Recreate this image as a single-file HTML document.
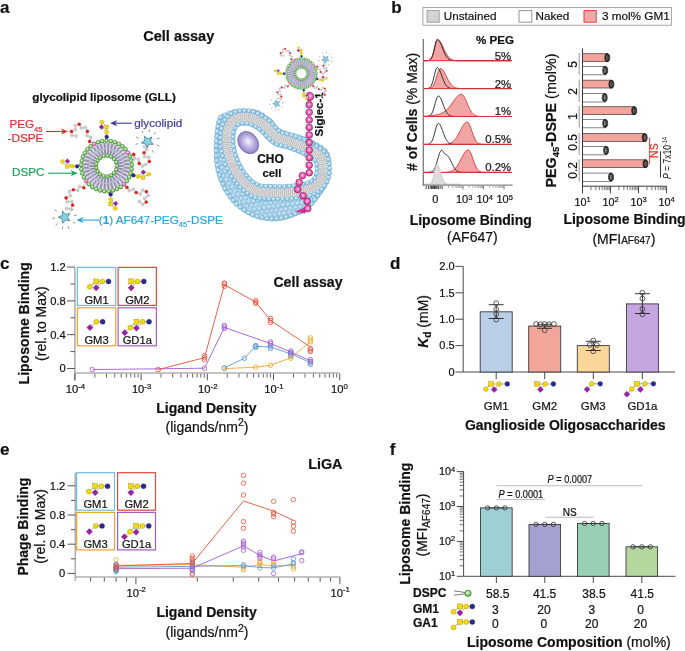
<!DOCTYPE html>
<html><head><meta charset="utf-8"><style>
html,body{margin:0;padding:0;background:#fff;}
svg{display:block;will-change:transform;}
text{font-family:"Liberation Sans", sans-serif;}
</style></head><body>
<svg width="685" height="651" viewBox="0 0 685 651">
<rect width="685" height="651" fill="#fff"/>
<defs>
<radialGradient id="gbead" cx="0.45" cy="0.4" r="0.6"><stop offset="0" stop-color="#e4f8d8"/><stop offset="0.45" stop-color="#a6dc8c"/><stop offset="1" stop-color="#4aa83a"/></radialGradient>
<radialGradient id="pbead" cx="0.45" cy="0.4" r="0.6"><stop offset="0" stop-color="#fbe0f0"/><stop offset="1" stop-color="#d84aa0"/></radialGradient>
<radialGradient id="bbead" cx="0.4" cy="0.35" r="0.65"><stop offset="0" stop-color="#e8f6fd"/><stop offset="0.45" stop-color="#b2daf0"/><stop offset="1" stop-color="#84bce0"/></radialGradient>
<radialGradient id="mbead" cx="0.5" cy="0.45" r="0.6"><stop offset="0" stop-color="#fde4f2"/><stop offset="0.35" stop-color="#ef7cc0"/><stop offset="1" stop-color="#c81e84"/></radialGradient>
<radialGradient id="nuc" cx="0.5" cy="0.5" r="0.55" fx="0.55" fy="0.45"><stop offset="0" stop-color="#f6f4ff"/><stop offset="0.55" stop-color="#b8acdf"/><stop offset="1" stop-color="#8474c4"/></radialGradient>
<pattern id="beadpat" width="4.8" height="8.3" patternUnits="userSpaceOnUse" patternTransform="rotate(-8)">
<rect width="4.8" height="8.3" fill="#f6fafd"/>
<circle cx="2.4" cy="2.07" r="2.2" fill="url(#bbead)" stroke="#6aa4c8" stroke-width="0.45"/>
<circle cx="0" cy="6.22" r="2.2" fill="url(#bbead)" stroke="#6aa4c8" stroke-width="0.45"/>
<circle cx="4.8" cy="6.22" r="2.2" fill="url(#bbead)" stroke="#6aa4c8" stroke-width="0.45"/>
</pattern>
</defs>
<text x="0.00" y="12.50" font-size="17.00" font-weight="bold" fill="#111" stroke="#111" stroke-width="0.20">a</text>
<text x="143.30" y="40.90" font-size="14.50" font-weight="bold" fill="#111" stroke="#111" stroke-width="0.20">Cell assay</text>
<text x="32.30" y="101.00" font-size="11.70" font-weight="bold" fill="#111" stroke="#111" stroke-width="0.20">glycolipid liposome (GLL)</text>
<g transform="translate(106.5,166)">
<path d="M-12.50,-22.00 L-16.90,-24.50 L-15.80,-28.70 L-19.60,-30.70 L-19.10,-34.60 L-21.20,-38.50 L-25.00,-38.00 L-27.30,-41.80 L-31.10,-40.60 L-31.10,-36.40 L-35.00,-34.60 L-34.60,-30.70 L-30.40,-29.90" fill="none" stroke="#8a8a8a" stroke-width="0.5"/>
<circle cx="-16.90" cy="-24.50" r="1.55" fill="#e8201c" stroke="#b01010" stroke-width="0.3"/>
<circle cx="-15.80" cy="-28.70" r="1.5" fill="#d2d2d2" stroke="#9a9a9a" stroke-width="0.35"/>
<circle cx="-19.60" cy="-30.70" r="1.5" fill="#d2d2d2" stroke="#9a9a9a" stroke-width="0.35"/>
<circle cx="-19.10" cy="-34.60" r="1.55" fill="#e8201c" stroke="#b01010" stroke-width="0.3"/>
<circle cx="-21.20" cy="-38.50" r="1.5" fill="#d2d2d2" stroke="#9a9a9a" stroke-width="0.35"/>
<circle cx="-25.00" cy="-38.00" r="1.5" fill="#d2d2d2" stroke="#9a9a9a" stroke-width="0.35"/>
<circle cx="-27.30" cy="-41.80" r="1.55" fill="#e8201c" stroke="#b01010" stroke-width="0.3"/>
<circle cx="-31.10" cy="-40.60" r="1.5" fill="#d2d2d2" stroke="#9a9a9a" stroke-width="0.35"/>
<circle cx="-31.10" cy="-36.40" r="1.5" fill="#d2d2d2" stroke="#9a9a9a" stroke-width="0.35"/>
<circle cx="-35.00" cy="-34.60" r="1.55" fill="#e8201c" stroke="#b01010" stroke-width="0.3"/>
<circle cx="-34.60" cy="-30.70" r="1.5" fill="#d2d2d2" stroke="#9a9a9a" stroke-width="0.35"/>
<circle cx="-30.40" cy="-29.90" r="1.5" fill="#d2d2d2" stroke="#9a9a9a" stroke-width="0.35"/>
<path d="M21.50,-12.60 L27.20,-11.60 L27.70,-7.60 L31.90,-6.80 L32.70,-2.60 L35.80,0.10 L39.20,-1.40 L42.80,-4.50 L42.30,-8.70 L38.10,-9.30 L37.50,-13.30 L40.20,-16.20 L37.70,-19.50" fill="none" stroke="#8a8a8a" stroke-width="0.5"/>
<circle cx="27.20" cy="-11.60" r="1.55" fill="#e8201c" stroke="#b01010" stroke-width="0.3"/>
<circle cx="27.70" cy="-7.60" r="1.5" fill="#d2d2d2" stroke="#9a9a9a" stroke-width="0.35"/>
<circle cx="31.90" cy="-6.80" r="1.5" fill="#d2d2d2" stroke="#9a9a9a" stroke-width="0.35"/>
<circle cx="32.70" cy="-2.60" r="1.55" fill="#e8201c" stroke="#b01010" stroke-width="0.3"/>
<circle cx="35.80" cy="0.10" r="1.5" fill="#d2d2d2" stroke="#9a9a9a" stroke-width="0.35"/>
<circle cx="39.20" cy="-1.40" r="1.5" fill="#d2d2d2" stroke="#9a9a9a" stroke-width="0.35"/>
<circle cx="42.80" cy="-4.50" r="1.55" fill="#e8201c" stroke="#b01010" stroke-width="0.3"/>
<circle cx="42.30" cy="-8.70" r="1.5" fill="#d2d2d2" stroke="#9a9a9a" stroke-width="0.35"/>
<circle cx="38.10" cy="-9.30" r="1.5" fill="#d2d2d2" stroke="#9a9a9a" stroke-width="0.35"/>
<circle cx="37.50" cy="-13.30" r="1.55" fill="#e8201c" stroke="#b01010" stroke-width="0.3"/>
<circle cx="40.20" cy="-16.20" r="1.5" fill="#d2d2d2" stroke="#9a9a9a" stroke-width="0.35"/>
<circle cx="37.70" cy="-19.50" r="1.5" fill="#d2d2d2" stroke="#9a9a9a" stroke-width="0.35"/>
<path d="M-19.40,15.70 L-22.70,21.70 L-26.80,20.40 L-28.80,24.30 L-33.10,23.70 L-37.10,25.50 L-36.10,29.70 L-40.40,31.90 L-39.00,35.70 L-34.80,35.50 L-33.80,39.10 L-35.80,43.20 L-40.00,42.40" fill="none" stroke="#8a8a8a" stroke-width="0.5"/>
<circle cx="-22.70" cy="21.70" r="1.55" fill="#e8201c" stroke="#b01010" stroke-width="0.3"/>
<circle cx="-26.80" cy="20.40" r="1.5" fill="#d2d2d2" stroke="#9a9a9a" stroke-width="0.35"/>
<circle cx="-28.80" cy="24.30" r="1.5" fill="#d2d2d2" stroke="#9a9a9a" stroke-width="0.35"/>
<circle cx="-33.10" cy="23.70" r="1.55" fill="#e8201c" stroke="#b01010" stroke-width="0.3"/>
<circle cx="-37.10" cy="25.50" r="1.5" fill="#d2d2d2" stroke="#9a9a9a" stroke-width="0.35"/>
<circle cx="-36.10" cy="29.70" r="1.5" fill="#d2d2d2" stroke="#9a9a9a" stroke-width="0.35"/>
<circle cx="-40.40" cy="31.90" r="1.55" fill="#e8201c" stroke="#b01010" stroke-width="0.3"/>
<circle cx="-39.00" cy="35.70" r="1.5" fill="#d2d2d2" stroke="#9a9a9a" stroke-width="0.35"/>
<circle cx="-34.80" cy="35.50" r="1.5" fill="#d2d2d2" stroke="#9a9a9a" stroke-width="0.35"/>
<circle cx="-33.80" cy="39.10" r="1.55" fill="#e8201c" stroke="#b01010" stroke-width="0.3"/>
<circle cx="-35.80" cy="43.20" r="1.5" fill="#d2d2d2" stroke="#9a9a9a" stroke-width="0.35"/>
<circle cx="-40.00" cy="42.40" r="1.5" fill="#d2d2d2" stroke="#9a9a9a" stroke-width="0.35"/>
<path d="M15.80,19.20 L20.50,21.40 L22.70,24.70 L26.90,23.20 L29.70,26.50 L33.70,28.00 L36.10,24.00 L39.90,25.60 L41.70,29.40 L38.10,32.20 L39.70,36.00 L36.20,38.30 L32.80,35.60" fill="none" stroke="#8a8a8a" stroke-width="0.5"/>
<circle cx="20.50" cy="21.40" r="1.55" fill="#e8201c" stroke="#b01010" stroke-width="0.3"/>
<circle cx="22.70" cy="24.70" r="1.5" fill="#d2d2d2" stroke="#9a9a9a" stroke-width="0.35"/>
<circle cx="26.90" cy="23.20" r="1.5" fill="#d2d2d2" stroke="#9a9a9a" stroke-width="0.35"/>
<circle cx="29.70" cy="26.50" r="1.55" fill="#e8201c" stroke="#b01010" stroke-width="0.3"/>
<circle cx="33.70" cy="28.00" r="1.5" fill="#d2d2d2" stroke="#9a9a9a" stroke-width="0.35"/>
<circle cx="36.10" cy="24.00" r="1.5" fill="#d2d2d2" stroke="#9a9a9a" stroke-width="0.35"/>
<circle cx="39.90" cy="25.60" r="1.55" fill="#e8201c" stroke="#b01010" stroke-width="0.3"/>
<circle cx="41.70" cy="29.40" r="1.5" fill="#d2d2d2" stroke="#9a9a9a" stroke-width="0.35"/>
<circle cx="38.10" cy="32.20" r="1.5" fill="#d2d2d2" stroke="#9a9a9a" stroke-width="0.35"/>
<circle cx="39.70" cy="36.00" r="1.55" fill="#e8201c" stroke="#b01010" stroke-width="0.3"/>
<circle cx="36.20" cy="38.30" r="1.5" fill="#d2d2d2" stroke="#9a9a9a" stroke-width="0.35"/>
<circle cx="32.80" cy="35.60" r="1.5" fill="#d2d2d2" stroke="#9a9a9a" stroke-width="0.35"/>
<circle cx="41.10" cy="-24.30" r="7.0" fill="#d8f3fa" opacity="0.35"/>
<path d="M37.90,-29.84 L41.40,-27.18 L45.38,-29.06 L43.94,-24.90 L46.95,-21.70 L42.55,-21.79 L40.43,-17.94 L39.16,-22.14 L34.84,-22.97 L38.45,-25.48 Z" fill="#86d4ea" stroke="#2a4a58" stroke-width="0.55" stroke-linejoin="round"/>
<line x1="32.20" y1="-27.90" x2="29.60" y2="-28.95" stroke="#5a5a5a" stroke-width="0.65"/>
<line x1="36.74" y1="-32.85" x2="35.47" y2="-35.35" stroke="#5a5a5a" stroke-width="0.65"/>
<line x1="42.60" y1="-33.78" x2="43.04" y2="-36.55" stroke="#5a5a5a" stroke-width="0.65"/>
<line x1="47.27" y1="-31.65" x2="49.07" y2="-33.80" stroke="#5a5a5a" stroke-width="0.65"/>
<line x1="50.28" y1="-27.11" x2="52.96" y2="-27.93" stroke="#5a5a5a" stroke-width="0.65"/>
<line x1="50.12" y1="-21.02" x2="52.75" y2="-20.06" stroke="#5a5a5a" stroke-width="0.65"/>
<line x1="45.75" y1="-15.90" x2="47.11" y2="-13.45" stroke="#5a5a5a" stroke-width="0.65"/>
<line x1="31.71" y1="-22.30" x2="28.97" y2="-21.72" stroke="#5a5a5a" stroke-width="0.65"/>
<circle cx="-41.90" cy="51.20" r="7.0" fill="#d8f3fa" opacity="0.35"/>
<path d="M-43.88,45.11 L-41.00,48.44 L-36.72,47.44 L-39.00,51.20 L-36.72,54.96 L-41.00,53.96 L-43.88,57.29 L-44.25,52.90 L-48.30,51.20 L-44.25,49.50 Z" fill="#86d4ea" stroke="#2a4a58" stroke-width="0.55" stroke-linejoin="round"/>
<line x1="-49.57" y1="45.42" x2="-51.80" y2="43.74" stroke="#5a5a5a" stroke-width="0.65"/>
<line x1="-51.46" y1="52.04" x2="-54.25" y2="52.28" stroke="#5a5a5a" stroke-width="0.65"/>
<line x1="-48.92" y1="57.75" x2="-50.97" y2="59.66" stroke="#5a5a5a" stroke-width="0.65"/>
<line x1="-43.73" y1="60.62" x2="-44.27" y2="63.37" stroke="#5a5a5a" stroke-width="0.65"/>
<line x1="-38.46" y1="60.16" x2="-37.46" y2="62.78" stroke="#5a5a5a" stroke-width="0.65"/>
<line x1="-33.67" y1="56.14" x2="-31.27" y2="57.59" stroke="#5a5a5a" stroke-width="0.65"/>
<line x1="-32.45" y1="49.53" x2="-29.69" y2="49.05" stroke="#5a5a5a" stroke-width="0.65"/>
<line x1="-34.88" y1="44.65" x2="-32.83" y2="42.74" stroke="#5a5a5a" stroke-width="0.65"/>
<circle cx="0" cy="0" r="17.5" fill="none" stroke="#d6d2ec" stroke-width="12"/>
<line x1="22.94" y1="1.63" x2="17.57" y2="1.01" stroke="#4e4e5e" stroke-width="0.5"/>
<line x1="22.88" y1="2.38" x2="17.48" y2="2.05" stroke="#4e4e5e" stroke-width="0.5"/>
<line x1="22.31" y1="5.59" x2="17.13" y2="4.05" stroke="#4e4e5e" stroke-width="0.5"/>
<line x1="22.12" y1="6.31" x2="16.86" y2="5.06" stroke="#4e4e5e" stroke-width="0.5"/>
<line x1="21.00" y1="9.38" x2="16.16" y2="6.96" stroke="#4e4e5e" stroke-width="0.5"/>
<line x1="20.68" y1="10.06" x2="15.72" y2="7.91" stroke="#4e4e5e" stroke-width="0.5"/>
<line x1="19.05" y1="12.88" x2="14.71" y2="9.66" stroke="#4e4e5e" stroke-width="0.5"/>
<line x1="18.62" y1="13.50" x2="14.11" y2="10.52" stroke="#4e4e5e" stroke-width="0.5"/>
<line x1="16.53" y1="16.00" x2="12.81" y2="12.07" stroke="#4e4e5e" stroke-width="0.5"/>
<line x1="16.00" y1="16.53" x2="12.07" y2="12.81" stroke="#4e4e5e" stroke-width="0.5"/>
<line x1="13.50" y1="18.62" x2="10.52" y2="14.11" stroke="#4e4e5e" stroke-width="0.5"/>
<line x1="12.88" y1="19.05" x2="9.66" y2="14.71" stroke="#4e4e5e" stroke-width="0.5"/>
<line x1="10.06" y1="20.68" x2="7.91" y2="15.72" stroke="#4e4e5e" stroke-width="0.5"/>
<line x1="9.38" y1="21.00" x2="6.96" y2="16.16" stroke="#4e4e5e" stroke-width="0.5"/>
<line x1="6.31" y1="22.12" x2="5.06" y2="16.86" stroke="#4e4e5e" stroke-width="0.5"/>
<line x1="5.59" y1="22.31" x2="4.05" y2="17.13" stroke="#4e4e5e" stroke-width="0.5"/>
<line x1="2.38" y1="22.88" x2="2.05" y2="17.48" stroke="#4e4e5e" stroke-width="0.5"/>
<line x1="1.63" y1="22.94" x2="1.01" y2="17.57" stroke="#4e4e5e" stroke-width="0.5"/>
<line x1="-1.63" y1="22.94" x2="-1.01" y2="17.57" stroke="#4e4e5e" stroke-width="0.5"/>
<line x1="-2.38" y1="22.88" x2="-2.05" y2="17.48" stroke="#4e4e5e" stroke-width="0.5"/>
<line x1="-5.59" y1="22.31" x2="-4.05" y2="17.13" stroke="#4e4e5e" stroke-width="0.5"/>
<line x1="-6.31" y1="22.12" x2="-5.06" y2="16.86" stroke="#4e4e5e" stroke-width="0.5"/>
<line x1="-9.38" y1="21.00" x2="-6.96" y2="16.16" stroke="#4e4e5e" stroke-width="0.5"/>
<line x1="-10.06" y1="20.68" x2="-7.91" y2="15.72" stroke="#4e4e5e" stroke-width="0.5"/>
<line x1="-12.88" y1="19.05" x2="-9.66" y2="14.71" stroke="#4e4e5e" stroke-width="0.5"/>
<line x1="-13.50" y1="18.62" x2="-10.52" y2="14.11" stroke="#4e4e5e" stroke-width="0.5"/>
<line x1="-16.00" y1="16.53" x2="-12.07" y2="12.81" stroke="#4e4e5e" stroke-width="0.5"/>
<line x1="-16.53" y1="16.00" x2="-12.81" y2="12.07" stroke="#4e4e5e" stroke-width="0.5"/>
<line x1="-18.62" y1="13.50" x2="-14.11" y2="10.52" stroke="#4e4e5e" stroke-width="0.5"/>
<line x1="-19.05" y1="12.88" x2="-14.71" y2="9.66" stroke="#4e4e5e" stroke-width="0.5"/>
<line x1="-20.68" y1="10.06" x2="-15.72" y2="7.91" stroke="#4e4e5e" stroke-width="0.5"/>
<line x1="-21.00" y1="9.38" x2="-16.16" y2="6.96" stroke="#4e4e5e" stroke-width="0.5"/>
<line x1="-22.12" y1="6.31" x2="-16.86" y2="5.06" stroke="#4e4e5e" stroke-width="0.5"/>
<line x1="-22.31" y1="5.59" x2="-17.13" y2="4.05" stroke="#4e4e5e" stroke-width="0.5"/>
<line x1="-22.88" y1="2.38" x2="-17.48" y2="2.05" stroke="#4e4e5e" stroke-width="0.5"/>
<line x1="-22.94" y1="1.63" x2="-17.57" y2="1.01" stroke="#4e4e5e" stroke-width="0.5"/>
<line x1="-22.94" y1="-1.63" x2="-17.57" y2="-1.01" stroke="#4e4e5e" stroke-width="0.5"/>
<line x1="-22.88" y1="-2.38" x2="-17.48" y2="-2.05" stroke="#4e4e5e" stroke-width="0.5"/>
<line x1="-22.31" y1="-5.59" x2="-17.13" y2="-4.05" stroke="#4e4e5e" stroke-width="0.5"/>
<line x1="-22.12" y1="-6.31" x2="-16.86" y2="-5.06" stroke="#4e4e5e" stroke-width="0.5"/>
<line x1="-21.00" y1="-9.38" x2="-16.16" y2="-6.96" stroke="#4e4e5e" stroke-width="0.5"/>
<line x1="-20.68" y1="-10.06" x2="-15.72" y2="-7.91" stroke="#4e4e5e" stroke-width="0.5"/>
<line x1="-19.05" y1="-12.88" x2="-14.71" y2="-9.66" stroke="#4e4e5e" stroke-width="0.5"/>
<line x1="-18.62" y1="-13.50" x2="-14.11" y2="-10.52" stroke="#4e4e5e" stroke-width="0.5"/>
<line x1="-16.53" y1="-16.00" x2="-12.81" y2="-12.07" stroke="#4e4e5e" stroke-width="0.5"/>
<line x1="-16.00" y1="-16.53" x2="-12.07" y2="-12.81" stroke="#4e4e5e" stroke-width="0.5"/>
<line x1="-13.50" y1="-18.62" x2="-10.52" y2="-14.11" stroke="#4e4e5e" stroke-width="0.5"/>
<line x1="-12.88" y1="-19.05" x2="-9.66" y2="-14.71" stroke="#4e4e5e" stroke-width="0.5"/>
<line x1="-10.06" y1="-20.68" x2="-7.91" y2="-15.72" stroke="#4e4e5e" stroke-width="0.5"/>
<line x1="-9.38" y1="-21.00" x2="-6.96" y2="-16.16" stroke="#4e4e5e" stroke-width="0.5"/>
<line x1="-6.31" y1="-22.12" x2="-5.06" y2="-16.86" stroke="#4e4e5e" stroke-width="0.5"/>
<line x1="-5.59" y1="-22.31" x2="-4.05" y2="-17.13" stroke="#4e4e5e" stroke-width="0.5"/>
<line x1="-2.38" y1="-22.88" x2="-2.05" y2="-17.48" stroke="#4e4e5e" stroke-width="0.5"/>
<line x1="-1.63" y1="-22.94" x2="-1.01" y2="-17.57" stroke="#4e4e5e" stroke-width="0.5"/>
<line x1="1.63" y1="-22.94" x2="1.01" y2="-17.57" stroke="#4e4e5e" stroke-width="0.5"/>
<line x1="2.38" y1="-22.88" x2="2.05" y2="-17.48" stroke="#4e4e5e" stroke-width="0.5"/>
<line x1="5.59" y1="-22.31" x2="4.05" y2="-17.13" stroke="#4e4e5e" stroke-width="0.5"/>
<line x1="6.31" y1="-22.12" x2="5.06" y2="-16.86" stroke="#4e4e5e" stroke-width="0.5"/>
<line x1="9.38" y1="-21.00" x2="6.96" y2="-16.16" stroke="#4e4e5e" stroke-width="0.5"/>
<line x1="10.06" y1="-20.68" x2="7.91" y2="-15.72" stroke="#4e4e5e" stroke-width="0.5"/>
<line x1="12.88" y1="-19.05" x2="9.66" y2="-14.71" stroke="#4e4e5e" stroke-width="0.5"/>
<line x1="13.50" y1="-18.62" x2="10.52" y2="-14.11" stroke="#4e4e5e" stroke-width="0.5"/>
<line x1="16.00" y1="-16.53" x2="12.07" y2="-12.81" stroke="#4e4e5e" stroke-width="0.5"/>
<line x1="16.53" y1="-16.00" x2="12.81" y2="-12.07" stroke="#4e4e5e" stroke-width="0.5"/>
<line x1="18.62" y1="-13.50" x2="14.11" y2="-10.52" stroke="#4e4e5e" stroke-width="0.5"/>
<line x1="19.05" y1="-12.88" x2="14.71" y2="-9.66" stroke="#4e4e5e" stroke-width="0.5"/>
<line x1="20.68" y1="-10.06" x2="15.72" y2="-7.91" stroke="#4e4e5e" stroke-width="0.5"/>
<line x1="21.00" y1="-9.38" x2="16.16" y2="-6.96" stroke="#4e4e5e" stroke-width="0.5"/>
<line x1="22.12" y1="-6.31" x2="16.86" y2="-5.06" stroke="#4e4e5e" stroke-width="0.5"/>
<line x1="22.31" y1="-5.59" x2="17.13" y2="-4.05" stroke="#4e4e5e" stroke-width="0.5"/>
<line x1="22.88" y1="-2.38" x2="17.48" y2="-2.05" stroke="#4e4e5e" stroke-width="0.5"/>
<line x1="22.94" y1="-1.63" x2="17.57" y2="-1.01" stroke="#4e4e5e" stroke-width="0.5"/>
<line x1="12.20" y1="-0.23" x2="17.19" y2="-0.66" stroke="#4e4e5e" stroke-width="0.5"/>
<line x1="12.20" y1="0.23" x2="17.19" y2="0.66" stroke="#4e4e5e" stroke-width="0.5"/>
<line x1="11.98" y1="2.31" x2="16.95" y2="2.93" stroke="#4e4e5e" stroke-width="0.5"/>
<line x1="11.88" y1="2.77" x2="16.67" y2="4.22" stroke="#4e4e5e" stroke-width="0.5"/>
<line x1="11.24" y1="4.75" x2="15.97" y2="6.39" stroke="#4e4e5e" stroke-width="0.5"/>
<line x1="11.05" y1="5.18" x2="15.43" y2="7.59" stroke="#4e4e5e" stroke-width="0.5"/>
<line x1="10.01" y1="6.98" x2="14.29" y2="9.57" stroke="#4e4e5e" stroke-width="0.5"/>
<line x1="9.73" y1="7.36" x2="13.52" y2="10.64" stroke="#4e4e5e" stroke-width="0.5"/>
<line x1="8.34" y1="8.91" x2="11.99" y2="12.33" stroke="#4e4e5e" stroke-width="0.5"/>
<line x1="7.99" y1="9.22" x2="11.01" y2="13.21" stroke="#4e4e5e" stroke-width="0.5"/>
<line x1="6.30" y1="10.45" x2="9.17" y2="14.55" stroke="#4e4e5e" stroke-width="0.5"/>
<line x1="5.90" y1="10.68" x2="8.02" y2="15.21" stroke="#4e4e5e" stroke-width="0.5"/>
<line x1="3.99" y1="11.53" x2="5.94" y2="16.14" stroke="#4e4e5e" stroke-width="0.5"/>
<line x1="3.55" y1="11.67" x2="4.68" y2="16.55" stroke="#4e4e5e" stroke-width="0.5"/>
<line x1="1.51" y1="12.11" x2="2.45" y2="17.02" stroke="#4e4e5e" stroke-width="0.5"/>
<line x1="1.04" y1="12.16" x2="1.14" y2="17.16" stroke="#4e4e5e" stroke-width="0.5"/>
<line x1="-1.04" y1="12.16" x2="-1.14" y2="17.16" stroke="#4e4e5e" stroke-width="0.5"/>
<line x1="-1.51" y1="12.11" x2="-2.45" y2="17.02" stroke="#4e4e5e" stroke-width="0.5"/>
<line x1="-3.55" y1="11.67" x2="-4.68" y2="16.55" stroke="#4e4e5e" stroke-width="0.5"/>
<line x1="-3.99" y1="11.53" x2="-5.94" y2="16.14" stroke="#4e4e5e" stroke-width="0.5"/>
<line x1="-5.90" y1="10.68" x2="-8.02" y2="15.21" stroke="#4e4e5e" stroke-width="0.5"/>
<line x1="-6.30" y1="10.45" x2="-9.17" y2="14.55" stroke="#4e4e5e" stroke-width="0.5"/>
<line x1="-7.99" y1="9.22" x2="-11.01" y2="13.21" stroke="#4e4e5e" stroke-width="0.5"/>
<line x1="-8.34" y1="8.91" x2="-11.99" y2="12.33" stroke="#4e4e5e" stroke-width="0.5"/>
<line x1="-9.73" y1="7.36" x2="-13.52" y2="10.64" stroke="#4e4e5e" stroke-width="0.5"/>
<line x1="-10.01" y1="6.98" x2="-14.29" y2="9.57" stroke="#4e4e5e" stroke-width="0.5"/>
<line x1="-11.05" y1="5.18" x2="-15.43" y2="7.59" stroke="#4e4e5e" stroke-width="0.5"/>
<line x1="-11.24" y1="4.75" x2="-15.97" y2="6.39" stroke="#4e4e5e" stroke-width="0.5"/>
<line x1="-11.88" y1="2.77" x2="-16.67" y2="4.22" stroke="#4e4e5e" stroke-width="0.5"/>
<line x1="-11.98" y1="2.31" x2="-16.95" y2="2.93" stroke="#4e4e5e" stroke-width="0.5"/>
<line x1="-12.20" y1="0.23" x2="-17.19" y2="0.66" stroke="#4e4e5e" stroke-width="0.5"/>
<line x1="-12.20" y1="-0.23" x2="-17.19" y2="-0.66" stroke="#4e4e5e" stroke-width="0.5"/>
<line x1="-11.98" y1="-2.31" x2="-16.95" y2="-2.93" stroke="#4e4e5e" stroke-width="0.5"/>
<line x1="-11.88" y1="-2.77" x2="-16.67" y2="-4.22" stroke="#4e4e5e" stroke-width="0.5"/>
<line x1="-11.24" y1="-4.75" x2="-15.97" y2="-6.39" stroke="#4e4e5e" stroke-width="0.5"/>
<line x1="-11.05" y1="-5.18" x2="-15.43" y2="-7.59" stroke="#4e4e5e" stroke-width="0.5"/>
<line x1="-10.01" y1="-6.98" x2="-14.29" y2="-9.57" stroke="#4e4e5e" stroke-width="0.5"/>
<line x1="-9.73" y1="-7.36" x2="-13.52" y2="-10.64" stroke="#4e4e5e" stroke-width="0.5"/>
<line x1="-8.34" y1="-8.91" x2="-11.99" y2="-12.33" stroke="#4e4e5e" stroke-width="0.5"/>
<line x1="-7.99" y1="-9.22" x2="-11.01" y2="-13.21" stroke="#4e4e5e" stroke-width="0.5"/>
<line x1="-6.30" y1="-10.45" x2="-9.17" y2="-14.55" stroke="#4e4e5e" stroke-width="0.5"/>
<line x1="-5.90" y1="-10.68" x2="-8.02" y2="-15.21" stroke="#4e4e5e" stroke-width="0.5"/>
<line x1="-3.99" y1="-11.53" x2="-5.94" y2="-16.14" stroke="#4e4e5e" stroke-width="0.5"/>
<line x1="-3.55" y1="-11.67" x2="-4.68" y2="-16.55" stroke="#4e4e5e" stroke-width="0.5"/>
<line x1="-1.51" y1="-12.11" x2="-2.45" y2="-17.02" stroke="#4e4e5e" stroke-width="0.5"/>
<line x1="-1.04" y1="-12.16" x2="-1.14" y2="-17.16" stroke="#4e4e5e" stroke-width="0.5"/>
<line x1="1.04" y1="-12.16" x2="1.14" y2="-17.16" stroke="#4e4e5e" stroke-width="0.5"/>
<line x1="1.51" y1="-12.11" x2="2.45" y2="-17.02" stroke="#4e4e5e" stroke-width="0.5"/>
<line x1="3.55" y1="-11.67" x2="4.68" y2="-16.55" stroke="#4e4e5e" stroke-width="0.5"/>
<line x1="3.99" y1="-11.53" x2="5.94" y2="-16.14" stroke="#4e4e5e" stroke-width="0.5"/>
<line x1="5.90" y1="-10.68" x2="8.02" y2="-15.21" stroke="#4e4e5e" stroke-width="0.5"/>
<line x1="6.30" y1="-10.45" x2="9.17" y2="-14.55" stroke="#4e4e5e" stroke-width="0.5"/>
<line x1="7.99" y1="-9.22" x2="11.01" y2="-13.21" stroke="#4e4e5e" stroke-width="0.5"/>
<line x1="8.34" y1="-8.91" x2="11.99" y2="-12.33" stroke="#4e4e5e" stroke-width="0.5"/>
<line x1="9.73" y1="-7.36" x2="13.52" y2="-10.64" stroke="#4e4e5e" stroke-width="0.5"/>
<line x1="10.01" y1="-6.98" x2="14.29" y2="-9.57" stroke="#4e4e5e" stroke-width="0.5"/>
<line x1="11.05" y1="-5.18" x2="15.43" y2="-7.59" stroke="#4e4e5e" stroke-width="0.5"/>
<line x1="11.24" y1="-4.75" x2="15.97" y2="-6.39" stroke="#4e4e5e" stroke-width="0.5"/>
<line x1="11.88" y1="-2.77" x2="16.67" y2="-4.22" stroke="#4e4e5e" stroke-width="0.5"/>
<line x1="11.98" y1="-2.31" x2="16.95" y2="-2.93" stroke="#4e4e5e" stroke-width="0.5"/>
<circle cx="0.00" cy="-25.30" r="1.95" fill="url(#gbead)" stroke="#22601f" stroke-width="0.45"/>
<circle cx="4.28" cy="-24.94" r="1.95" fill="url(#gbead)" stroke="#22601f" stroke-width="0.45"/>
<circle cx="8.43" cy="-23.85" r="1.95" fill="url(#gbead)" stroke="#22601f" stroke-width="0.45"/>
<circle cx="12.34" cy="-22.09" r="1.95" fill="url(#gbead)" stroke="#22601f" stroke-width="0.45"/>
<circle cx="15.89" cy="-19.68" r="1.95" fill="url(#gbead)" stroke="#22601f" stroke-width="0.45"/>
<circle cx="18.99" cy="-16.72" r="1.95" fill="url(#gbead)" stroke="#22601f" stroke-width="0.45"/>
<circle cx="21.54" cy="-13.26" r="1.95" fill="url(#pbead)" stroke="#8a2a6a" stroke-width="0.45"/>
<circle cx="23.48" cy="-9.43" r="1.95" fill="url(#gbead)" stroke="#22601f" stroke-width="0.45"/>
<circle cx="24.73" cy="-5.33" r="1.95" fill="url(#gbead)" stroke="#22601f" stroke-width="0.45"/>
<circle cx="25.28" cy="-1.07" r="1.95" fill="url(#gbead)" stroke="#22601f" stroke-width="0.45"/>
<circle cx="25.10" cy="3.21" r="1.95" fill="url(#gbead)" stroke="#22601f" stroke-width="0.45"/>
<circle cx="24.19" cy="7.41" r="1.95" fill="url(#gbead)" stroke="#22601f" stroke-width="0.45"/>
<circle cx="22.59" cy="11.39" r="1.95" fill="url(#gbead)" stroke="#22601f" stroke-width="0.45"/>
<circle cx="20.34" cy="15.04" r="1.95" fill="url(#gbead)" stroke="#22601f" stroke-width="0.45"/>
<circle cx="17.51" cy="18.27" r="1.95" fill="url(#pbead)" stroke="#8a2a6a" stroke-width="0.45"/>
<circle cx="14.17" cy="20.96" r="1.95" fill="url(#gbead)" stroke="#22601f" stroke-width="0.45"/>
<circle cx="10.42" cy="23.05" r="1.95" fill="url(#gbead)" stroke="#22601f" stroke-width="0.45"/>
<circle cx="6.38" cy="24.48" r="1.95" fill="url(#gbead)" stroke="#22601f" stroke-width="0.45"/>
<circle cx="2.15" cy="25.21" r="1.95" fill="url(#gbead)" stroke="#22601f" stroke-width="0.45"/>
<circle cx="-2.15" cy="25.21" r="1.95" fill="url(#gbead)" stroke="#22601f" stroke-width="0.45"/>
<circle cx="-6.38" cy="24.48" r="1.95" fill="url(#gbead)" stroke="#22601f" stroke-width="0.45"/>
<circle cx="-10.42" cy="23.05" r="1.95" fill="url(#gbead)" stroke="#22601f" stroke-width="0.45"/>
<circle cx="-14.17" cy="20.96" r="1.95" fill="url(#gbead)" stroke="#22601f" stroke-width="0.45"/>
<circle cx="-17.51" cy="18.27" r="1.95" fill="url(#gbead)" stroke="#22601f" stroke-width="0.45"/>
<circle cx="-20.34" cy="15.04" r="1.95" fill="url(#pbead)" stroke="#8a2a6a" stroke-width="0.45"/>
<circle cx="-22.59" cy="11.39" r="1.95" fill="url(#gbead)" stroke="#22601f" stroke-width="0.45"/>
<circle cx="-24.19" cy="7.41" r="1.95" fill="url(#gbead)" stroke="#22601f" stroke-width="0.45"/>
<circle cx="-25.10" cy="3.21" r="1.95" fill="url(#gbead)" stroke="#22601f" stroke-width="0.45"/>
<circle cx="-25.28" cy="-1.07" r="1.95" fill="url(#gbead)" stroke="#22601f" stroke-width="0.45"/>
<circle cx="-24.73" cy="-5.33" r="1.95" fill="url(#gbead)" stroke="#22601f" stroke-width="0.45"/>
<circle cx="-23.48" cy="-9.43" r="1.95" fill="url(#gbead)" stroke="#22601f" stroke-width="0.45"/>
<circle cx="-21.54" cy="-13.26" r="1.95" fill="url(#gbead)" stroke="#22601f" stroke-width="0.45"/>
<circle cx="-18.99" cy="-16.72" r="1.95" fill="url(#gbead)" stroke="#22601f" stroke-width="0.45"/>
<circle cx="-15.89" cy="-19.68" r="1.95" fill="url(#gbead)" stroke="#22601f" stroke-width="0.45"/>
<circle cx="-12.34" cy="-22.09" r="1.95" fill="url(#pbead)" stroke="#8a2a6a" stroke-width="0.45"/>
<circle cx="-8.43" cy="-23.85" r="1.95" fill="url(#gbead)" stroke="#22601f" stroke-width="0.45"/>
<circle cx="-4.28" cy="-24.94" r="1.95" fill="url(#gbead)" stroke="#22601f" stroke-width="0.45"/>
<circle cx="10.40" cy="0.00" r="1.85" fill="url(#gbead)" stroke="#22601f" stroke-width="0.45"/>
<circle cx="9.70" cy="3.76" r="1.85" fill="url(#gbead)" stroke="#22601f" stroke-width="0.45"/>
<circle cx="7.69" cy="7.01" r="1.85" fill="url(#gbead)" stroke="#22601f" stroke-width="0.45"/>
<circle cx="4.64" cy="9.31" r="1.85" fill="url(#gbead)" stroke="#22601f" stroke-width="0.45"/>
<circle cx="0.96" cy="10.36" r="1.85" fill="url(#gbead)" stroke="#22601f" stroke-width="0.45"/>
<circle cx="-2.85" cy="10.00" r="1.85" fill="url(#gbead)" stroke="#22601f" stroke-width="0.45"/>
<circle cx="-6.27" cy="8.30" r="1.85" fill="url(#gbead)" stroke="#22601f" stroke-width="0.45"/>
<circle cx="-8.84" cy="5.47" r="1.85" fill="url(#gbead)" stroke="#22601f" stroke-width="0.45"/>
<circle cx="-10.22" cy="1.91" r="1.85" fill="url(#gbead)" stroke="#22601f" stroke-width="0.45"/>
<circle cx="-10.22" cy="-1.91" r="1.85" fill="url(#gbead)" stroke="#22601f" stroke-width="0.45"/>
<circle cx="-8.84" cy="-5.47" r="1.85" fill="url(#gbead)" stroke="#22601f" stroke-width="0.45"/>
<circle cx="-6.27" cy="-8.30" r="1.85" fill="url(#gbead)" stroke="#22601f" stroke-width="0.45"/>
<circle cx="-2.85" cy="-10.00" r="1.85" fill="url(#gbead)" stroke="#22601f" stroke-width="0.45"/>
<circle cx="0.96" cy="-10.36" r="1.85" fill="url(#gbead)" stroke="#22601f" stroke-width="0.45"/>
<circle cx="4.64" cy="-9.31" r="1.85" fill="url(#gbead)" stroke="#22601f" stroke-width="0.45"/>
<circle cx="7.69" cy="-7.01" r="1.85" fill="url(#gbead)" stroke="#22601f" stroke-width="0.45"/>
<circle cx="9.70" cy="-3.76" r="1.85" fill="url(#gbead)" stroke="#22601f" stroke-width="0.45"/>
<line x1="0.20" y1="-29.10" x2="0.20" y2="-34.10" stroke="#666" stroke-width="0.45"/>
<line x1="0.20" y1="-34.10" x2="0.20" y2="-39.10" stroke="#666" stroke-width="0.45"/>
<line x1="0.20" y1="-34.10" x2="-5.00" y2="-39.00" stroke="#666" stroke-width="0.45"/>
<line x1="0.20" y1="-39.10" x2="-4.60" y2="-43.90" stroke="#666" stroke-width="0.45"/>
<circle cx="0.20" cy="-29.10" r="1.9" fill="#2b2a8f" stroke="#151550" stroke-width="0.3"/>
<circle cx="0.20" cy="-34.10" r="2.05" fill="#f5d90a" stroke="#9a8a10" stroke-width="0.3"/>
<rect x="-1.70" y="-41.00" width="3.8" height="3.8" fill="#f5d90a" stroke="#9a8a10" stroke-width="0.3"/>
<path d="M-5.00,-41.40L-2.60,-39.00L-5.00,-36.60L-7.40,-39.00Z" fill="#9b22a8" stroke="#5a1060" stroke-width="0.3"/>
<circle cx="-4.60" cy="-43.90" r="2.05" fill="#f5d90a" stroke="#9a8a10" stroke-width="0.3"/>
<line x1="-29.40" y1="0.30" x2="-34.20" y2="0.30" stroke="#666" stroke-width="0.45"/>
<line x1="-34.20" y1="0.30" x2="-39.30" y2="0.30" stroke="#666" stroke-width="0.45"/>
<line x1="-34.20" y1="0.30" x2="-39.10" y2="-4.80" stroke="#666" stroke-width="0.45"/>
<line x1="-39.30" y1="0.30" x2="-44.00" y2="-4.40" stroke="#666" stroke-width="0.45"/>
<circle cx="-29.40" cy="0.30" r="1.9" fill="#2b2a8f" stroke="#151550" stroke-width="0.3"/>
<circle cx="-34.20" cy="0.30" r="2.05" fill="#f5d90a" stroke="#9a8a10" stroke-width="0.3"/>
<rect x="-41.20" y="-1.60" width="3.8" height="3.8" fill="#f5d90a" stroke="#9a8a10" stroke-width="0.3"/>
<path d="M-39.10,-7.20L-36.70,-4.80L-39.10,-2.40L-41.50,-4.80Z" fill="#9b22a8" stroke="#5a1060" stroke-width="0.3"/>
<circle cx="-44.00" cy="-4.40" r="2.05" fill="#f5d90a" stroke="#9a8a10" stroke-width="0.3"/>
<line x1="26.90" y1="9.30" x2="31.50" y2="10.50" stroke="#666" stroke-width="0.45"/>
<line x1="31.50" y1="10.50" x2="36.50" y2="11.60" stroke="#666" stroke-width="0.45"/>
<line x1="31.50" y1="10.50" x2="36.90" y2="6.20" stroke="#666" stroke-width="0.45"/>
<line x1="36.50" y1="11.60" x2="42.30" y2="8.20" stroke="#666" stroke-width="0.45"/>
<circle cx="26.90" cy="9.30" r="1.9" fill="#2b2a8f" stroke="#151550" stroke-width="0.3"/>
<circle cx="31.50" cy="10.50" r="2.05" fill="#f5d90a" stroke="#9a8a10" stroke-width="0.3"/>
<rect x="34.60" y="9.70" width="3.8" height="3.8" fill="#f5d90a" stroke="#9a8a10" stroke-width="0.3"/>
<path d="M36.90,3.80L39.30,6.20L36.90,8.60L34.50,6.20Z" fill="#9b22a8" stroke="#5a1060" stroke-width="0.3"/>
<circle cx="42.30" cy="8.20" r="2.05" fill="#f5d90a" stroke="#9a8a10" stroke-width="0.3"/>
<line x1="4.20" y1="28.40" x2="4.20" y2="33.50" stroke="#666" stroke-width="0.45"/>
<line x1="4.20" y1="33.50" x2="4.20" y2="38.10" stroke="#666" stroke-width="0.45"/>
<line x1="4.20" y1="33.50" x2="9.10" y2="37.60" stroke="#666" stroke-width="0.45"/>
<line x1="4.20" y1="38.10" x2="8.80" y2="42.50" stroke="#666" stroke-width="0.45"/>
<circle cx="4.20" cy="28.40" r="1.9" fill="#2b2a8f" stroke="#151550" stroke-width="0.3"/>
<circle cx="4.20" cy="33.50" r="2.05" fill="#f5d90a" stroke="#9a8a10" stroke-width="0.3"/>
<rect x="2.30" y="36.20" width="3.8" height="3.8" fill="#f5d90a" stroke="#9a8a10" stroke-width="0.3"/>
<path d="M9.10,35.20L11.50,37.60L9.10,40.00L6.70,37.60Z" fill="#9b22a8" stroke="#5a1060" stroke-width="0.3"/>
<circle cx="8.80" cy="42.50" r="2.05" fill="#f5d90a" stroke="#9a8a10" stroke-width="0.3"/>
</g>
<text x="9.40" y="127.60" font-size="11.70" fill="#e22a2a" stroke="#e22a2a" stroke-width="0.20">PEG<tspan dy="4" font-size="7.5">45</tspan></text>
<text x="7.60" y="141.50" font-size="11.70" fill="#e22a2a" stroke="#e22a2a" stroke-width="0.20">-DSPE</text>
<line x1="46.10" y1="131.50" x2="63.00" y2="131.50" stroke="#e22a2a" stroke-width="1.10"/>
<path d="M68.00,131.50 L61.00,134.60 L63.00,131.50 L61.00,128.40 Z" fill="#e22a2a"/>
<text x="134.20" y="126.90" font-size="11.70" fill="#3b3b9e" stroke="#3b3b9e" stroke-width="0.20">glycolipid</text>
<line x1="131.80" y1="123.20" x2="115.20" y2="123.20" stroke="#3b3b9e" stroke-width="1.10"/>
<path d="M110.20,123.20 L117.20,120.10 L115.20,123.20 L117.20,126.30 Z" fill="#3b3b9e"/>
<text x="12.00" y="176.20" font-size="11.70" fill="#1aa35a" stroke="#1aa35a" stroke-width="0.20">DSPC</text>
<line x1="48.20" y1="173.20" x2="72.60" y2="173.20" stroke="#1aa35a" stroke-width="1.10"/>
<path d="M77.60,173.20 L70.60,176.30 L72.60,173.20 L70.60,170.10 Z" fill="#1aa35a"/>
<text x="98.80" y="223.80" font-size="11.70" fill="#27a6dc" stroke="#27a6dc" stroke-width="0.20">(<tspan font-weight="bold">1</tspan>) AF647-PEG<tspan dy="3.5" font-size="7.5">45</tspan><tspan dy="-3.5">-DSPE</tspan></text>
<line x1="99.00" y1="220.10" x2="81.50" y2="220.10" stroke="#27a6dc" stroke-width="1.10"/>
<path d="M76.50,220.10 L83.50,217.00 L81.50,220.10 L83.50,223.20 Z" fill="#27a6dc"/>
<path d="M219.13,115.82 L219.63,115.35 L220.16,114.93 L220.70,114.58 L221.24,114.27 L221.79,114.00 L222.32,113.76 L222.85,113.54 L223.36,113.33 L223.85,113.14 L224.31,112.96 L224.75,112.78 L225.16,112.60 L225.58,112.41 L226.02,112.20 L226.46,112.00 L226.91,111.80 L227.36,111.60 L227.82,111.40 L228.30,111.20 L228.78,111.01 L229.27,110.82 L229.78,110.63 L230.31,110.46 L230.85,110.29 L231.40,110.14 L231.97,109.99 L232.55,109.85 L233.14,109.72 L233.73,109.59 L234.32,109.47 L234.91,109.36 L235.49,109.26 L236.06,109.16 L236.62,109.07 L237.17,108.99 L237.69,108.92 L238.20,108.86 L238.69,108.80 L239.17,108.75 L239.63,108.71 L240.09,108.68 L240.53,108.65 L240.98,108.63 L241.43,108.62 L241.88,108.61 L242.34,108.60 L242.81,108.60 L243.30,108.60 L243.82,108.60 L244.37,108.61 L244.92,108.62 L245.49,108.64 L246.07,108.66 L246.65,108.68 L247.23,108.71 L247.81,108.74 L248.38,108.78 L248.94,108.82 L249.48,108.86 L250.01,108.91 L250.50,108.95 L250.98,109.00 L251.45,109.04 L251.92,109.09 L252.39,109.14 L252.86,109.20 L253.33,109.27 L253.81,109.34 L254.30,109.43 L254.79,109.53 L255.29,109.65 L255.80,109.78 L256.31,109.92 L256.81,110.07 L257.33,110.24 L257.84,110.41 L258.36,110.60 L258.88,110.79 L259.39,111.00 L259.90,111.21 L260.41,111.44 L260.92,111.68 L261.41,111.92 L261.91,112.18 L262.39,112.46 L262.87,112.75 L263.32,113.05 L263.75,113.36 L264.17,113.67 L264.57,113.97 L264.96,114.28 L265.35,114.58 L265.73,114.88 L266.10,115.17 L266.48,115.46 L266.85,115.74 L267.25,116.03 L267.68,116.32 L268.13,116.63 L268.60,116.95 L269.08,117.27 L269.58,117.61 L270.07,117.95 L270.56,118.31 L271.05,118.68 L271.52,119.06 L271.99,119.46 L272.43,119.88 L272.85,120.32 L273.22,120.77 L273.55,121.22 L273.84,121.66 L274.09,122.08 L274.32,122.47 L274.53,122.85 L274.72,123.19 L274.90,123.50 L275.07,123.79 L275.24,124.05 L275.44,124.32 L275.68,124.64 L275.94,124.98 L276.20,125.31 L276.44,125.63 L276.68,125.94 L276.92,126.23 L277.16,126.51 L277.40,126.77 L277.64,127.02 L277.88,127.25 L278.13,127.46 L278.38,127.66 L278.65,127.85 L278.93,128.04 L279.24,128.22 L279.56,128.39 L279.90,128.57 L280.26,128.74 L280.65,128.92 L281.06,129.10 L281.49,129.28 L281.94,129.47 L282.42,129.68 L282.91,129.89 L283.41,130.10 L283.91,130.32 L284.43,130.54 L284.96,130.76 L285.50,130.98 L286.05,131.20 L286.60,131.41 L287.17,131.62 L287.73,131.83 L288.31,132.03 L288.88,132.22 L289.46,132.40 L290.03,132.56 L290.63,132.72 L291.25,132.86 L291.90,133.01 L292.56,133.15 L293.24,133.29 L293.94,133.44 L294.64,133.58 L295.36,133.74 L296.08,133.91 L296.81,134.09 L297.52,134.29 L298.21,134.48 L298.88,134.68 L299.55,134.88 L300.22,135.08 L300.89,135.29 L301.57,135.51 L302.25,135.74 L302.94,135.98 L303.64,136.23 L304.34,136.50 L305.06,136.78 L305.79,137.08 L306.55,137.41 L307.31,137.75 L308.09,138.12 L308.88,138.50 L309.67,138.88 L310.45,139.28 L311.23,139.68 L312.00,140.07 L312.75,140.46 L313.48,140.84 L314.18,141.21 L314.85,141.56 L315.51,141.89 L316.15,142.22 L316.80,142.55 L317.43,142.87 L318.05,143.19 L318.67,143.52 L319.27,143.84 L319.86,144.16 L320.43,144.48 L321.00,144.81 L321.54,145.14 L322.07,145.48 L322.56,145.82 L323.04,146.15 L323.49,146.49 L323.91,146.82 L324.32,147.16 L324.71,147.49 L325.08,147.82 L325.43,148.15 L325.77,148.48 L326.09,148.80 L326.40,149.13 L326.70,149.45 L327.00,149.79 L327.29,150.13 L327.56,150.48 L327.82,150.82 L328.06,151.17 L328.29,151.51 L328.50,151.85 L328.70,152.19 L328.89,152.53 L329.06,152.87 L329.23,153.20 L329.39,153.53 L329.54,153.86 L329.68,154.19 L329.81,154.52 L329.93,154.85 L330.04,155.19 L330.14,155.53 L330.23,155.88 L330.31,156.24 L330.39,156.60 L330.46,156.98 L330.52,157.38 L330.58,157.80 L330.64,158.25 L330.69,158.72 L330.73,159.21 L330.76,159.71 L330.79,160.22 L330.82,160.74 L330.84,161.27 L330.85,161.80 L330.87,162.34 L330.88,162.88 L330.89,163.42 L330.90,163.96 L330.91,164.49 L330.92,165.02 L330.94,165.57 L330.95,166.14 L330.97,166.72 L330.97,167.32 L330.98,167.94 L330.97,168.57 L330.94,169.22 L330.91,169.88 L330.86,170.57 L330.79,171.26 L330.70,171.94 L330.61,172.64 L330.51,173.35 L330.40,174.08 L330.28,174.83 L330.14,175.58 L329.99,176.35 L329.83,177.12 L329.64,177.89 L329.44,178.66 L329.23,179.44 L328.99,180.20 L328.74,180.96 L328.47,181.72 L328.18,182.47 L327.88,183.22 L327.56,183.98 L327.24,184.72 L326.89,185.47 L326.54,186.21 L326.17,186.95 L325.79,187.68 L325.40,188.41 L325.00,189.13 L324.58,189.86 L324.14,190.58 L323.69,191.30 L323.22,192.00 L322.75,192.70 L322.27,193.39 L321.78,194.07 L321.29,194.74 L320.80,195.41 L320.31,196.07 L319.83,196.72 L319.35,197.37 L318.87,198.02 L318.39,198.67 L317.90,199.32 L317.41,199.97 L316.91,200.62 L316.40,201.27 L315.89,201.92 L315.37,202.57 L314.84,203.21 L314.30,203.84 L313.74,204.46 L313.18,205.07 L312.62,205.67 L312.05,206.26 L311.47,206.85 L310.87,207.44 L310.27,208.03 L309.66,208.61 L309.03,209.17 L308.40,209.73 L307.75,210.26 L307.10,210.77 L306.44,211.26 L305.76,211.73 L305.06,212.16 L304.37,212.54 L303.69,212.89 L303.01,213.19 L302.34,213.47 L301.69,213.73 L301.04,213.96 L300.40,214.19 L299.77,214.42 L299.13,214.64 L298.50,214.88 L297.86,215.13 L297.19,215.41 L296.51,215.70 L295.81,216.00 L295.09,216.30 L294.35,216.62 L293.59,216.93 L292.82,217.25 L292.03,217.56 L291.21,217.86 L290.38,218.16 L289.52,218.44 L288.65,218.71 L287.78,218.96 L286.89,219.20 L285.98,219.45 L285.05,219.69 L284.10,219.92 L283.14,220.14 L282.17,220.35 L281.18,220.54 L280.19,220.71 L279.19,220.86 L278.19,220.99 L277.20,221.09 L276.21,221.16 L275.23,221.22 L274.24,221.25 L273.25,221.26 L272.26,221.25 L271.27,221.22 L270.28,221.17 L269.29,221.10 L268.31,221.02 L267.32,220.92 L266.35,220.81 L265.37,220.68 L264.39,220.53 L263.40,220.36 L262.41,220.17 L261.41,219.96 L260.42,219.73 L259.43,219.49 L258.45,219.24 L257.48,218.97 L256.53,218.68 L255.60,218.38 L254.69,218.08 L253.80,217.75 L252.93,217.42 L252.09,217.07 L251.28,216.71 L250.49,216.34 L249.72,215.95 L248.97,215.56 L248.22,215.15 L247.49,214.73 L246.76,214.30 L246.04,213.86 L245.31,213.41 L244.57,212.94 L243.82,212.46 L243.05,211.97 L242.28,211.45 L241.50,210.93 L240.72,210.38 L239.94,209.82 L239.16,209.25 L238.39,208.67 L237.63,208.07 L236.89,207.46 L236.16,206.83 L235.45,206.20 L234.76,205.55 L234.09,204.89 L233.43,204.22 L232.79,203.54 L232.17,202.85 L231.56,202.16 L230.97,201.45 L230.39,200.75 L229.81,200.03 L229.25,199.32 L228.70,198.60 L228.16,197.87 L227.61,197.14 L227.07,196.38 L226.54,195.62 L226.02,194.85 L225.51,194.08 L225.01,193.29 L224.52,192.51 L224.04,191.72 L223.57,190.93 L223.12,190.14 L222.69,189.36 L222.26,188.57 L221.86,187.79 L221.47,187.00 L221.10,186.22 L220.74,185.44 L220.40,184.66 L220.08,183.88 L219.76,183.10 L219.46,182.33 L219.16,181.56 L218.88,180.79 L218.60,180.02 L218.33,179.26 L218.06,178.49 L217.81,177.71 L217.56,176.95 L217.33,176.18 L217.10,175.41 L216.89,174.64 L216.68,173.87 L216.48,173.10 L216.29,172.33 L216.10,171.55 L215.93,170.77 L215.75,169.99 L215.58,169.20 L215.42,168.40 L215.27,167.60 L215.12,166.80 L214.98,165.99 L214.84,165.18 L214.71,164.36 L214.60,163.54 L214.49,162.71 L214.38,161.88 L214.29,161.05 L214.21,160.21 L214.14,159.36 L214.08,158.51 L214.03,157.65 L213.99,156.80 L213.96,155.94 L213.94,155.08 L213.92,154.23 L213.91,153.38 L213.90,152.53 L213.90,151.68 L213.90,150.84 L213.90,150.00 L213.90,149.16 L213.91,148.31 L213.92,147.47 L213.93,146.62 L213.95,145.78 L213.97,144.93 L214.00,144.09 L214.03,143.24 L214.06,142.39 L214.11,141.55 L214.15,140.70 L214.20,139.85 L214.26,138.99 L214.33,138.12 L214.40,137.25 L214.48,136.37 L214.56,135.49 L214.65,134.61 L214.74,133.75 L214.83,132.89 L214.93,132.06 L215.02,131.25 L215.12,130.46 L215.22,129.70 L215.32,128.97 L215.41,128.26 L215.51,127.57 L215.61,126.88 L215.71,126.22 L215.82,125.56 L215.93,124.93 L216.04,124.30 L216.17,123.68 L216.29,123.08 L216.43,122.49 L216.57,121.94 L216.70,121.42 L216.82,120.93 L216.94,120.44 L217.07,119.94 L217.21,119.44 L217.37,118.93 L217.55,118.41 L217.77,117.89 L218.03,117.36 L218.34,116.83 L218.70,116.32 Z" fill="url(#beadpat)" stroke="none"/>
<circle cx="220.80" cy="117.40" r="2.2" fill="url(#bbead)" stroke="#6aa4c8" stroke-width="0.45"/>
<circle cx="225.07" cy="115.13" r="2.2" fill="url(#bbead)" stroke="#6aa4c8" stroke-width="0.45"/>
<circle cx="229.54" cy="113.18" r="2.2" fill="url(#bbead)" stroke="#6aa4c8" stroke-width="0.45"/>
<circle cx="234.23" cy="111.84" r="2.2" fill="url(#bbead)" stroke="#6aa4c8" stroke-width="0.45"/>
<circle cx="239.04" cy="111.07" r="2.2" fill="url(#bbead)" stroke="#6aa4c8" stroke-width="0.45"/>
<circle cx="243.91" cy="110.90" r="2.2" fill="url(#bbead)" stroke="#6aa4c8" stroke-width="0.45"/>
<circle cx="248.79" cy="111.12" r="2.2" fill="url(#bbead)" stroke="#6aa4c8" stroke-width="0.45"/>
<circle cx="253.63" cy="111.65" r="2.2" fill="url(#bbead)" stroke="#6aa4c8" stroke-width="0.45"/>
<circle cx="258.30" cy="113.04" r="2.2" fill="url(#bbead)" stroke="#6aa4c8" stroke-width="0.45"/>
<circle cx="262.58" cy="115.35" r="2.2" fill="url(#bbead)" stroke="#6aa4c8" stroke-width="0.45"/>
<circle cx="266.47" cy="118.28" r="2.2" fill="url(#bbead)" stroke="#6aa4c8" stroke-width="0.45"/>
<circle cx="270.42" cy="121.14" r="2.2" fill="url(#bbead)" stroke="#6aa4c8" stroke-width="0.45"/>
<circle cx="273.19" cy="125.12" r="2.2" fill="url(#bbead)" stroke="#6aa4c8" stroke-width="0.45"/>
<circle cx="276.28" cy="128.89" r="2.2" fill="url(#bbead)" stroke="#6aa4c8" stroke-width="0.45"/>
<circle cx="280.46" cy="131.34" r="2.2" fill="url(#bbead)" stroke="#6aa4c8" stroke-width="0.45"/>
<circle cx="284.96" cy="133.24" r="2.2" fill="url(#bbead)" stroke="#6aa4c8" stroke-width="0.45"/>
<circle cx="289.57" cy="134.82" r="2.2" fill="url(#bbead)" stroke="#6aa4c8" stroke-width="0.45"/>
<circle cx="294.33" cy="135.87" r="2.2" fill="url(#bbead)" stroke="#6aa4c8" stroke-width="0.45"/>
<circle cx="299.04" cy="137.13" r="2.2" fill="url(#bbead)" stroke="#6aa4c8" stroke-width="0.45"/>
<circle cx="303.66" cy="138.70" r="2.2" fill="url(#bbead)" stroke="#6aa4c8" stroke-width="0.45"/>
<circle cx="308.11" cy="140.68" r="2.2" fill="url(#bbead)" stroke="#6aa4c8" stroke-width="0.45"/>
<circle cx="312.46" cy="142.90" r="2.2" fill="url(#bbead)" stroke="#6aa4c8" stroke-width="0.45"/>
<circle cx="316.79" cy="145.13" r="2.2" fill="url(#bbead)" stroke="#6aa4c8" stroke-width="0.45"/>
<circle cx="321.02" cy="147.55" r="2.2" fill="url(#bbead)" stroke="#6aa4c8" stroke-width="0.45"/>
<circle cx="324.73" cy="150.71" r="2.2" fill="url(#bbead)" stroke="#6aa4c8" stroke-width="0.45"/>
<circle cx="327.41" cy="154.75" r="2.2" fill="url(#bbead)" stroke="#6aa4c8" stroke-width="0.45"/>
<circle cx="328.44" cy="159.49" r="2.2" fill="url(#bbead)" stroke="#6aa4c8" stroke-width="0.45"/>
<circle cx="328.61" cy="164.36" r="2.2" fill="url(#bbead)" stroke="#6aa4c8" stroke-width="0.45"/>
<circle cx="328.64" cy="169.24" r="2.2" fill="url(#bbead)" stroke="#6aa4c8" stroke-width="0.45"/>
<circle cx="328.07" cy="174.08" r="2.2" fill="url(#bbead)" stroke="#6aa4c8" stroke-width="0.45"/>
<circle cx="327.00" cy="178.84" r="2.2" fill="url(#bbead)" stroke="#6aa4c8" stroke-width="0.45"/>
<circle cx="325.30" cy="183.41" r="2.2" fill="url(#bbead)" stroke="#6aa4c8" stroke-width="0.45"/>
<circle cx="323.13" cy="187.77" r="2.2" fill="url(#bbead)" stroke="#6aa4c8" stroke-width="0.45"/>
<circle cx="320.51" cy="191.88" r="2.2" fill="url(#bbead)" stroke="#6aa4c8" stroke-width="0.45"/>
<circle cx="317.63" cy="195.82" r="2.2" fill="url(#bbead)" stroke="#6aa4c8" stroke-width="0.45"/>
<circle cx="314.70" cy="199.72" r="2.2" fill="url(#bbead)" stroke="#6aa4c8" stroke-width="0.45"/>
<circle cx="311.55" cy="203.44" r="2.2" fill="url(#bbead)" stroke="#6aa4c8" stroke-width="0.45"/>
<circle cx="308.11" cy="206.90" r="2.2" fill="url(#bbead)" stroke="#6aa4c8" stroke-width="0.45"/>
<circle cx="304.30" cy="209.93" r="2.2" fill="url(#bbead)" stroke="#6aa4c8" stroke-width="0.45"/>
<circle cx="299.87" cy="211.94" r="2.2" fill="url(#bbead)" stroke="#6aa4c8" stroke-width="0.45"/>
<circle cx="295.32" cy="213.70" r="2.2" fill="url(#bbead)" stroke="#6aa4c8" stroke-width="0.45"/>
<circle cx="290.81" cy="215.56" r="2.2" fill="url(#bbead)" stroke="#6aa4c8" stroke-width="0.45"/>
<circle cx="286.16" cy="217.02" r="2.2" fill="url(#bbead)" stroke="#6aa4c8" stroke-width="0.45"/>
<circle cx="281.41" cy="218.15" r="2.2" fill="url(#bbead)" stroke="#6aa4c8" stroke-width="0.45"/>
<circle cx="276.59" cy="218.83" r="2.2" fill="url(#bbead)" stroke="#6aa4c8" stroke-width="0.45"/>
<circle cx="271.71" cy="218.93" r="2.2" fill="url(#bbead)" stroke="#6aa4c8" stroke-width="0.45"/>
<circle cx="266.85" cy="218.55" r="2.2" fill="url(#bbead)" stroke="#6aa4c8" stroke-width="0.45"/>
<circle cx="262.04" cy="217.74" r="2.2" fill="url(#bbead)" stroke="#6aa4c8" stroke-width="0.45"/>
<circle cx="257.32" cy="216.52" r="2.2" fill="url(#bbead)" stroke="#6aa4c8" stroke-width="0.45"/>
<circle cx="252.75" cy="214.85" r="2.2" fill="url(#bbead)" stroke="#6aa4c8" stroke-width="0.45"/>
<circle cx="248.42" cy="212.60" r="2.2" fill="url(#bbead)" stroke="#6aa4c8" stroke-width="0.45"/>
<circle cx="244.28" cy="210.02" r="2.2" fill="url(#bbead)" stroke="#6aa4c8" stroke-width="0.45"/>
<circle cx="240.29" cy="207.22" r="2.2" fill="url(#bbead)" stroke="#6aa4c8" stroke-width="0.45"/>
<circle cx="236.56" cy="204.08" r="2.2" fill="url(#bbead)" stroke="#6aa4c8" stroke-width="0.45"/>
<circle cx="233.21" cy="200.54" r="2.2" fill="url(#bbead)" stroke="#6aa4c8" stroke-width="0.45"/>
<circle cx="230.17" cy="196.73" r="2.2" fill="url(#bbead)" stroke="#6aa4c8" stroke-width="0.45"/>
<circle cx="227.38" cy="192.73" r="2.2" fill="url(#bbead)" stroke="#6aa4c8" stroke-width="0.45"/>
<circle cx="224.87" cy="188.55" r="2.2" fill="url(#bbead)" stroke="#6aa4c8" stroke-width="0.45"/>
<circle cx="222.70" cy="184.18" r="2.2" fill="url(#bbead)" stroke="#6aa4c8" stroke-width="0.45"/>
<circle cx="220.91" cy="179.64" r="2.2" fill="url(#bbead)" stroke="#6aa4c8" stroke-width="0.45"/>
<circle cx="219.38" cy="175.01" r="2.2" fill="url(#bbead)" stroke="#6aa4c8" stroke-width="0.45"/>
<circle cx="218.17" cy="170.29" r="2.2" fill="url(#bbead)" stroke="#6aa4c8" stroke-width="0.45"/>
<circle cx="217.23" cy="165.50" r="2.2" fill="url(#bbead)" stroke="#6aa4c8" stroke-width="0.45"/>
<circle cx="216.57" cy="160.67" r="2.2" fill="url(#bbead)" stroke="#6aa4c8" stroke-width="0.45"/>
<circle cx="216.26" cy="155.80" r="2.2" fill="url(#bbead)" stroke="#6aa4c8" stroke-width="0.45"/>
<circle cx="216.20" cy="150.93" r="2.2" fill="url(#bbead)" stroke="#6aa4c8" stroke-width="0.45"/>
<circle cx="216.24" cy="146.05" r="2.2" fill="url(#bbead)" stroke="#6aa4c8" stroke-width="0.45"/>
<circle cx="216.43" cy="141.18" r="2.2" fill="url(#bbead)" stroke="#6aa4c8" stroke-width="0.45"/>
<circle cx="216.80" cy="136.31" r="2.2" fill="url(#bbead)" stroke="#6aa4c8" stroke-width="0.45"/>
<circle cx="217.32" cy="131.46" r="2.2" fill="url(#bbead)" stroke="#6aa4c8" stroke-width="0.45"/>
<circle cx="217.98" cy="126.63" r="2.2" fill="url(#bbead)" stroke="#6aa4c8" stroke-width="0.45"/>
<circle cx="218.96" cy="121.86" r="2.2" fill="url(#bbead)" stroke="#6aa4c8" stroke-width="0.45"/>
<path d="M226.80,142.00 L226.76,141.13 L226.74,140.26 L226.74,139.38 L226.75,138.50 L226.77,137.63 L226.81,136.77 L226.86,135.92 L226.93,135.09 L227.01,134.27 L227.09,133.48 L227.19,132.73 L227.30,132.00 L227.42,131.31 L227.55,130.64 L227.69,129.99 L227.84,129.37 L228.01,128.77 L228.18,128.19 L228.37,127.62 L228.57,127.07 L228.78,126.54 L229.01,126.02 L229.25,125.50 L229.50,125.00 L229.77,124.51 L230.05,124.02 L230.34,123.55 L230.64,123.09 L230.96,122.64 L231.29,122.21 L231.64,121.80 L231.99,121.40 L232.35,121.02 L232.73,120.66 L233.11,120.32 L233.50,120.00 L233.90,119.70 L234.32,119.43 L234.76,119.17 L235.20,118.94 L235.66,118.72 L236.12,118.52 L236.60,118.33 L237.07,118.16 L237.55,118.01 L238.04,117.86 L238.52,117.73 L239.00,117.60 L239.48,117.49 L239.96,117.39 L240.44,117.31 L240.93,117.24 L241.41,117.19 L241.91,117.14 L242.40,117.11 L242.91,117.09 L243.42,117.08 L243.94,117.08 L244.46,117.09 L245.00,117.10 L245.54,117.11 L246.09,117.13 L246.63,117.14 L247.19,117.16 L247.74,117.19 L248.31,117.23 L248.89,117.29 L249.48,117.37 L250.09,117.48 L250.71,117.62 L251.34,117.79 L252.00,118.00 L252.69,118.25 L253.41,118.54 L254.17,118.87 L254.94,119.23 L255.73,119.61 L256.53,120.02 L257.33,120.44 L258.11,120.87 L258.88,121.31 L259.62,121.74 L260.33,122.18 L261.00,122.60 L261.63,123.02 L262.25,123.45 L262.84,123.89 L263.41,124.34 L263.96,124.79 L264.50,125.24 L265.02,125.70 L265.54,126.16 L266.04,126.62 L266.53,127.08 L267.02,127.54 L267.50,128.00 L267.97,128.46 L268.41,128.92 L268.83,129.38 L269.24,129.85 L269.64,130.32 L270.03,130.79 L270.42,131.25 L270.81,131.71 L271.21,132.17 L271.63,132.62 L272.05,133.07 L272.50,133.50 L272.96,133.93 L273.44,134.38 L273.92,134.82 L274.41,135.27 L274.90,135.71 L275.41,136.14 L275.91,136.56 L276.43,136.96 L276.94,137.33 L277.46,137.69 L277.98,138.01 L278.50,138.30 L279.02,138.55 L279.55,138.76 L280.08,138.94 L280.61,139.09 L281.15,139.21 L281.69,139.33 L282.23,139.43 L282.78,139.53 L283.33,139.63 L283.88,139.74 L284.44,139.86 L285.00,140.00 L285.57,140.15 L286.14,140.31 L286.73,140.47 L287.31,140.63 L287.91,140.79 L288.50,140.95 L289.09,141.12 L289.69,141.29 L290.27,141.46 L290.86,141.63 L291.43,141.81 L292.00,142.00 L292.56,142.19 L293.12,142.39 L293.67,142.59 L294.22,142.80 L294.77,143.01 L295.31,143.22 L295.85,143.43 L296.39,143.65 L296.92,143.86 L297.45,144.08 L297.98,144.29 L298.50,144.50 L299.02,144.71 L299.53,144.91 L300.05,145.11 L300.56,145.31 L301.06,145.52 L301.56,145.72 L302.06,145.92 L302.56,146.13 L303.05,146.34 L303.53,146.55 L304.02,146.77 L304.50,147.00 L304.97,147.23 L305.44,147.47 L305.90,147.70 L306.35,147.94 L306.80,148.19 L307.25,148.44 L307.70,148.69 L308.15,148.94 L308.60,149.20 L309.06,149.47 L309.53,149.73 L310.00,150.00 L310.49,150.27 L310.98,150.55 L311.49,150.83 L312.00,151.11 L312.52,151.40 L313.03,151.69 L313.55,151.98 L314.06,152.28 L314.56,152.58 L315.05,152.88 L315.53,153.19 L316.00,153.50 L316.46,153.81 L316.93,154.11 L317.39,154.41 L317.85,154.70 L318.31,155.00 L318.75,155.31 L319.18,155.63 L319.59,155.96 L319.98,156.31 L320.35,156.68 L320.69,157.08 L321.00,157.50 L321.28,157.95 L321.53,158.44 L321.75,158.95 L321.95,159.48 L322.13,160.03 L322.29,160.59 L322.44,161.17 L322.57,161.74 L322.69,162.32 L322.80,162.89 L322.90,163.45 L323.00,164.00 L323.09,164.54 L323.16,165.09 L323.23,165.63 L323.28,166.17 L323.32,166.72 L323.34,167.26 L323.36,167.81 L323.37,168.35 L323.36,168.89 L323.35,169.43 L323.33,169.97 L323.30,170.50 L323.26,171.04 L323.22,171.57 L323.16,172.11 L323.10,172.66 L323.02,173.19 L322.94,173.73 L322.84,174.26 L322.74,174.79 L322.62,175.31 L322.49,175.82 L322.35,176.31 L322.20,176.80 L322.04,177.27 L321.86,177.74 L321.68,178.19 L321.49,178.64 L321.28,179.08 L321.06,179.51 L320.83,179.94 L320.59,180.36 L320.34,180.78 L320.07,181.19 L319.79,181.59 L319.50,182.00 L319.20,182.40 L318.88,182.81 L318.56,183.21 L318.23,183.61 L317.88,184.00 L317.52,184.39 L317.14,184.77 L316.75,185.14 L316.34,185.50 L315.92,185.84 L315.47,186.18 L315.00,186.50 L314.51,186.81 L313.99,187.10 L313.45,187.38 L312.89,187.66 L312.31,187.92 L311.72,188.17 L311.11,188.41 L310.50,188.64 L309.88,188.87 L309.25,189.09 L308.63,189.30 L308.00,189.50 L307.37,189.69 L306.72,189.88 L306.07,190.06 L305.41,190.22 L304.74,190.38 L304.06,190.53 L303.38,190.67 L302.70,190.81 L302.02,190.94 L301.34,191.07 L300.67,191.19 L300.00,191.30 L299.34,191.41 L298.67,191.51 L298.01,191.60 L297.36,191.68 L296.70,191.75 L296.04,191.83 L295.38,191.89 L294.71,191.96 L294.04,192.02 L293.37,192.08 L292.69,192.14 L292.00,192.20 L291.32,192.26 L290.67,192.33 L290.03,192.39 L289.40,192.45 L288.76,192.51 L288.11,192.57 L287.44,192.62 L286.73,192.67 L285.99,192.71 L285.19,192.75 L284.33,192.78 L283.40,192.80 L282.38,192.81 L281.27,192.82 L280.07,192.82 L278.82,192.81 L277.53,192.80 L276.21,192.79 L274.89,192.77 L273.58,192.74 L272.30,192.71 L271.06,192.68 L269.89,192.64 L268.80,192.60 L267.78,192.56 L266.79,192.54 L265.84,192.51 L264.92,192.49 L264.03,192.46 L263.17,192.42 L262.33,192.38 L261.51,192.31 L260.71,192.22 L259.93,192.11 L259.16,191.97 L258.40,191.80 L257.66,191.60 L256.95,191.37 L256.27,191.11 L255.60,190.84 L254.96,190.55 L254.33,190.23 L253.71,189.90 L253.11,189.55 L252.51,189.18 L251.91,188.80 L251.31,188.41 L250.70,188.00 L250.09,187.58 L249.49,187.13 L248.90,186.67 L248.31,186.20 L247.73,185.70 L247.15,185.19 L246.58,184.67 L246.01,184.14 L245.45,183.59 L244.89,183.04 L244.34,182.47 L243.80,181.90 L243.26,181.32 L242.73,180.74 L242.20,180.14 L241.68,179.54 L241.17,178.92 L240.66,178.29 L240.15,177.65 L239.65,177.00 L239.16,176.32 L238.67,175.63 L238.18,174.93 L237.70,174.20 L237.22,173.45 L236.74,172.68 L236.27,171.90 L235.79,171.09 L235.32,170.27 L234.86,169.44 L234.41,168.59 L233.96,167.73 L233.53,166.86 L233.11,165.98 L232.70,165.09 L232.30,164.20 L231.92,163.29 L231.54,162.36 L231.17,161.41 L230.80,160.45 L230.45,159.47 L230.11,158.49 L229.79,157.51 L229.47,156.53 L229.18,155.55 L228.90,154.59 L228.64,153.64 L228.40,152.70 L228.18,151.78 L227.98,150.86 L227.79,149.95 L227.62,149.05 L227.46,148.15 L227.32,147.26 L227.20,146.37 L227.09,145.49 L227.00,144.61 L226.92,143.73 L226.85,142.86 Z" fill="none" stroke="#dcdcdc" stroke-width="9.5"/>
<path d="M226.80,142.00 L226.76,141.13 L226.74,140.26 L226.74,139.38 L226.75,138.50 L226.77,137.63 L226.81,136.77 L226.86,135.92 L226.93,135.09 L227.01,134.27 L227.09,133.48 L227.19,132.73 L227.30,132.00 L227.42,131.31 L227.55,130.64 L227.69,129.99 L227.84,129.37 L228.01,128.77 L228.18,128.19 L228.37,127.62 L228.57,127.07 L228.78,126.54 L229.01,126.02 L229.25,125.50 L229.50,125.00 L229.77,124.51 L230.05,124.02 L230.34,123.55 L230.64,123.09 L230.96,122.64 L231.29,122.21 L231.64,121.80 L231.99,121.40 L232.35,121.02 L232.73,120.66 L233.11,120.32 L233.50,120.00 L233.90,119.70 L234.32,119.43 L234.76,119.17 L235.20,118.94 L235.66,118.72 L236.12,118.52 L236.60,118.33 L237.07,118.16 L237.55,118.01 L238.04,117.86 L238.52,117.73 L239.00,117.60 L239.48,117.49 L239.96,117.39 L240.44,117.31 L240.93,117.24 L241.41,117.19 L241.91,117.14 L242.40,117.11 L242.91,117.09 L243.42,117.08 L243.94,117.08 L244.46,117.09 L245.00,117.10 L245.54,117.11 L246.09,117.13 L246.63,117.14 L247.19,117.16 L247.74,117.19 L248.31,117.23 L248.89,117.29 L249.48,117.37 L250.09,117.48 L250.71,117.62 L251.34,117.79 L252.00,118.00 L252.69,118.25 L253.41,118.54 L254.17,118.87 L254.94,119.23 L255.73,119.61 L256.53,120.02 L257.33,120.44 L258.11,120.87 L258.88,121.31 L259.62,121.74 L260.33,122.18 L261.00,122.60 L261.63,123.02 L262.25,123.45 L262.84,123.89 L263.41,124.34 L263.96,124.79 L264.50,125.24 L265.02,125.70 L265.54,126.16 L266.04,126.62 L266.53,127.08 L267.02,127.54 L267.50,128.00 L267.97,128.46 L268.41,128.92 L268.83,129.38 L269.24,129.85 L269.64,130.32 L270.03,130.79 L270.42,131.25 L270.81,131.71 L271.21,132.17 L271.63,132.62 L272.05,133.07 L272.50,133.50 L272.96,133.93 L273.44,134.38 L273.92,134.82 L274.41,135.27 L274.90,135.71 L275.41,136.14 L275.91,136.56 L276.43,136.96 L276.94,137.33 L277.46,137.69 L277.98,138.01 L278.50,138.30 L279.02,138.55 L279.55,138.76 L280.08,138.94 L280.61,139.09 L281.15,139.21 L281.69,139.33 L282.23,139.43 L282.78,139.53 L283.33,139.63 L283.88,139.74 L284.44,139.86 L285.00,140.00 L285.57,140.15 L286.14,140.31 L286.73,140.47 L287.31,140.63 L287.91,140.79 L288.50,140.95 L289.09,141.12 L289.69,141.29 L290.27,141.46 L290.86,141.63 L291.43,141.81 L292.00,142.00 L292.56,142.19 L293.12,142.39 L293.67,142.59 L294.22,142.80 L294.77,143.01 L295.31,143.22 L295.85,143.43 L296.39,143.65 L296.92,143.86 L297.45,144.08 L297.98,144.29 L298.50,144.50 L299.02,144.71 L299.53,144.91 L300.05,145.11 L300.56,145.31 L301.06,145.52 L301.56,145.72 L302.06,145.92 L302.56,146.13 L303.05,146.34 L303.53,146.55 L304.02,146.77 L304.50,147.00 L304.97,147.23 L305.44,147.47 L305.90,147.70 L306.35,147.94 L306.80,148.19 L307.25,148.44 L307.70,148.69 L308.15,148.94 L308.60,149.20 L309.06,149.47 L309.53,149.73 L310.00,150.00 L310.49,150.27 L310.98,150.55 L311.49,150.83 L312.00,151.11 L312.52,151.40 L313.03,151.69 L313.55,151.98 L314.06,152.28 L314.56,152.58 L315.05,152.88 L315.53,153.19 L316.00,153.50 L316.46,153.81 L316.93,154.11 L317.39,154.41 L317.85,154.70 L318.31,155.00 L318.75,155.31 L319.18,155.63 L319.59,155.96 L319.98,156.31 L320.35,156.68 L320.69,157.08 L321.00,157.50 L321.28,157.95 L321.53,158.44 L321.75,158.95 L321.95,159.48 L322.13,160.03 L322.29,160.59 L322.44,161.17 L322.57,161.74 L322.69,162.32 L322.80,162.89 L322.90,163.45 L323.00,164.00 L323.09,164.54 L323.16,165.09 L323.23,165.63 L323.28,166.17 L323.32,166.72 L323.34,167.26 L323.36,167.81 L323.37,168.35 L323.36,168.89 L323.35,169.43 L323.33,169.97 L323.30,170.50 L323.26,171.04 L323.22,171.57 L323.16,172.11 L323.10,172.66 L323.02,173.19 L322.94,173.73 L322.84,174.26 L322.74,174.79 L322.62,175.31 L322.49,175.82 L322.35,176.31 L322.20,176.80 L322.04,177.27 L321.86,177.74 L321.68,178.19 L321.49,178.64 L321.28,179.08 L321.06,179.51 L320.83,179.94 L320.59,180.36 L320.34,180.78 L320.07,181.19 L319.79,181.59 L319.50,182.00 L319.20,182.40 L318.88,182.81 L318.56,183.21 L318.23,183.61 L317.88,184.00 L317.52,184.39 L317.14,184.77 L316.75,185.14 L316.34,185.50 L315.92,185.84 L315.47,186.18 L315.00,186.50 L314.51,186.81 L313.99,187.10 L313.45,187.38 L312.89,187.66 L312.31,187.92 L311.72,188.17 L311.11,188.41 L310.50,188.64 L309.88,188.87 L309.25,189.09 L308.63,189.30 L308.00,189.50 L307.37,189.69 L306.72,189.88 L306.07,190.06 L305.41,190.22 L304.74,190.38 L304.06,190.53 L303.38,190.67 L302.70,190.81 L302.02,190.94 L301.34,191.07 L300.67,191.19 L300.00,191.30 L299.34,191.41 L298.67,191.51 L298.01,191.60 L297.36,191.68 L296.70,191.75 L296.04,191.83 L295.38,191.89 L294.71,191.96 L294.04,192.02 L293.37,192.08 L292.69,192.14 L292.00,192.20 L291.32,192.26 L290.67,192.33 L290.03,192.39 L289.40,192.45 L288.76,192.51 L288.11,192.57 L287.44,192.62 L286.73,192.67 L285.99,192.71 L285.19,192.75 L284.33,192.78 L283.40,192.80 L282.38,192.81 L281.27,192.82 L280.07,192.82 L278.82,192.81 L277.53,192.80 L276.21,192.79 L274.89,192.77 L273.58,192.74 L272.30,192.71 L271.06,192.68 L269.89,192.64 L268.80,192.60 L267.78,192.56 L266.79,192.54 L265.84,192.51 L264.92,192.49 L264.03,192.46 L263.17,192.42 L262.33,192.38 L261.51,192.31 L260.71,192.22 L259.93,192.11 L259.16,191.97 L258.40,191.80 L257.66,191.60 L256.95,191.37 L256.27,191.11 L255.60,190.84 L254.96,190.55 L254.33,190.23 L253.71,189.90 L253.11,189.55 L252.51,189.18 L251.91,188.80 L251.31,188.41 L250.70,188.00 L250.09,187.58 L249.49,187.13 L248.90,186.67 L248.31,186.20 L247.73,185.70 L247.15,185.19 L246.58,184.67 L246.01,184.14 L245.45,183.59 L244.89,183.04 L244.34,182.47 L243.80,181.90 L243.26,181.32 L242.73,180.74 L242.20,180.14 L241.68,179.54 L241.17,178.92 L240.66,178.29 L240.15,177.65 L239.65,177.00 L239.16,176.32 L238.67,175.63 L238.18,174.93 L237.70,174.20 L237.22,173.45 L236.74,172.68 L236.27,171.90 L235.79,171.09 L235.32,170.27 L234.86,169.44 L234.41,168.59 L233.96,167.73 L233.53,166.86 L233.11,165.98 L232.70,165.09 L232.30,164.20 L231.92,163.29 L231.54,162.36 L231.17,161.41 L230.80,160.45 L230.45,159.47 L230.11,158.49 L229.79,157.51 L229.47,156.53 L229.18,155.55 L228.90,154.59 L228.64,153.64 L228.40,152.70 L228.18,151.78 L227.98,150.86 L227.79,149.95 L227.62,149.05 L227.46,148.15 L227.32,147.26 L227.20,146.37 L227.09,145.49 L227.00,144.61 L226.92,143.73 L226.85,142.86 Z" fill="none" stroke="#8c8c8c" stroke-width="7" stroke-dasharray="0.45 1.5" opacity="0.7"/>
<circle cx="220.51" cy="142.33" r="2.2" fill="url(#bbead)" stroke="#6aa4c8" stroke-width="0.45"/>
<circle cx="220.47" cy="137.76" r="2.2" fill="url(#bbead)" stroke="#6aa4c8" stroke-width="0.45"/>
<circle cx="220.79" cy="133.20" r="2.2" fill="url(#bbead)" stroke="#6aa4c8" stroke-width="0.45"/>
<circle cx="221.52" cy="128.70" r="2.2" fill="url(#bbead)" stroke="#6aa4c8" stroke-width="0.45"/>
<circle cx="222.88" cy="124.34" r="2.2" fill="url(#bbead)" stroke="#6aa4c8" stroke-width="0.45"/>
<circle cx="224.95" cy="120.28" r="2.2" fill="url(#bbead)" stroke="#6aa4c8" stroke-width="0.45"/>
<circle cx="227.77" cy="116.69" r="2.2" fill="url(#bbead)" stroke="#6aa4c8" stroke-width="0.45"/>
<circle cx="231.35" cy="113.87" r="2.2" fill="url(#bbead)" stroke="#6aa4c8" stroke-width="0.45"/>
<circle cx="235.52" cy="112.04" r="2.2" fill="url(#bbead)" stroke="#6aa4c8" stroke-width="0.45"/>
<circle cx="239.97" cy="111.01" r="2.2" fill="url(#bbead)" stroke="#6aa4c8" stroke-width="0.45"/>
<circle cx="244.53" cy="110.79" r="2.2" fill="url(#bbead)" stroke="#6aa4c8" stroke-width="0.45"/>
<circle cx="249.09" cy="110.98" r="2.2" fill="url(#bbead)" stroke="#6aa4c8" stroke-width="0.45"/>
<circle cx="253.56" cy="111.89" r="2.2" fill="url(#bbead)" stroke="#6aa4c8" stroke-width="0.45"/>
<circle cx="257.78" cy="113.61" r="2.2" fill="url(#bbead)" stroke="#6aa4c8" stroke-width="0.45"/>
<circle cx="261.82" cy="115.73" r="2.2" fill="url(#bbead)" stroke="#6aa4c8" stroke-width="0.45"/>
<circle cx="265.69" cy="118.17" r="2.2" fill="url(#bbead)" stroke="#6aa4c8" stroke-width="0.45"/>
<circle cx="269.25" cy="121.03" r="2.2" fill="url(#bbead)" stroke="#6aa4c8" stroke-width="0.45"/>
<circle cx="272.57" cy="124.16" r="2.2" fill="url(#bbead)" stroke="#6aa4c8" stroke-width="0.45"/>
<circle cx="275.58" cy="127.60" r="2.2" fill="url(#bbead)" stroke="#6aa4c8" stroke-width="0.45"/>
<circle cx="278.85" cy="130.78" r="2.2" fill="url(#bbead)" stroke="#6aa4c8" stroke-width="0.45"/>
<circle cx="282.70" cy="133.10" r="2.2" fill="url(#bbead)" stroke="#6aa4c8" stroke-width="0.45"/>
<circle cx="287.17" cy="134.06" r="2.2" fill="url(#bbead)" stroke="#6aa4c8" stroke-width="0.45"/>
<circle cx="291.57" cy="135.27" r="2.2" fill="url(#bbead)" stroke="#6aa4c8" stroke-width="0.45"/>
<circle cx="295.91" cy="136.70" r="2.2" fill="url(#bbead)" stroke="#6aa4c8" stroke-width="0.45"/>
<circle cx="300.16" cy="138.38" r="2.2" fill="url(#bbead)" stroke="#6aa4c8" stroke-width="0.45"/>
<circle cx="304.40" cy="140.07" r="2.2" fill="url(#bbead)" stroke="#6aa4c8" stroke-width="0.45"/>
<circle cx="308.55" cy="141.98" r="2.2" fill="url(#bbead)" stroke="#6aa4c8" stroke-width="0.45"/>
<circle cx="312.54" cy="144.20" r="2.2" fill="url(#bbead)" stroke="#6aa4c8" stroke-width="0.45"/>
<circle cx="316.53" cy="146.43" r="2.2" fill="url(#bbead)" stroke="#6aa4c8" stroke-width="0.45"/>
<circle cx="320.40" cy="148.85" r="2.2" fill="url(#bbead)" stroke="#6aa4c8" stroke-width="0.45"/>
<circle cx="324.09" cy="151.54" r="2.2" fill="url(#bbead)" stroke="#6aa4c8" stroke-width="0.45"/>
<circle cx="326.90" cy="155.11" r="2.2" fill="url(#bbead)" stroke="#6aa4c8" stroke-width="0.45"/>
<circle cx="328.49" cy="159.38" r="2.2" fill="url(#bbead)" stroke="#6aa4c8" stroke-width="0.45"/>
<circle cx="329.35" cy="163.86" r="2.2" fill="url(#bbead)" stroke="#6aa4c8" stroke-width="0.45"/>
<circle cx="329.67" cy="168.42" r="2.2" fill="url(#bbead)" stroke="#6aa4c8" stroke-width="0.45"/>
<circle cx="329.40" cy="172.98" r="2.2" fill="url(#bbead)" stroke="#6aa4c8" stroke-width="0.45"/>
<circle cx="328.57" cy="177.46" r="2.2" fill="url(#bbead)" stroke="#6aa4c8" stroke-width="0.45"/>
<circle cx="326.99" cy="181.74" r="2.2" fill="url(#bbead)" stroke="#6aa4c8" stroke-width="0.45"/>
<circle cx="324.64" cy="185.65" r="2.2" fill="url(#bbead)" stroke="#6aa4c8" stroke-width="0.45"/>
<circle cx="321.69" cy="189.13" r="2.2" fill="url(#bbead)" stroke="#6aa4c8" stroke-width="0.45"/>
<circle cx="318.12" cy="191.98" r="2.2" fill="url(#bbead)" stroke="#6aa4c8" stroke-width="0.45"/>
<circle cx="314.05" cy="194.02" r="2.2" fill="url(#bbead)" stroke="#6aa4c8" stroke-width="0.45"/>
<circle cx="309.74" cy="195.55" r="2.2" fill="url(#bbead)" stroke="#6aa4c8" stroke-width="0.45"/>
<circle cx="305.32" cy="196.70" r="2.2" fill="url(#bbead)" stroke="#6aa4c8" stroke-width="0.45"/>
<circle cx="300.83" cy="197.55" r="2.2" fill="url(#bbead)" stroke="#6aa4c8" stroke-width="0.45"/>
<circle cx="296.30" cy="198.13" r="2.2" fill="url(#bbead)" stroke="#6aa4c8" stroke-width="0.45"/>
<circle cx="291.76" cy="198.55" r="2.2" fill="url(#bbead)" stroke="#6aa4c8" stroke-width="0.45"/>
<circle cx="287.21" cy="198.95" r="2.2" fill="url(#bbead)" stroke="#6aa4c8" stroke-width="0.45"/>
<circle cx="282.64" cy="199.11" r="2.2" fill="url(#bbead)" stroke="#6aa4c8" stroke-width="0.45"/>
<circle cx="278.07" cy="199.11" r="2.2" fill="url(#bbead)" stroke="#6aa4c8" stroke-width="0.45"/>
<circle cx="273.50" cy="199.04" r="2.2" fill="url(#bbead)" stroke="#6aa4c8" stroke-width="0.45"/>
<circle cx="268.94" cy="198.91" r="2.2" fill="url(#bbead)" stroke="#6aa4c8" stroke-width="0.45"/>
<circle cx="264.37" cy="198.77" r="2.2" fill="url(#bbead)" stroke="#6aa4c8" stroke-width="0.45"/>
<circle cx="259.82" cy="198.46" r="2.2" fill="url(#bbead)" stroke="#6aa4c8" stroke-width="0.45"/>
<circle cx="255.36" cy="197.47" r="2.2" fill="url(#bbead)" stroke="#6aa4c8" stroke-width="0.45"/>
<circle cx="251.17" cy="195.68" r="2.2" fill="url(#bbead)" stroke="#6aa4c8" stroke-width="0.45"/>
<circle cx="247.28" cy="193.29" r="2.2" fill="url(#bbead)" stroke="#6aa4c8" stroke-width="0.45"/>
<circle cx="243.66" cy="190.51" r="2.2" fill="url(#bbead)" stroke="#6aa4c8" stroke-width="0.45"/>
<circle cx="240.33" cy="187.38" r="2.2" fill="url(#bbead)" stroke="#6aa4c8" stroke-width="0.45"/>
<circle cx="237.23" cy="184.02" r="2.2" fill="url(#bbead)" stroke="#6aa4c8" stroke-width="0.45"/>
<circle cx="234.38" cy="180.46" r="2.2" fill="url(#bbead)" stroke="#6aa4c8" stroke-width="0.45"/>
<circle cx="231.81" cy="176.68" r="2.2" fill="url(#bbead)" stroke="#6aa4c8" stroke-width="0.45"/>
<circle cx="229.49" cy="172.75" r="2.2" fill="url(#bbead)" stroke="#6aa4c8" stroke-width="0.45"/>
<circle cx="227.41" cy="168.68" r="2.2" fill="url(#bbead)" stroke="#6aa4c8" stroke-width="0.45"/>
<circle cx="225.60" cy="164.49" r="2.2" fill="url(#bbead)" stroke="#6aa4c8" stroke-width="0.45"/>
<circle cx="224.04" cy="160.20" r="2.2" fill="url(#bbead)" stroke="#6aa4c8" stroke-width="0.45"/>
<circle cx="222.71" cy="155.83" r="2.2" fill="url(#bbead)" stroke="#6aa4c8" stroke-width="0.45"/>
<circle cx="221.65" cy="151.38" r="2.2" fill="url(#bbead)" stroke="#6aa4c8" stroke-width="0.45"/>
<circle cx="220.92" cy="146.88" r="2.2" fill="url(#bbead)" stroke="#6aa4c8" stroke-width="0.45"/>
<circle cx="233.09" cy="141.67" r="2.2" fill="url(#bbead)" stroke="#6aa4c8" stroke-width="0.45"/>
<circle cx="233.11" cy="137.05" r="2.2" fill="url(#bbead)" stroke="#6aa4c8" stroke-width="0.45"/>
<circle cx="233.61" cy="132.45" r="2.2" fill="url(#bbead)" stroke="#6aa4c8" stroke-width="0.45"/>
<circle cx="235.01" cy="128.06" r="2.2" fill="url(#bbead)" stroke="#6aa4c8" stroke-width="0.45"/>
<circle cx="237.98" cy="124.59" r="2.2" fill="url(#bbead)" stroke="#6aa4c8" stroke-width="0.45"/>
<circle cx="242.43" cy="123.42" r="2.2" fill="url(#bbead)" stroke="#6aa4c8" stroke-width="0.45"/>
<circle cx="247.05" cy="123.46" r="2.2" fill="url(#bbead)" stroke="#6aa4c8" stroke-width="0.45"/>
<circle cx="251.51" cy="124.58" r="2.2" fill="url(#bbead)" stroke="#6aa4c8" stroke-width="0.45"/>
<circle cx="255.62" cy="126.70" r="2.2" fill="url(#bbead)" stroke="#6aa4c8" stroke-width="0.45"/>
<circle cx="259.47" cy="129.26" r="2.2" fill="url(#bbead)" stroke="#6aa4c8" stroke-width="0.45"/>
<circle cx="262.92" cy="132.34" r="2.2" fill="url(#bbead)" stroke="#6aa4c8" stroke-width="0.45"/>
<circle cx="266.01" cy="135.79" r="2.2" fill="url(#bbead)" stroke="#6aa4c8" stroke-width="0.45"/>
<circle cx="269.25" cy="139.09" r="2.2" fill="url(#bbead)" stroke="#6aa4c8" stroke-width="0.45"/>
<circle cx="272.77" cy="142.09" r="2.2" fill="url(#bbead)" stroke="#6aa4c8" stroke-width="0.45"/>
<circle cx="276.75" cy="144.42" r="2.2" fill="url(#bbead)" stroke="#6aa4c8" stroke-width="0.45"/>
<circle cx="281.21" cy="145.64" r="2.2" fill="url(#bbead)" stroke="#6aa4c8" stroke-width="0.45"/>
<circle cx="285.70" cy="146.72" r="2.2" fill="url(#bbead)" stroke="#6aa4c8" stroke-width="0.45"/>
<circle cx="290.14" cy="148.02" r="2.2" fill="url(#bbead)" stroke="#6aa4c8" stroke-width="0.45"/>
<circle cx="294.47" cy="149.67" r="2.2" fill="url(#bbead)" stroke="#6aa4c8" stroke-width="0.45"/>
<circle cx="298.77" cy="151.38" r="2.2" fill="url(#bbead)" stroke="#6aa4c8" stroke-width="0.45"/>
<circle cx="302.98" cy="153.29" r="2.2" fill="url(#bbead)" stroke="#6aa4c8" stroke-width="0.45"/>
<circle cx="307.02" cy="155.55" r="2.2" fill="url(#bbead)" stroke="#6aa4c8" stroke-width="0.45"/>
<circle cx="311.05" cy="157.82" r="2.2" fill="url(#bbead)" stroke="#6aa4c8" stroke-width="0.45"/>
<circle cx="314.94" cy="160.34" r="2.2" fill="url(#bbead)" stroke="#6aa4c8" stroke-width="0.45"/>
<circle cx="316.68" cy="164.44" r="2.2" fill="url(#bbead)" stroke="#6aa4c8" stroke-width="0.45"/>
<circle cx="317.06" cy="169.04" r="2.2" fill="url(#bbead)" stroke="#6aa4c8" stroke-width="0.45"/>
<circle cx="316.54" cy="173.63" r="2.2" fill="url(#bbead)" stroke="#6aa4c8" stroke-width="0.45"/>
<circle cx="314.72" cy="177.85" r="2.2" fill="url(#bbead)" stroke="#6aa4c8" stroke-width="0.45"/>
<circle cx="311.57" cy="181.21" r="2.2" fill="url(#bbead)" stroke="#6aa4c8" stroke-width="0.45"/>
<circle cx="307.35" cy="183.08" r="2.2" fill="url(#bbead)" stroke="#6aa4c8" stroke-width="0.45"/>
<circle cx="302.90" cy="184.34" r="2.2" fill="url(#bbead)" stroke="#6aa4c8" stroke-width="0.45"/>
<circle cx="298.35" cy="185.19" r="2.2" fill="url(#bbead)" stroke="#6aa4c8" stroke-width="0.45"/>
<circle cx="293.75" cy="185.72" r="2.2" fill="url(#bbead)" stroke="#6aa4c8" stroke-width="0.45"/>
<circle cx="289.14" cy="186.15" r="2.2" fill="url(#bbead)" stroke="#6aa4c8" stroke-width="0.45"/>
<circle cx="284.53" cy="186.47" r="2.2" fill="url(#bbead)" stroke="#6aa4c8" stroke-width="0.45"/>
<circle cx="279.90" cy="186.52" r="2.2" fill="url(#bbead)" stroke="#6aa4c8" stroke-width="0.45"/>
<circle cx="275.27" cy="186.47" r="2.2" fill="url(#bbead)" stroke="#6aa4c8" stroke-width="0.45"/>
<circle cx="270.64" cy="186.36" r="2.2" fill="url(#bbead)" stroke="#6aa4c8" stroke-width="0.45"/>
<circle cx="266.02" cy="186.21" r="2.2" fill="url(#bbead)" stroke="#6aa4c8" stroke-width="0.45"/>
<circle cx="261.40" cy="185.96" r="2.2" fill="url(#bbead)" stroke="#6aa4c8" stroke-width="0.45"/>
<circle cx="257.03" cy="184.53" r="2.2" fill="url(#bbead)" stroke="#6aa4c8" stroke-width="0.45"/>
<circle cx="253.16" cy="182.00" r="2.2" fill="url(#bbead)" stroke="#6aa4c8" stroke-width="0.45"/>
<circle cx="249.70" cy="178.93" r="2.2" fill="url(#bbead)" stroke="#6aa4c8" stroke-width="0.45"/>
<circle cx="246.55" cy="175.54" r="2.2" fill="url(#bbead)" stroke="#6aa4c8" stroke-width="0.45"/>
<circle cx="243.73" cy="171.87" r="2.2" fill="url(#bbead)" stroke="#6aa4c8" stroke-width="0.45"/>
<circle cx="241.26" cy="167.96" r="2.2" fill="url(#bbead)" stroke="#6aa4c8" stroke-width="0.45"/>
<circle cx="239.08" cy="163.88" r="2.2" fill="url(#bbead)" stroke="#6aa4c8" stroke-width="0.45"/>
<circle cx="237.23" cy="159.63" r="2.2" fill="url(#bbead)" stroke="#6aa4c8" stroke-width="0.45"/>
<circle cx="235.69" cy="155.27" r="2.2" fill="url(#bbead)" stroke="#6aa4c8" stroke-width="0.45"/>
<circle cx="234.43" cy="150.82" r="2.2" fill="url(#bbead)" stroke="#6aa4c8" stroke-width="0.45"/>
<circle cx="233.55" cy="146.28" r="2.2" fill="url(#bbead)" stroke="#6aa4c8" stroke-width="0.45"/>
<path d="M235.39,141.55 L235.36,140.85 L235.34,140.13 L235.34,139.41 L235.35,138.68 L235.37,137.95 L235.40,137.23 L235.44,136.52 L235.50,135.82 L235.56,135.15 L235.63,134.51 L235.71,133.91 L235.79,133.35 L235.88,132.84 L235.97,132.37 L236.07,131.93 L236.17,131.53 L236.27,131.15 L236.38,130.79 L236.49,130.46 L236.60,130.14 L236.73,129.84 L236.86,129.54 L236.99,129.24 L237.14,128.96 L237.28,128.69 L237.42,128.44 L237.57,128.20 L237.72,127.97 L237.87,127.76 L238.02,127.57 L238.17,127.39 L238.31,127.23 L238.45,127.09 L238.57,126.97 L238.69,126.87 L238.77,126.80 L238.81,126.77 L238.86,126.73 L238.95,126.68 L239.06,126.62 L239.22,126.55 L239.40,126.47 L239.62,126.39 L239.86,126.30 L240.14,126.21 L240.44,126.12 L240.76,126.03 L241.07,125.95 L241.31,125.89 L241.53,125.85 L241.76,125.81 L242.00,125.77 L242.26,125.74 L242.54,125.72 L242.84,125.70 L243.17,125.69 L243.52,125.68 L243.90,125.68 L244.30,125.69 L244.78,125.70 L245.33,125.71 L245.88,125.72 L246.37,125.74 L246.81,125.75 L247.20,125.77 L247.54,125.80 L247.85,125.83 L248.13,125.87 L248.39,125.91 L248.65,125.97 L248.92,126.04 L249.21,126.14 L249.60,126.28 L250.09,126.48 L250.65,126.72 L251.26,127.00 L251.91,127.31 L252.57,127.65 L253.25,128.01 L253.92,128.38 L254.57,128.75 L255.20,129.12 L255.80,129.48 L256.32,129.82 L256.78,130.12 L257.20,130.42 L257.63,130.73 L258.05,131.06 L258.47,131.41 L258.89,131.76 L259.32,132.14 L259.75,132.53 L260.19,132.93 L260.65,133.36 L261.11,133.79 L261.53,134.19 L261.85,134.50 L262.12,134.79 L262.41,135.11 L262.73,135.47 L263.07,135.87 L263.44,136.32 L263.85,136.80 L264.30,137.33 L264.80,137.90 L265.35,138.51 L265.96,139.13 L266.56,139.72 L267.09,140.21 L267.58,140.67 L268.11,141.16 L268.66,141.67 L269.25,142.19 L269.87,142.72 L270.53,143.26 L271.23,143.81 L271.97,144.35 L272.76,144.89 L273.62,145.42 L274.56,145.94 L275.57,146.43 L276.59,146.83 L277.56,147.16 L278.45,147.41 L279.28,147.61 L280.02,147.76 L280.67,147.88 L281.24,147.99 L281.73,148.08 L282.13,148.15 L282.46,148.23 L282.81,148.32 L283.32,148.45 L283.90,148.61 L284.49,148.77 L285.07,148.93 L285.64,149.08 L286.20,149.24 L286.75,149.39 L287.29,149.55 L287.82,149.70 L288.32,149.85 L288.81,150.01 L289.28,150.16 L289.74,150.32 L290.21,150.48 L290.69,150.66 L291.17,150.84 L291.66,151.03 L292.16,151.22 L292.67,151.42 L293.18,151.63 L293.70,151.84 L294.23,152.05 L294.76,152.27 L295.31,152.48 L295.85,152.70 L296.37,152.91 L296.88,153.11 L297.38,153.31 L297.86,153.50 L298.32,153.69 L298.77,153.87 L299.21,154.05 L299.62,154.23 L300.03,154.41 L300.41,154.58 L300.79,154.76 L301.16,154.94 L301.53,155.12 L301.90,155.32 L302.28,155.52 L302.66,155.73 L303.06,155.95 L303.47,156.18 L303.90,156.42 L304.34,156.67 L304.80,156.93 L305.27,157.21 L305.77,157.49 L306.29,157.78 L306.81,158.07 L307.33,158.35 L307.83,158.63 L308.32,158.90 L308.79,159.17 L309.25,159.43 L309.69,159.69 L310.10,159.93 L310.48,160.17 L310.84,160.39 L311.23,160.66 L311.74,160.99 L312.27,161.34 L312.74,161.64 L313.15,161.90 L313.48,162.12 L313.74,162.30 L313.92,162.44 L314.03,162.52 L314.07,162.55 L314.04,162.52 L313.95,162.42 L313.85,162.28 L313.78,162.16 L313.76,162.13 L313.79,162.20 L313.84,162.34 L313.91,162.56 L313.99,162.84 L314.08,163.18 L314.17,163.57 L314.26,164.00 L314.35,164.47 L314.44,164.97 L314.52,165.45 L314.59,165.83 L314.63,166.17 L314.67,166.52 L314.71,166.88 L314.73,167.24 L314.75,167.61 L314.76,167.99 L314.77,168.37 L314.76,168.76 L314.75,169.16 L314.74,169.56 L314.72,169.96 L314.69,170.37 L314.65,170.77 L314.61,171.17 L314.57,171.56 L314.51,171.94 L314.46,172.31 L314.39,172.66 L314.33,173.00 L314.25,173.31 L314.18,173.60 L314.11,173.87 L314.03,174.12 L313.94,174.37 L313.85,174.63 L313.75,174.87 L313.65,175.10 L313.54,175.33 L313.43,175.55 L313.31,175.77 L313.19,175.98 L313.06,176.20 L312.92,176.42 L312.76,176.64 L312.58,176.90 L312.36,177.18 L312.13,177.48 L311.92,177.75 L311.71,178.00 L311.51,178.22 L311.32,178.43 L311.13,178.62 L310.96,178.78 L310.79,178.93 L310.62,179.07 L310.46,179.19 L310.30,179.30 L310.11,179.41 L309.87,179.55 L309.58,179.70 L309.24,179.87 L308.86,180.04 L308.44,180.22 L307.99,180.40 L307.51,180.58 L307.00,180.76 L306.48,180.95 L305.93,181.13 L305.41,181.30 L304.91,181.45 L304.42,181.59 L303.91,181.73 L303.37,181.87 L302.81,182.00 L302.24,182.13 L301.65,182.25 L301.05,182.37 L300.44,182.49 L299.82,182.60 L299.20,182.71 L298.59,182.82 L298.02,182.91 L297.46,182.99 L296.90,183.07 L296.33,183.14 L295.74,183.21 L295.15,183.27 L294.53,183.33 L293.91,183.39 L293.26,183.45 L292.60,183.51 L291.92,183.57 L291.22,183.64 L290.51,183.70 L289.83,183.77 L289.19,183.83 L288.58,183.89 L287.99,183.95 L287.40,184.00 L286.81,184.05 L286.19,184.09 L285.54,184.12 L284.85,184.16 L284.09,184.18 L283.25,184.20 L282.30,184.21 L281.24,184.22 L280.09,184.22 L278.88,184.21 L277.62,184.20 L276.33,184.19 L275.04,184.17 L273.76,184.14 L272.51,184.11 L271.31,184.08 L270.18,184.05 L269.11,184.01 L268.05,183.97 L267.02,183.94 L266.06,183.92 L265.17,183.89 L264.35,183.87 L263.60,183.84 L262.92,183.80 L262.31,183.75 L261.78,183.69 L261.30,183.62 L260.89,183.55 L260.50,183.46 L260.12,183.36 L259.75,183.24 L259.39,183.10 L259.04,182.96 L258.67,182.79 L258.30,182.60 L257.91,182.39 L257.49,182.15 L257.05,181.88 L256.57,181.58 L256.06,181.24 L255.56,180.91 L255.11,180.59 L254.68,180.27 L254.24,179.94 L253.80,179.58 L253.35,179.19 L252.89,178.79 L252.43,178.37 L251.96,177.93 L251.49,177.47 L251.01,176.99 L250.54,176.50 L250.06,176.00 L249.59,175.50 L249.13,174.99 L248.68,174.48 L248.24,173.97 L247.80,173.45 L247.37,172.92 L246.95,172.39 L246.54,171.84 L246.12,171.28 L245.72,170.71 L245.31,170.12 L244.91,169.51 L244.49,168.86 L244.07,168.18 L243.65,167.49 L243.23,166.78 L242.82,166.06 L242.42,165.33 L242.02,164.58 L241.63,163.83 L241.25,163.07 L240.88,162.31 L240.53,161.55 L240.19,160.78 L239.86,159.99 L239.53,159.18 L239.20,158.33 L238.87,157.48 L238.56,156.61 L238.26,155.73 L237.96,154.85 L237.69,153.98 L237.42,153.11 L237.18,152.26 L236.95,151.44 L236.75,150.63 L236.56,149.84 L236.39,149.06 L236.23,148.29 L236.08,147.52 L235.95,146.76 L235.83,146.00 L235.73,145.25 L235.64,144.50 L235.56,143.76 L235.49,143.02 L235.43,142.28 Z" fill="#fff" stroke="none"/>
<ellipse cx="248.2" cy="142.6" rx="9.5" ry="12.0" transform="rotate(-38 248.2 142.6)" fill="url(#nuc)" stroke="#6a5aa8" stroke-width="0.6"/>
<text x="270.45" y="163.00" font-size="11.90" font-weight="bold" text-anchor="middle" fill="#111" stroke="#111" stroke-width="0.20">CHO</text>
<text x="271.90" y="176.80" font-size="11.30" font-weight="bold" text-anchor="middle" fill="#111" stroke="#111" stroke-width="0.20">cell</text>
<path d="M295.0,211.8 L305.5,207.2 L305.5,213.6 Z" fill="#d8308e"/>
<circle cx="307.70" cy="208.60" r="3.45" fill="url(#mbead)" stroke="#8a1858" stroke-width="0.5"/>
<circle cx="307.20" cy="201.40" r="3.45" fill="url(#mbead)" stroke="#8a1858" stroke-width="0.5"/>
<circle cx="303.00" cy="195.70" r="3.45" fill="url(#mbead)" stroke="#8a1858" stroke-width="0.5"/>
<circle cx="297.70" cy="189.40" r="3.45" fill="url(#mbead)" stroke="#8a1858" stroke-width="0.5"/>
<circle cx="299.20" cy="182.40" r="3.45" fill="url(#mbead)" stroke="#8a1858" stroke-width="0.5"/>
<circle cx="302.40" cy="175.60" r="3.45" fill="url(#mbead)" stroke="#8a1858" stroke-width="0.5"/>
<circle cx="309.20" cy="172.75" r="3.45" fill="url(#mbead)" stroke="#8a1858" stroke-width="0.5"/>
<circle cx="309.20" cy="165.20" r="3.45" fill="url(#mbead)" stroke="#8a1858" stroke-width="0.5"/>
<circle cx="309.20" cy="157.65" r="3.45" fill="url(#mbead)" stroke="#8a1858" stroke-width="0.5"/>
<circle cx="309.20" cy="150.10" r="3.45" fill="url(#mbead)" stroke="#8a1858" stroke-width="0.5"/>
<circle cx="309.20" cy="142.55" r="3.45" fill="url(#mbead)" stroke="#8a1858" stroke-width="0.5"/>
<circle cx="309.20" cy="135.00" r="3.45" fill="url(#mbead)" stroke="#8a1858" stroke-width="0.5"/>
<circle cx="309.20" cy="127.45" r="3.45" fill="url(#mbead)" stroke="#8a1858" stroke-width="0.5"/>
<circle cx="309.20" cy="119.90" r="3.45" fill="url(#mbead)" stroke="#8a1858" stroke-width="0.5"/>
<circle cx="309.20" cy="112.35" r="3.45" fill="url(#mbead)" stroke="#8a1858" stroke-width="0.5"/>
<circle cx="309.20" cy="104.80" r="3.45" fill="url(#mbead)" stroke="#8a1858" stroke-width="0.5"/>
<path d="M306.8,93.2 A4.3,4.3 0 1 1 306.8,99.8 L308.6,96.5 Z" fill="url(#mbead)" stroke="#8a1858" stroke-width="0.5"/>
<text transform="translate(323.00,136.40) rotate(-90)" font-size="11.50" font-weight="bold" fill="#111" stroke="#111" stroke-width="0.20">Siglec-1</text>
<g transform="translate(301.3,73.5) scale(0.59)">
<path d="M-12.50,-22.00 L-16.90,-24.50 L-15.80,-28.70 L-19.60,-30.70 L-19.10,-34.60 L-21.20,-38.50 L-25.00,-38.00 L-27.30,-41.80 L-31.10,-40.60 L-31.10,-36.40 L-35.00,-34.60 L-34.60,-30.70 L-30.40,-29.90" fill="none" stroke="#8a8a8a" stroke-width="0.5"/>
<circle cx="-16.90" cy="-24.50" r="1.55" fill="#e8201c" stroke="#b01010" stroke-width="0.3"/>
<circle cx="-15.80" cy="-28.70" r="1.5" fill="#d2d2d2" stroke="#9a9a9a" stroke-width="0.35"/>
<circle cx="-19.60" cy="-30.70" r="1.5" fill="#d2d2d2" stroke="#9a9a9a" stroke-width="0.35"/>
<circle cx="-19.10" cy="-34.60" r="1.55" fill="#e8201c" stroke="#b01010" stroke-width="0.3"/>
<circle cx="-21.20" cy="-38.50" r="1.5" fill="#d2d2d2" stroke="#9a9a9a" stroke-width="0.35"/>
<circle cx="-25.00" cy="-38.00" r="1.5" fill="#d2d2d2" stroke="#9a9a9a" stroke-width="0.35"/>
<circle cx="-27.30" cy="-41.80" r="1.55" fill="#e8201c" stroke="#b01010" stroke-width="0.3"/>
<circle cx="-31.10" cy="-40.60" r="1.5" fill="#d2d2d2" stroke="#9a9a9a" stroke-width="0.35"/>
<circle cx="-31.10" cy="-36.40" r="1.5" fill="#d2d2d2" stroke="#9a9a9a" stroke-width="0.35"/>
<circle cx="-35.00" cy="-34.60" r="1.55" fill="#e8201c" stroke="#b01010" stroke-width="0.3"/>
<circle cx="-34.60" cy="-30.70" r="1.5" fill="#d2d2d2" stroke="#9a9a9a" stroke-width="0.35"/>
<circle cx="-30.40" cy="-29.90" r="1.5" fill="#d2d2d2" stroke="#9a9a9a" stroke-width="0.35"/>
<path d="M21.50,-12.60 L27.20,-11.60 L27.70,-7.60 L31.90,-6.80 L32.70,-2.60 L35.80,0.10 L39.20,-1.40 L42.80,-4.50 L42.30,-8.70 L38.10,-9.30 L37.50,-13.30 L40.20,-16.20 L37.70,-19.50" fill="none" stroke="#8a8a8a" stroke-width="0.5"/>
<circle cx="27.20" cy="-11.60" r="1.55" fill="#e8201c" stroke="#b01010" stroke-width="0.3"/>
<circle cx="27.70" cy="-7.60" r="1.5" fill="#d2d2d2" stroke="#9a9a9a" stroke-width="0.35"/>
<circle cx="31.90" cy="-6.80" r="1.5" fill="#d2d2d2" stroke="#9a9a9a" stroke-width="0.35"/>
<circle cx="32.70" cy="-2.60" r="1.55" fill="#e8201c" stroke="#b01010" stroke-width="0.3"/>
<circle cx="35.80" cy="0.10" r="1.5" fill="#d2d2d2" stroke="#9a9a9a" stroke-width="0.35"/>
<circle cx="39.20" cy="-1.40" r="1.5" fill="#d2d2d2" stroke="#9a9a9a" stroke-width="0.35"/>
<circle cx="42.80" cy="-4.50" r="1.55" fill="#e8201c" stroke="#b01010" stroke-width="0.3"/>
<circle cx="42.30" cy="-8.70" r="1.5" fill="#d2d2d2" stroke="#9a9a9a" stroke-width="0.35"/>
<circle cx="38.10" cy="-9.30" r="1.5" fill="#d2d2d2" stroke="#9a9a9a" stroke-width="0.35"/>
<circle cx="37.50" cy="-13.30" r="1.55" fill="#e8201c" stroke="#b01010" stroke-width="0.3"/>
<circle cx="40.20" cy="-16.20" r="1.5" fill="#d2d2d2" stroke="#9a9a9a" stroke-width="0.35"/>
<circle cx="37.70" cy="-19.50" r="1.5" fill="#d2d2d2" stroke="#9a9a9a" stroke-width="0.35"/>
<path d="M-19.40,15.70 L-22.70,21.70 L-26.80,20.40 L-28.80,24.30 L-33.10,23.70 L-37.10,25.50 L-36.10,29.70 L-40.40,31.90 L-39.00,35.70 L-34.80,35.50 L-33.80,39.10 L-35.80,43.20 L-40.00,42.40" fill="none" stroke="#8a8a8a" stroke-width="0.5"/>
<circle cx="-22.70" cy="21.70" r="1.55" fill="#e8201c" stroke="#b01010" stroke-width="0.3"/>
<circle cx="-26.80" cy="20.40" r="1.5" fill="#d2d2d2" stroke="#9a9a9a" stroke-width="0.35"/>
<circle cx="-28.80" cy="24.30" r="1.5" fill="#d2d2d2" stroke="#9a9a9a" stroke-width="0.35"/>
<circle cx="-33.10" cy="23.70" r="1.55" fill="#e8201c" stroke="#b01010" stroke-width="0.3"/>
<circle cx="-37.10" cy="25.50" r="1.5" fill="#d2d2d2" stroke="#9a9a9a" stroke-width="0.35"/>
<circle cx="-36.10" cy="29.70" r="1.5" fill="#d2d2d2" stroke="#9a9a9a" stroke-width="0.35"/>
<circle cx="-40.40" cy="31.90" r="1.55" fill="#e8201c" stroke="#b01010" stroke-width="0.3"/>
<circle cx="-39.00" cy="35.70" r="1.5" fill="#d2d2d2" stroke="#9a9a9a" stroke-width="0.35"/>
<circle cx="-34.80" cy="35.50" r="1.5" fill="#d2d2d2" stroke="#9a9a9a" stroke-width="0.35"/>
<circle cx="-33.80" cy="39.10" r="1.55" fill="#e8201c" stroke="#b01010" stroke-width="0.3"/>
<circle cx="-35.80" cy="43.20" r="1.5" fill="#d2d2d2" stroke="#9a9a9a" stroke-width="0.35"/>
<circle cx="-40.00" cy="42.40" r="1.5" fill="#d2d2d2" stroke="#9a9a9a" stroke-width="0.35"/>
<path d="M15.80,19.20 L20.50,21.40 L22.70,24.70 L26.90,23.20 L29.70,26.50 L33.70,28.00 L36.10,24.00 L39.90,25.60 L41.70,29.40 L38.10,32.20 L39.70,36.00 L36.20,38.30 L32.80,35.60" fill="none" stroke="#8a8a8a" stroke-width="0.5"/>
<circle cx="20.50" cy="21.40" r="1.55" fill="#e8201c" stroke="#b01010" stroke-width="0.3"/>
<circle cx="22.70" cy="24.70" r="1.5" fill="#d2d2d2" stroke="#9a9a9a" stroke-width="0.35"/>
<circle cx="26.90" cy="23.20" r="1.5" fill="#d2d2d2" stroke="#9a9a9a" stroke-width="0.35"/>
<circle cx="29.70" cy="26.50" r="1.55" fill="#e8201c" stroke="#b01010" stroke-width="0.3"/>
<circle cx="33.70" cy="28.00" r="1.5" fill="#d2d2d2" stroke="#9a9a9a" stroke-width="0.35"/>
<circle cx="36.10" cy="24.00" r="1.5" fill="#d2d2d2" stroke="#9a9a9a" stroke-width="0.35"/>
<circle cx="39.90" cy="25.60" r="1.55" fill="#e8201c" stroke="#b01010" stroke-width="0.3"/>
<circle cx="41.70" cy="29.40" r="1.5" fill="#d2d2d2" stroke="#9a9a9a" stroke-width="0.35"/>
<circle cx="38.10" cy="32.20" r="1.5" fill="#d2d2d2" stroke="#9a9a9a" stroke-width="0.35"/>
<circle cx="39.70" cy="36.00" r="1.55" fill="#e8201c" stroke="#b01010" stroke-width="0.3"/>
<circle cx="36.20" cy="38.30" r="1.5" fill="#d2d2d2" stroke="#9a9a9a" stroke-width="0.35"/>
<circle cx="32.80" cy="35.60" r="1.5" fill="#d2d2d2" stroke="#9a9a9a" stroke-width="0.35"/>
<circle cx="41.10" cy="-24.30" r="7.0" fill="#d8f3fa" opacity="0.35"/>
<path d="M37.90,-29.84 L41.40,-27.18 L45.38,-29.06 L43.94,-24.90 L46.95,-21.70 L42.55,-21.79 L40.43,-17.94 L39.16,-22.14 L34.84,-22.97 L38.45,-25.48 Z" fill="#86d4ea" stroke="#2a4a58" stroke-width="0.55" stroke-linejoin="round"/>
<line x1="32.20" y1="-27.90" x2="29.60" y2="-28.95" stroke="#5a5a5a" stroke-width="0.65"/>
<line x1="36.74" y1="-32.85" x2="35.47" y2="-35.35" stroke="#5a5a5a" stroke-width="0.65"/>
<line x1="42.60" y1="-33.78" x2="43.04" y2="-36.55" stroke="#5a5a5a" stroke-width="0.65"/>
<line x1="47.27" y1="-31.65" x2="49.07" y2="-33.80" stroke="#5a5a5a" stroke-width="0.65"/>
<line x1="50.28" y1="-27.11" x2="52.96" y2="-27.93" stroke="#5a5a5a" stroke-width="0.65"/>
<line x1="50.12" y1="-21.02" x2="52.75" y2="-20.06" stroke="#5a5a5a" stroke-width="0.65"/>
<line x1="45.75" y1="-15.90" x2="47.11" y2="-13.45" stroke="#5a5a5a" stroke-width="0.65"/>
<line x1="31.71" y1="-22.30" x2="28.97" y2="-21.72" stroke="#5a5a5a" stroke-width="0.65"/>
<circle cx="-41.90" cy="51.20" r="7.0" fill="#d8f3fa" opacity="0.35"/>
<path d="M-43.88,45.11 L-41.00,48.44 L-36.72,47.44 L-39.00,51.20 L-36.72,54.96 L-41.00,53.96 L-43.88,57.29 L-44.25,52.90 L-48.30,51.20 L-44.25,49.50 Z" fill="#86d4ea" stroke="#2a4a58" stroke-width="0.55" stroke-linejoin="round"/>
<line x1="-49.57" y1="45.42" x2="-51.80" y2="43.74" stroke="#5a5a5a" stroke-width="0.65"/>
<line x1="-51.46" y1="52.04" x2="-54.25" y2="52.28" stroke="#5a5a5a" stroke-width="0.65"/>
<line x1="-48.92" y1="57.75" x2="-50.97" y2="59.66" stroke="#5a5a5a" stroke-width="0.65"/>
<line x1="-43.73" y1="60.62" x2="-44.27" y2="63.37" stroke="#5a5a5a" stroke-width="0.65"/>
<line x1="-38.46" y1="60.16" x2="-37.46" y2="62.78" stroke="#5a5a5a" stroke-width="0.65"/>
<line x1="-33.67" y1="56.14" x2="-31.27" y2="57.59" stroke="#5a5a5a" stroke-width="0.65"/>
<line x1="-32.45" y1="49.53" x2="-29.69" y2="49.05" stroke="#5a5a5a" stroke-width="0.65"/>
<line x1="-34.88" y1="44.65" x2="-32.83" y2="42.74" stroke="#5a5a5a" stroke-width="0.65"/>
<circle cx="0" cy="0" r="17.5" fill="none" stroke="#d6d2ec" stroke-width="12"/>
<line x1="22.94" y1="1.63" x2="17.57" y2="1.01" stroke="#4e4e5e" stroke-width="0.5"/>
<line x1="22.88" y1="2.38" x2="17.48" y2="2.05" stroke="#4e4e5e" stroke-width="0.5"/>
<line x1="22.31" y1="5.59" x2="17.13" y2="4.05" stroke="#4e4e5e" stroke-width="0.5"/>
<line x1="22.12" y1="6.31" x2="16.86" y2="5.06" stroke="#4e4e5e" stroke-width="0.5"/>
<line x1="21.00" y1="9.38" x2="16.16" y2="6.96" stroke="#4e4e5e" stroke-width="0.5"/>
<line x1="20.68" y1="10.06" x2="15.72" y2="7.91" stroke="#4e4e5e" stroke-width="0.5"/>
<line x1="19.05" y1="12.88" x2="14.71" y2="9.66" stroke="#4e4e5e" stroke-width="0.5"/>
<line x1="18.62" y1="13.50" x2="14.11" y2="10.52" stroke="#4e4e5e" stroke-width="0.5"/>
<line x1="16.53" y1="16.00" x2="12.81" y2="12.07" stroke="#4e4e5e" stroke-width="0.5"/>
<line x1="16.00" y1="16.53" x2="12.07" y2="12.81" stroke="#4e4e5e" stroke-width="0.5"/>
<line x1="13.50" y1="18.62" x2="10.52" y2="14.11" stroke="#4e4e5e" stroke-width="0.5"/>
<line x1="12.88" y1="19.05" x2="9.66" y2="14.71" stroke="#4e4e5e" stroke-width="0.5"/>
<line x1="10.06" y1="20.68" x2="7.91" y2="15.72" stroke="#4e4e5e" stroke-width="0.5"/>
<line x1="9.38" y1="21.00" x2="6.96" y2="16.16" stroke="#4e4e5e" stroke-width="0.5"/>
<line x1="6.31" y1="22.12" x2="5.06" y2="16.86" stroke="#4e4e5e" stroke-width="0.5"/>
<line x1="5.59" y1="22.31" x2="4.05" y2="17.13" stroke="#4e4e5e" stroke-width="0.5"/>
<line x1="2.38" y1="22.88" x2="2.05" y2="17.48" stroke="#4e4e5e" stroke-width="0.5"/>
<line x1="1.63" y1="22.94" x2="1.01" y2="17.57" stroke="#4e4e5e" stroke-width="0.5"/>
<line x1="-1.63" y1="22.94" x2="-1.01" y2="17.57" stroke="#4e4e5e" stroke-width="0.5"/>
<line x1="-2.38" y1="22.88" x2="-2.05" y2="17.48" stroke="#4e4e5e" stroke-width="0.5"/>
<line x1="-5.59" y1="22.31" x2="-4.05" y2="17.13" stroke="#4e4e5e" stroke-width="0.5"/>
<line x1="-6.31" y1="22.12" x2="-5.06" y2="16.86" stroke="#4e4e5e" stroke-width="0.5"/>
<line x1="-9.38" y1="21.00" x2="-6.96" y2="16.16" stroke="#4e4e5e" stroke-width="0.5"/>
<line x1="-10.06" y1="20.68" x2="-7.91" y2="15.72" stroke="#4e4e5e" stroke-width="0.5"/>
<line x1="-12.88" y1="19.05" x2="-9.66" y2="14.71" stroke="#4e4e5e" stroke-width="0.5"/>
<line x1="-13.50" y1="18.62" x2="-10.52" y2="14.11" stroke="#4e4e5e" stroke-width="0.5"/>
<line x1="-16.00" y1="16.53" x2="-12.07" y2="12.81" stroke="#4e4e5e" stroke-width="0.5"/>
<line x1="-16.53" y1="16.00" x2="-12.81" y2="12.07" stroke="#4e4e5e" stroke-width="0.5"/>
<line x1="-18.62" y1="13.50" x2="-14.11" y2="10.52" stroke="#4e4e5e" stroke-width="0.5"/>
<line x1="-19.05" y1="12.88" x2="-14.71" y2="9.66" stroke="#4e4e5e" stroke-width="0.5"/>
<line x1="-20.68" y1="10.06" x2="-15.72" y2="7.91" stroke="#4e4e5e" stroke-width="0.5"/>
<line x1="-21.00" y1="9.38" x2="-16.16" y2="6.96" stroke="#4e4e5e" stroke-width="0.5"/>
<line x1="-22.12" y1="6.31" x2="-16.86" y2="5.06" stroke="#4e4e5e" stroke-width="0.5"/>
<line x1="-22.31" y1="5.59" x2="-17.13" y2="4.05" stroke="#4e4e5e" stroke-width="0.5"/>
<line x1="-22.88" y1="2.38" x2="-17.48" y2="2.05" stroke="#4e4e5e" stroke-width="0.5"/>
<line x1="-22.94" y1="1.63" x2="-17.57" y2="1.01" stroke="#4e4e5e" stroke-width="0.5"/>
<line x1="-22.94" y1="-1.63" x2="-17.57" y2="-1.01" stroke="#4e4e5e" stroke-width="0.5"/>
<line x1="-22.88" y1="-2.38" x2="-17.48" y2="-2.05" stroke="#4e4e5e" stroke-width="0.5"/>
<line x1="-22.31" y1="-5.59" x2="-17.13" y2="-4.05" stroke="#4e4e5e" stroke-width="0.5"/>
<line x1="-22.12" y1="-6.31" x2="-16.86" y2="-5.06" stroke="#4e4e5e" stroke-width="0.5"/>
<line x1="-21.00" y1="-9.38" x2="-16.16" y2="-6.96" stroke="#4e4e5e" stroke-width="0.5"/>
<line x1="-20.68" y1="-10.06" x2="-15.72" y2="-7.91" stroke="#4e4e5e" stroke-width="0.5"/>
<line x1="-19.05" y1="-12.88" x2="-14.71" y2="-9.66" stroke="#4e4e5e" stroke-width="0.5"/>
<line x1="-18.62" y1="-13.50" x2="-14.11" y2="-10.52" stroke="#4e4e5e" stroke-width="0.5"/>
<line x1="-16.53" y1="-16.00" x2="-12.81" y2="-12.07" stroke="#4e4e5e" stroke-width="0.5"/>
<line x1="-16.00" y1="-16.53" x2="-12.07" y2="-12.81" stroke="#4e4e5e" stroke-width="0.5"/>
<line x1="-13.50" y1="-18.62" x2="-10.52" y2="-14.11" stroke="#4e4e5e" stroke-width="0.5"/>
<line x1="-12.88" y1="-19.05" x2="-9.66" y2="-14.71" stroke="#4e4e5e" stroke-width="0.5"/>
<line x1="-10.06" y1="-20.68" x2="-7.91" y2="-15.72" stroke="#4e4e5e" stroke-width="0.5"/>
<line x1="-9.38" y1="-21.00" x2="-6.96" y2="-16.16" stroke="#4e4e5e" stroke-width="0.5"/>
<line x1="-6.31" y1="-22.12" x2="-5.06" y2="-16.86" stroke="#4e4e5e" stroke-width="0.5"/>
<line x1="-5.59" y1="-22.31" x2="-4.05" y2="-17.13" stroke="#4e4e5e" stroke-width="0.5"/>
<line x1="-2.38" y1="-22.88" x2="-2.05" y2="-17.48" stroke="#4e4e5e" stroke-width="0.5"/>
<line x1="-1.63" y1="-22.94" x2="-1.01" y2="-17.57" stroke="#4e4e5e" stroke-width="0.5"/>
<line x1="1.63" y1="-22.94" x2="1.01" y2="-17.57" stroke="#4e4e5e" stroke-width="0.5"/>
<line x1="2.38" y1="-22.88" x2="2.05" y2="-17.48" stroke="#4e4e5e" stroke-width="0.5"/>
<line x1="5.59" y1="-22.31" x2="4.05" y2="-17.13" stroke="#4e4e5e" stroke-width="0.5"/>
<line x1="6.31" y1="-22.12" x2="5.06" y2="-16.86" stroke="#4e4e5e" stroke-width="0.5"/>
<line x1="9.38" y1="-21.00" x2="6.96" y2="-16.16" stroke="#4e4e5e" stroke-width="0.5"/>
<line x1="10.06" y1="-20.68" x2="7.91" y2="-15.72" stroke="#4e4e5e" stroke-width="0.5"/>
<line x1="12.88" y1="-19.05" x2="9.66" y2="-14.71" stroke="#4e4e5e" stroke-width="0.5"/>
<line x1="13.50" y1="-18.62" x2="10.52" y2="-14.11" stroke="#4e4e5e" stroke-width="0.5"/>
<line x1="16.00" y1="-16.53" x2="12.07" y2="-12.81" stroke="#4e4e5e" stroke-width="0.5"/>
<line x1="16.53" y1="-16.00" x2="12.81" y2="-12.07" stroke="#4e4e5e" stroke-width="0.5"/>
<line x1="18.62" y1="-13.50" x2="14.11" y2="-10.52" stroke="#4e4e5e" stroke-width="0.5"/>
<line x1="19.05" y1="-12.88" x2="14.71" y2="-9.66" stroke="#4e4e5e" stroke-width="0.5"/>
<line x1="20.68" y1="-10.06" x2="15.72" y2="-7.91" stroke="#4e4e5e" stroke-width="0.5"/>
<line x1="21.00" y1="-9.38" x2="16.16" y2="-6.96" stroke="#4e4e5e" stroke-width="0.5"/>
<line x1="22.12" y1="-6.31" x2="16.86" y2="-5.06" stroke="#4e4e5e" stroke-width="0.5"/>
<line x1="22.31" y1="-5.59" x2="17.13" y2="-4.05" stroke="#4e4e5e" stroke-width="0.5"/>
<line x1="22.88" y1="-2.38" x2="17.48" y2="-2.05" stroke="#4e4e5e" stroke-width="0.5"/>
<line x1="22.94" y1="-1.63" x2="17.57" y2="-1.01" stroke="#4e4e5e" stroke-width="0.5"/>
<line x1="12.20" y1="-0.23" x2="17.19" y2="-0.66" stroke="#4e4e5e" stroke-width="0.5"/>
<line x1="12.20" y1="0.23" x2="17.19" y2="0.66" stroke="#4e4e5e" stroke-width="0.5"/>
<line x1="11.98" y1="2.31" x2="16.95" y2="2.93" stroke="#4e4e5e" stroke-width="0.5"/>
<line x1="11.88" y1="2.77" x2="16.67" y2="4.22" stroke="#4e4e5e" stroke-width="0.5"/>
<line x1="11.24" y1="4.75" x2="15.97" y2="6.39" stroke="#4e4e5e" stroke-width="0.5"/>
<line x1="11.05" y1="5.18" x2="15.43" y2="7.59" stroke="#4e4e5e" stroke-width="0.5"/>
<line x1="10.01" y1="6.98" x2="14.29" y2="9.57" stroke="#4e4e5e" stroke-width="0.5"/>
<line x1="9.73" y1="7.36" x2="13.52" y2="10.64" stroke="#4e4e5e" stroke-width="0.5"/>
<line x1="8.34" y1="8.91" x2="11.99" y2="12.33" stroke="#4e4e5e" stroke-width="0.5"/>
<line x1="7.99" y1="9.22" x2="11.01" y2="13.21" stroke="#4e4e5e" stroke-width="0.5"/>
<line x1="6.30" y1="10.45" x2="9.17" y2="14.55" stroke="#4e4e5e" stroke-width="0.5"/>
<line x1="5.90" y1="10.68" x2="8.02" y2="15.21" stroke="#4e4e5e" stroke-width="0.5"/>
<line x1="3.99" y1="11.53" x2="5.94" y2="16.14" stroke="#4e4e5e" stroke-width="0.5"/>
<line x1="3.55" y1="11.67" x2="4.68" y2="16.55" stroke="#4e4e5e" stroke-width="0.5"/>
<line x1="1.51" y1="12.11" x2="2.45" y2="17.02" stroke="#4e4e5e" stroke-width="0.5"/>
<line x1="1.04" y1="12.16" x2="1.14" y2="17.16" stroke="#4e4e5e" stroke-width="0.5"/>
<line x1="-1.04" y1="12.16" x2="-1.14" y2="17.16" stroke="#4e4e5e" stroke-width="0.5"/>
<line x1="-1.51" y1="12.11" x2="-2.45" y2="17.02" stroke="#4e4e5e" stroke-width="0.5"/>
<line x1="-3.55" y1="11.67" x2="-4.68" y2="16.55" stroke="#4e4e5e" stroke-width="0.5"/>
<line x1="-3.99" y1="11.53" x2="-5.94" y2="16.14" stroke="#4e4e5e" stroke-width="0.5"/>
<line x1="-5.90" y1="10.68" x2="-8.02" y2="15.21" stroke="#4e4e5e" stroke-width="0.5"/>
<line x1="-6.30" y1="10.45" x2="-9.17" y2="14.55" stroke="#4e4e5e" stroke-width="0.5"/>
<line x1="-7.99" y1="9.22" x2="-11.01" y2="13.21" stroke="#4e4e5e" stroke-width="0.5"/>
<line x1="-8.34" y1="8.91" x2="-11.99" y2="12.33" stroke="#4e4e5e" stroke-width="0.5"/>
<line x1="-9.73" y1="7.36" x2="-13.52" y2="10.64" stroke="#4e4e5e" stroke-width="0.5"/>
<line x1="-10.01" y1="6.98" x2="-14.29" y2="9.57" stroke="#4e4e5e" stroke-width="0.5"/>
<line x1="-11.05" y1="5.18" x2="-15.43" y2="7.59" stroke="#4e4e5e" stroke-width="0.5"/>
<line x1="-11.24" y1="4.75" x2="-15.97" y2="6.39" stroke="#4e4e5e" stroke-width="0.5"/>
<line x1="-11.88" y1="2.77" x2="-16.67" y2="4.22" stroke="#4e4e5e" stroke-width="0.5"/>
<line x1="-11.98" y1="2.31" x2="-16.95" y2="2.93" stroke="#4e4e5e" stroke-width="0.5"/>
<line x1="-12.20" y1="0.23" x2="-17.19" y2="0.66" stroke="#4e4e5e" stroke-width="0.5"/>
<line x1="-12.20" y1="-0.23" x2="-17.19" y2="-0.66" stroke="#4e4e5e" stroke-width="0.5"/>
<line x1="-11.98" y1="-2.31" x2="-16.95" y2="-2.93" stroke="#4e4e5e" stroke-width="0.5"/>
<line x1="-11.88" y1="-2.77" x2="-16.67" y2="-4.22" stroke="#4e4e5e" stroke-width="0.5"/>
<line x1="-11.24" y1="-4.75" x2="-15.97" y2="-6.39" stroke="#4e4e5e" stroke-width="0.5"/>
<line x1="-11.05" y1="-5.18" x2="-15.43" y2="-7.59" stroke="#4e4e5e" stroke-width="0.5"/>
<line x1="-10.01" y1="-6.98" x2="-14.29" y2="-9.57" stroke="#4e4e5e" stroke-width="0.5"/>
<line x1="-9.73" y1="-7.36" x2="-13.52" y2="-10.64" stroke="#4e4e5e" stroke-width="0.5"/>
<line x1="-8.34" y1="-8.91" x2="-11.99" y2="-12.33" stroke="#4e4e5e" stroke-width="0.5"/>
<line x1="-7.99" y1="-9.22" x2="-11.01" y2="-13.21" stroke="#4e4e5e" stroke-width="0.5"/>
<line x1="-6.30" y1="-10.45" x2="-9.17" y2="-14.55" stroke="#4e4e5e" stroke-width="0.5"/>
<line x1="-5.90" y1="-10.68" x2="-8.02" y2="-15.21" stroke="#4e4e5e" stroke-width="0.5"/>
<line x1="-3.99" y1="-11.53" x2="-5.94" y2="-16.14" stroke="#4e4e5e" stroke-width="0.5"/>
<line x1="-3.55" y1="-11.67" x2="-4.68" y2="-16.55" stroke="#4e4e5e" stroke-width="0.5"/>
<line x1="-1.51" y1="-12.11" x2="-2.45" y2="-17.02" stroke="#4e4e5e" stroke-width="0.5"/>
<line x1="-1.04" y1="-12.16" x2="-1.14" y2="-17.16" stroke="#4e4e5e" stroke-width="0.5"/>
<line x1="1.04" y1="-12.16" x2="1.14" y2="-17.16" stroke="#4e4e5e" stroke-width="0.5"/>
<line x1="1.51" y1="-12.11" x2="2.45" y2="-17.02" stroke="#4e4e5e" stroke-width="0.5"/>
<line x1="3.55" y1="-11.67" x2="4.68" y2="-16.55" stroke="#4e4e5e" stroke-width="0.5"/>
<line x1="3.99" y1="-11.53" x2="5.94" y2="-16.14" stroke="#4e4e5e" stroke-width="0.5"/>
<line x1="5.90" y1="-10.68" x2="8.02" y2="-15.21" stroke="#4e4e5e" stroke-width="0.5"/>
<line x1="6.30" y1="-10.45" x2="9.17" y2="-14.55" stroke="#4e4e5e" stroke-width="0.5"/>
<line x1="7.99" y1="-9.22" x2="11.01" y2="-13.21" stroke="#4e4e5e" stroke-width="0.5"/>
<line x1="8.34" y1="-8.91" x2="11.99" y2="-12.33" stroke="#4e4e5e" stroke-width="0.5"/>
<line x1="9.73" y1="-7.36" x2="13.52" y2="-10.64" stroke="#4e4e5e" stroke-width="0.5"/>
<line x1="10.01" y1="-6.98" x2="14.29" y2="-9.57" stroke="#4e4e5e" stroke-width="0.5"/>
<line x1="11.05" y1="-5.18" x2="15.43" y2="-7.59" stroke="#4e4e5e" stroke-width="0.5"/>
<line x1="11.24" y1="-4.75" x2="15.97" y2="-6.39" stroke="#4e4e5e" stroke-width="0.5"/>
<line x1="11.88" y1="-2.77" x2="16.67" y2="-4.22" stroke="#4e4e5e" stroke-width="0.5"/>
<line x1="11.98" y1="-2.31" x2="16.95" y2="-2.93" stroke="#4e4e5e" stroke-width="0.5"/>
<circle cx="0.00" cy="-25.30" r="1.95" fill="url(#gbead)" stroke="#22601f" stroke-width="0.45"/>
<circle cx="4.28" cy="-24.94" r="1.95" fill="url(#gbead)" stroke="#22601f" stroke-width="0.45"/>
<circle cx="8.43" cy="-23.85" r="1.95" fill="url(#gbead)" stroke="#22601f" stroke-width="0.45"/>
<circle cx="12.34" cy="-22.09" r="1.95" fill="url(#gbead)" stroke="#22601f" stroke-width="0.45"/>
<circle cx="15.89" cy="-19.68" r="1.95" fill="url(#gbead)" stroke="#22601f" stroke-width="0.45"/>
<circle cx="18.99" cy="-16.72" r="1.95" fill="url(#gbead)" stroke="#22601f" stroke-width="0.45"/>
<circle cx="21.54" cy="-13.26" r="1.95" fill="url(#pbead)" stroke="#8a2a6a" stroke-width="0.45"/>
<circle cx="23.48" cy="-9.43" r="1.95" fill="url(#gbead)" stroke="#22601f" stroke-width="0.45"/>
<circle cx="24.73" cy="-5.33" r="1.95" fill="url(#gbead)" stroke="#22601f" stroke-width="0.45"/>
<circle cx="25.28" cy="-1.07" r="1.95" fill="url(#gbead)" stroke="#22601f" stroke-width="0.45"/>
<circle cx="25.10" cy="3.21" r="1.95" fill="url(#gbead)" stroke="#22601f" stroke-width="0.45"/>
<circle cx="24.19" cy="7.41" r="1.95" fill="url(#gbead)" stroke="#22601f" stroke-width="0.45"/>
<circle cx="22.59" cy="11.39" r="1.95" fill="url(#gbead)" stroke="#22601f" stroke-width="0.45"/>
<circle cx="20.34" cy="15.04" r="1.95" fill="url(#gbead)" stroke="#22601f" stroke-width="0.45"/>
<circle cx="17.51" cy="18.27" r="1.95" fill="url(#pbead)" stroke="#8a2a6a" stroke-width="0.45"/>
<circle cx="14.17" cy="20.96" r="1.95" fill="url(#gbead)" stroke="#22601f" stroke-width="0.45"/>
<circle cx="10.42" cy="23.05" r="1.95" fill="url(#gbead)" stroke="#22601f" stroke-width="0.45"/>
<circle cx="6.38" cy="24.48" r="1.95" fill="url(#gbead)" stroke="#22601f" stroke-width="0.45"/>
<circle cx="2.15" cy="25.21" r="1.95" fill="url(#gbead)" stroke="#22601f" stroke-width="0.45"/>
<circle cx="-2.15" cy="25.21" r="1.95" fill="url(#gbead)" stroke="#22601f" stroke-width="0.45"/>
<circle cx="-6.38" cy="24.48" r="1.95" fill="url(#gbead)" stroke="#22601f" stroke-width="0.45"/>
<circle cx="-10.42" cy="23.05" r="1.95" fill="url(#gbead)" stroke="#22601f" stroke-width="0.45"/>
<circle cx="-14.17" cy="20.96" r="1.95" fill="url(#gbead)" stroke="#22601f" stroke-width="0.45"/>
<circle cx="-17.51" cy="18.27" r="1.95" fill="url(#gbead)" stroke="#22601f" stroke-width="0.45"/>
<circle cx="-20.34" cy="15.04" r="1.95" fill="url(#pbead)" stroke="#8a2a6a" stroke-width="0.45"/>
<circle cx="-22.59" cy="11.39" r="1.95" fill="url(#gbead)" stroke="#22601f" stroke-width="0.45"/>
<circle cx="-24.19" cy="7.41" r="1.95" fill="url(#gbead)" stroke="#22601f" stroke-width="0.45"/>
<circle cx="-25.10" cy="3.21" r="1.95" fill="url(#gbead)" stroke="#22601f" stroke-width="0.45"/>
<circle cx="-25.28" cy="-1.07" r="1.95" fill="url(#gbead)" stroke="#22601f" stroke-width="0.45"/>
<circle cx="-24.73" cy="-5.33" r="1.95" fill="url(#gbead)" stroke="#22601f" stroke-width="0.45"/>
<circle cx="-23.48" cy="-9.43" r="1.95" fill="url(#gbead)" stroke="#22601f" stroke-width="0.45"/>
<circle cx="-21.54" cy="-13.26" r="1.95" fill="url(#gbead)" stroke="#22601f" stroke-width="0.45"/>
<circle cx="-18.99" cy="-16.72" r="1.95" fill="url(#gbead)" stroke="#22601f" stroke-width="0.45"/>
<circle cx="-15.89" cy="-19.68" r="1.95" fill="url(#gbead)" stroke="#22601f" stroke-width="0.45"/>
<circle cx="-12.34" cy="-22.09" r="1.95" fill="url(#pbead)" stroke="#8a2a6a" stroke-width="0.45"/>
<circle cx="-8.43" cy="-23.85" r="1.95" fill="url(#gbead)" stroke="#22601f" stroke-width="0.45"/>
<circle cx="-4.28" cy="-24.94" r="1.95" fill="url(#gbead)" stroke="#22601f" stroke-width="0.45"/>
<circle cx="10.40" cy="0.00" r="1.85" fill="url(#gbead)" stroke="#22601f" stroke-width="0.45"/>
<circle cx="9.70" cy="3.76" r="1.85" fill="url(#gbead)" stroke="#22601f" stroke-width="0.45"/>
<circle cx="7.69" cy="7.01" r="1.85" fill="url(#gbead)" stroke="#22601f" stroke-width="0.45"/>
<circle cx="4.64" cy="9.31" r="1.85" fill="url(#gbead)" stroke="#22601f" stroke-width="0.45"/>
<circle cx="0.96" cy="10.36" r="1.85" fill="url(#gbead)" stroke="#22601f" stroke-width="0.45"/>
<circle cx="-2.85" cy="10.00" r="1.85" fill="url(#gbead)" stroke="#22601f" stroke-width="0.45"/>
<circle cx="-6.27" cy="8.30" r="1.85" fill="url(#gbead)" stroke="#22601f" stroke-width="0.45"/>
<circle cx="-8.84" cy="5.47" r="1.85" fill="url(#gbead)" stroke="#22601f" stroke-width="0.45"/>
<circle cx="-10.22" cy="1.91" r="1.85" fill="url(#gbead)" stroke="#22601f" stroke-width="0.45"/>
<circle cx="-10.22" cy="-1.91" r="1.85" fill="url(#gbead)" stroke="#22601f" stroke-width="0.45"/>
<circle cx="-8.84" cy="-5.47" r="1.85" fill="url(#gbead)" stroke="#22601f" stroke-width="0.45"/>
<circle cx="-6.27" cy="-8.30" r="1.85" fill="url(#gbead)" stroke="#22601f" stroke-width="0.45"/>
<circle cx="-2.85" cy="-10.00" r="1.85" fill="url(#gbead)" stroke="#22601f" stroke-width="0.45"/>
<circle cx="0.96" cy="-10.36" r="1.85" fill="url(#gbead)" stroke="#22601f" stroke-width="0.45"/>
<circle cx="4.64" cy="-9.31" r="1.85" fill="url(#gbead)" stroke="#22601f" stroke-width="0.45"/>
<circle cx="7.69" cy="-7.01" r="1.85" fill="url(#gbead)" stroke="#22601f" stroke-width="0.45"/>
<circle cx="9.70" cy="-3.76" r="1.85" fill="url(#gbead)" stroke="#22601f" stroke-width="0.45"/>
<line x1="0.20" y1="-29.10" x2="0.20" y2="-34.10" stroke="#666" stroke-width="0.45"/>
<line x1="0.20" y1="-34.10" x2="0.20" y2="-39.10" stroke="#666" stroke-width="0.45"/>
<line x1="0.20" y1="-34.10" x2="-5.00" y2="-39.00" stroke="#666" stroke-width="0.45"/>
<line x1="0.20" y1="-39.10" x2="-4.60" y2="-43.90" stroke="#666" stroke-width="0.45"/>
<circle cx="0.20" cy="-29.10" r="1.9" fill="#2b2a8f" stroke="#151550" stroke-width="0.3"/>
<circle cx="0.20" cy="-34.10" r="2.05" fill="#f5d90a" stroke="#9a8a10" stroke-width="0.3"/>
<rect x="-1.70" y="-41.00" width="3.8" height="3.8" fill="#f5d90a" stroke="#9a8a10" stroke-width="0.3"/>
<path d="M-5.00,-41.40L-2.60,-39.00L-5.00,-36.60L-7.40,-39.00Z" fill="#9b22a8" stroke="#5a1060" stroke-width="0.3"/>
<circle cx="-4.60" cy="-43.90" r="2.05" fill="#f5d90a" stroke="#9a8a10" stroke-width="0.3"/>
<line x1="-29.40" y1="0.30" x2="-34.20" y2="0.30" stroke="#666" stroke-width="0.45"/>
<line x1="-34.20" y1="0.30" x2="-39.30" y2="0.30" stroke="#666" stroke-width="0.45"/>
<line x1="-34.20" y1="0.30" x2="-39.10" y2="-4.80" stroke="#666" stroke-width="0.45"/>
<line x1="-39.30" y1="0.30" x2="-44.00" y2="-4.40" stroke="#666" stroke-width="0.45"/>
<circle cx="-29.40" cy="0.30" r="1.9" fill="#2b2a8f" stroke="#151550" stroke-width="0.3"/>
<circle cx="-34.20" cy="0.30" r="2.05" fill="#f5d90a" stroke="#9a8a10" stroke-width="0.3"/>
<rect x="-41.20" y="-1.60" width="3.8" height="3.8" fill="#f5d90a" stroke="#9a8a10" stroke-width="0.3"/>
<path d="M-39.10,-7.20L-36.70,-4.80L-39.10,-2.40L-41.50,-4.80Z" fill="#9b22a8" stroke="#5a1060" stroke-width="0.3"/>
<circle cx="-44.00" cy="-4.40" r="2.05" fill="#f5d90a" stroke="#9a8a10" stroke-width="0.3"/>
<line x1="26.90" y1="9.30" x2="31.50" y2="10.50" stroke="#666" stroke-width="0.45"/>
<line x1="31.50" y1="10.50" x2="36.50" y2="11.60" stroke="#666" stroke-width="0.45"/>
<line x1="31.50" y1="10.50" x2="36.90" y2="6.20" stroke="#666" stroke-width="0.45"/>
<line x1="36.50" y1="11.60" x2="42.30" y2="8.20" stroke="#666" stroke-width="0.45"/>
<circle cx="26.90" cy="9.30" r="1.9" fill="#2b2a8f" stroke="#151550" stroke-width="0.3"/>
<circle cx="31.50" cy="10.50" r="2.05" fill="#f5d90a" stroke="#9a8a10" stroke-width="0.3"/>
<rect x="34.60" y="9.70" width="3.8" height="3.8" fill="#f5d90a" stroke="#9a8a10" stroke-width="0.3"/>
<path d="M36.90,3.80L39.30,6.20L36.90,8.60L34.50,6.20Z" fill="#9b22a8" stroke="#5a1060" stroke-width="0.3"/>
<circle cx="42.30" cy="8.20" r="2.05" fill="#f5d90a" stroke="#9a8a10" stroke-width="0.3"/>
<line x1="4.20" y1="28.40" x2="4.20" y2="33.50" stroke="#666" stroke-width="0.45"/>
<line x1="4.20" y1="33.50" x2="4.20" y2="38.10" stroke="#666" stroke-width="0.45"/>
<line x1="4.20" y1="33.50" x2="9.10" y2="37.60" stroke="#666" stroke-width="0.45"/>
<line x1="4.20" y1="38.10" x2="8.80" y2="42.50" stroke="#666" stroke-width="0.45"/>
<circle cx="4.20" cy="28.40" r="1.9" fill="#2b2a8f" stroke="#151550" stroke-width="0.3"/>
<circle cx="4.20" cy="33.50" r="2.05" fill="#f5d90a" stroke="#9a8a10" stroke-width="0.3"/>
<rect x="2.30" y="36.20" width="3.8" height="3.8" fill="#f5d90a" stroke="#9a8a10" stroke-width="0.3"/>
<path d="M9.10,35.20L11.50,37.60L9.10,40.00L6.70,37.60Z" fill="#9b22a8" stroke="#5a1060" stroke-width="0.3"/>
<circle cx="8.80" cy="42.50" r="2.05" fill="#f5d90a" stroke="#9a8a10" stroke-width="0.3"/>
</g>
<text x="391.20" y="12.80" font-size="17.00" font-weight="bold" fill="#111" stroke="#111" stroke-width="0.20">b</text>
<rect x="422.90" y="7.60" width="248.50" height="17.60" fill="none" stroke="#9a9a9a" stroke-width="0.90"/>
<rect x="427.00" y="10.60" width="12.20" height="11.60" fill="#d4d4d4" stroke="#9a9a9a" stroke-width="0.90"/>
<text x="443.80" y="19.90" font-size="11.70" fill="#111" stroke="#111" stroke-width="0.20">Unstained</text>
<rect x="519.00" y="10.60" width="12.80" height="11.60" fill="#fff" stroke="#8a8a8a" stroke-width="0.90"/>
<text x="535.50" y="19.90" font-size="11.70" fill="#111" stroke="#111" stroke-width="0.20">Naked</text>
<rect x="584.00" y="10.60" width="12.20" height="11.60" fill="#f3a7a6" stroke="#e0302c" stroke-width="0.90"/>
<text x="601.90" y="19.90" font-size="11.75" fill="#111" stroke="#111" stroke-width="0.20">3 mol% GM1</text>
<path d="M424.00,60.70 L424.00,60.70 L424.50,60.70 L425.00,60.69 L425.50,60.69 L426.00,60.68 L426.50,60.66 L427.00,60.63 L427.50,60.58 L428.00,60.51 L428.50,60.40 L429.00,60.23 L429.50,59.99 L430.00,59.65 L430.50,59.18 L431.00,58.56 L431.50,57.75 L432.00,56.73 L432.50,55.50 L433.00,54.04 L433.50,52.39 L434.00,50.57 L434.50,48.65 L435.00,46.72 L435.50,44.87 L436.00,43.20 L436.50,41.82 L437.00,40.83 L437.50,40.29 L438.00,40.21 L438.50,40.35 L439.00,40.63 L439.50,41.06 L440.00,41.62 L440.50,42.31 L441.00,43.09 L441.50,43.97 L442.00,44.93 L442.50,45.94 L443.00,46.98 L443.50,48.05 L444.00,49.12 L444.50,50.18 L445.00,51.21 L445.50,52.21 L446.00,53.15 L446.50,54.04 L447.00,54.87 L447.50,55.64 L448.00,56.33 L448.50,56.96 L449.00,57.52 L449.50,58.02 L450.00,58.46 L450.50,58.84 L451.00,59.16 L451.50,59.44 L452.00,59.68 L452.50,59.87 L453.00,60.04 L453.50,60.17 L454.00,60.29 L454.50,60.38 L455.00,60.45 L455.50,60.51 L456.00,60.55 L456.50,60.59 L457.00,60.61 L457.50,60.64 L458.00,60.65 L458.50,60.66 L459.00,60.67 L459.50,60.68 L460.00,60.69 L460.50,60.69 L461.00,60.69 L461.50,60.70 L462.00,60.70 L462.50,60.70 L463.00,60.70 L463.50,60.70 L464.00,60.70 L464.50,60.70 L465.00,60.70 L465.50,60.70 L466.00,60.70 L466.50,60.70 L467.00,60.70 L467.50,60.70 L468.00,60.70 L468.50,60.70 L469.00,60.70 L469.50,60.70 L470.00,60.70 L470.50,60.70 L471.00,60.70 L471.50,60.70 L472.00,60.70 L472.50,60.70 L473.00,60.70 L473.50,60.70 L474.00,60.70 L474.50,60.70 L475.00,60.70 L475.50,60.70 L476.00,60.70 L476.50,60.70 L477.00,60.70 L477.50,60.70 L478.00,60.70 L478.50,60.70 L479.00,60.70 L479.50,60.70 L480.00,60.70 L480.50,60.70 L481.00,60.70 L481.50,60.70 L482.00,60.70 L482.50,60.70 L483.00,60.70 L483.50,60.70 L484.00,60.70 L484.50,60.70 L485.00,60.70 L485.50,60.70 L486.00,60.70 L486.50,60.70 L487.00,60.70 L487.50,60.70 L488.00,60.70 L488.50,60.70 L489.00,60.70 L489.50,60.70 L490.00,60.70 L490.50,60.70 L491.00,60.70 L491.50,60.70 L492.00,60.70 L492.50,60.70 L493.00,60.70 L493.50,60.70 L494.00,60.70 L494.50,60.70 L495.00,60.70 L495.50,60.70 L496.00,60.70 L496.50,60.70 L497.00,60.70 L497.50,60.70 L498.00,60.70 L498.50,60.70 L499.00,60.70 L499.50,60.70 L500.00,60.70 L500.50,60.70 L501.00,60.70 L501.50,60.70 L502.00,60.70 L502.50,60.70 L503.00,60.70 L503.50,60.70 L504.00,60.70 L504.50,60.70 L505.00,60.70 L505.50,60.70 L506.00,60.70 L506.50,60.70 L507.00,60.70 L507.50,60.70 L508.00,60.70 L508.50,60.70 L509.00,60.70 L509.50,60.70 L510.00,60.70 L510.50,60.70 L511.00,60.70 L511.50,60.70 L511.80,60.70 Z" fill="#eea5a3" stroke="none" stroke-width="0.00"/>
<path d="M424.00,60.70 L424.50,60.70 L425.00,60.69 L425.50,60.69 L426.00,60.68 L426.50,60.66 L427.00,60.63 L427.50,60.58 L428.00,60.51 L428.50,60.40 L429.00,60.23 L429.50,59.99 L430.00,59.65 L430.50,59.18 L431.00,58.56 L431.50,57.75 L432.00,56.73 L432.50,55.50 L433.00,54.04 L433.50,52.39 L434.00,50.57 L434.50,48.65 L435.00,46.72 L435.50,44.87 L436.00,43.20 L436.50,41.82 L437.00,40.83 L437.50,40.29 L438.00,40.21 L438.50,40.35 L439.00,40.63 L439.50,41.06 L440.00,41.62 L440.50,42.31 L441.00,43.09 L441.50,43.97 L442.00,44.93 L442.50,45.94 L443.00,46.98 L443.50,48.05 L444.00,49.12 L444.50,50.18 L445.00,51.21 L445.50,52.21 L446.00,53.15 L446.50,54.04 L447.00,54.87 L447.50,55.64 L448.00,56.33 L448.50,56.96 L449.00,57.52 L449.50,58.02 L450.00,58.46 L450.50,58.84 L451.00,59.16 L451.50,59.44 L452.00,59.68 L452.50,59.87 L453.00,60.04 L453.50,60.17 L454.00,60.29 L454.50,60.38 L455.00,60.45 L455.50,60.51 L456.00,60.55 L456.50,60.59 L457.00,60.61 L457.50,60.64 L458.00,60.65 L458.50,60.66 L459.00,60.67 L459.50,60.68 L460.00,60.69 L460.50,60.69 L461.00,60.69 L461.50,60.70 L462.00,60.70 L462.50,60.70 L463.00,60.70 L463.50,60.70 L464.00,60.70 L464.50,60.70 L465.00,60.70 L465.50,60.70 L466.00,60.70 L466.50,60.70 L467.00,60.70 L467.50,60.70 L468.00,60.70 L468.50,60.70 L469.00,60.70 L469.50,60.70 L470.00,60.70 L470.50,60.70 L471.00,60.70 L471.50,60.70 L472.00,60.70 L472.50,60.70 L473.00,60.70 L473.50,60.70 L474.00,60.70 L474.50,60.70 L475.00,60.70 L475.50,60.70 L476.00,60.70 L476.50,60.70 L477.00,60.70 L477.50,60.70 L478.00,60.70 L478.50,60.70 L479.00,60.70 L479.50,60.70 L480.00,60.70 L480.50,60.70 L481.00,60.70 L481.50,60.70 L482.00,60.70 L482.50,60.70 L483.00,60.70 L483.50,60.70 L484.00,60.70 L484.50,60.70 L485.00,60.70 L485.50,60.70 L486.00,60.70 L486.50,60.70 L487.00,60.70 L487.50,60.70 L488.00,60.70 L488.50,60.70 L489.00,60.70 L489.50,60.70 L490.00,60.70 L490.50,60.70 L491.00,60.70 L491.50,60.70 L492.00,60.70 L492.50,60.70 L493.00,60.70 L493.50,60.70 L494.00,60.70 L494.50,60.70 L495.00,60.70 L495.50,60.70 L496.00,60.70 L496.50,60.70 L497.00,60.70 L497.50,60.70 L498.00,60.70 L498.50,60.70 L499.00,60.70 L499.50,60.70 L500.00,60.70 L500.50,60.70 L501.00,60.70 L501.50,60.70 L502.00,60.70 L502.50,60.70 L503.00,60.70 L503.50,60.70 L504.00,60.70 L504.50,60.70 L505.00,60.70 L505.50,60.70 L506.00,60.70 L506.50,60.70 L507.00,60.70 L507.50,60.70 L508.00,60.70 L508.50,60.70 L509.00,60.70 L509.50,60.70 L510.00,60.70 L510.50,60.70 L511.00,60.70 L511.50,60.70" fill="none" stroke="#d8322e" stroke-width="0.90"/>
<path d="M424.00,60.70 L424.50,60.70 L425.00,60.70 L425.50,60.70 L426.00,60.69 L426.50,60.69 L427.00,60.68 L427.50,60.65 L428.00,60.61 L428.50,60.55 L429.00,60.43 L429.50,60.26 L430.00,59.98 L430.50,59.57 L431.00,58.99 L431.50,58.18 L432.00,57.12 L432.50,55.75 L433.00,54.09 L433.50,52.14 L434.00,49.96 L434.50,47.66 L435.00,45.36 L435.50,43.21 L436.00,41.40 L436.50,40.06 L437.00,39.32 L437.50,39.22 L438.00,39.41 L438.50,39.81 L439.00,40.41 L439.50,41.18 L440.00,42.12 L440.50,43.18 L441.00,44.35 L441.50,45.59 L442.00,46.88 L442.50,48.18 L443.00,49.47 L443.50,50.73 L444.00,51.94 L444.50,53.08 L445.00,54.13 L445.50,55.10 L446.00,55.97 L446.50,56.74 L447.00,57.43 L447.50,58.02 L448.00,58.52 L448.50,58.95 L449.00,59.31 L449.50,59.60 L450.00,59.85 L450.50,60.04 L451.00,60.20 L451.50,60.32 L452.00,60.41 L452.50,60.49 L453.00,60.54 L453.50,60.59 L454.00,60.62 L454.50,60.64 L455.00,60.66 L455.50,60.67 L456.00,60.68 L456.50,60.69 L457.00,60.69 L457.50,60.69 L458.00,60.70 L458.50,60.70 L459.00,60.70 L459.50,60.70 L460.00,60.70 L460.50,60.70 L461.00,60.70 L461.50,60.70 L462.00,60.70 L462.50,60.70 L463.00,60.70 L463.50,60.70 L464.00,60.70 L464.50,60.70 L465.00,60.70 L465.50,60.70 L466.00,60.70 L466.50,60.70 L467.00,60.70 L467.50,60.70 L468.00,60.70 L468.50,60.70 L469.00,60.70 L469.50,60.70 L470.00,60.70 L470.50,60.70 L471.00,60.70 L471.50,60.70 L472.00,60.70 L472.50,60.70 L473.00,60.70 L473.50,60.70 L474.00,60.70 L474.50,60.70 L475.00,60.70 L475.50,60.70 L476.00,60.70 L476.50,60.70 L477.00,60.70 L477.50,60.70 L478.00,60.70 L478.50,60.70 L479.00,60.70 L479.50,60.70 L480.00,60.70 L480.50,60.70 L481.00,60.70 L481.50,60.70 L482.00,60.70 L482.50,60.70 L483.00,60.70 L483.50,60.70 L484.00,60.70 L484.50,60.70 L485.00,60.70 L485.50,60.70 L486.00,60.70 L486.50,60.70 L487.00,60.70 L487.50,60.70 L488.00,60.70 L488.50,60.70 L489.00,60.70 L489.50,60.70 L490.00,60.70 L490.50,60.70 L491.00,60.70 L491.50,60.70 L492.00,60.70 L492.50,60.70 L493.00,60.70 L493.50,60.70 L494.00,60.70 L494.50,60.70 L495.00,60.70 L495.50,60.70 L496.00,60.70 L496.50,60.70 L497.00,60.70 L497.50,60.70 L498.00,60.70 L498.50,60.70 L499.00,60.70 L499.50,60.70 L500.00,60.70 L500.50,60.70 L501.00,60.70 L501.50,60.70 L502.00,60.70 L502.50,60.70 L503.00,60.70 L503.50,60.70 L504.00,60.70 L504.50,60.70 L505.00,60.70 L505.50,60.70 L506.00,60.70 L506.50,60.70 L507.00,60.70 L507.50,60.70 L508.00,60.70 L508.50,60.70 L509.00,60.70 L509.50,60.70 L510.00,60.70 L510.50,60.70 L511.00,60.70 L511.50,60.70" fill="none" stroke="#1a1a1a" stroke-width="0.90"/>
<line x1="423.50" y1="60.70" x2="511.80" y2="60.70" stroke="#d8322e" stroke-width="1.00"/>
<path d="M424.00,88.60 L424.00,88.60 L424.50,88.60 L425.00,88.60 L425.50,88.59 L426.00,88.59 L426.50,88.58 L427.00,88.56 L427.50,88.54 L428.00,88.51 L428.50,88.46 L429.00,88.39 L429.50,88.30 L430.00,88.16 L430.50,87.97 L431.00,87.72 L431.50,87.39 L432.00,86.96 L432.50,86.42 L433.00,85.75 L433.50,84.93 L434.00,83.97 L434.50,82.85 L435.00,81.58 L435.50,80.18 L436.00,78.68 L436.50,77.11 L437.00,75.51 L437.50,73.96 L438.00,72.49 L438.50,71.19 L439.00,70.10 L439.50,69.28 L440.00,68.77 L440.50,68.60 L441.00,68.67 L441.50,68.88 L442.00,69.22 L442.50,69.68 L443.00,70.26 L443.50,70.95 L444.00,71.73 L444.50,72.59 L445.00,73.50 L445.50,74.47 L446.00,75.46 L446.50,76.47 L447.00,77.48 L447.50,78.47 L448.00,79.44 L448.50,80.38 L449.00,81.27 L449.50,82.11 L450.00,82.89 L450.50,83.61 L451.00,84.27 L451.50,84.87 L452.00,85.41 L452.50,85.89 L453.00,86.32 L453.50,86.69 L454.00,87.01 L454.50,87.29 L455.00,87.52 L455.50,87.72 L456.00,87.89 L456.50,88.03 L457.00,88.14 L457.50,88.24 L458.00,88.32 L458.50,88.38 L459.00,88.43 L459.50,88.47 L460.00,88.50 L460.50,88.52 L461.00,88.54 L461.50,88.56 L462.00,88.57 L462.50,88.58 L463.00,88.58 L463.50,88.59 L464.00,88.59 L464.50,88.59 L465.00,88.60 L465.50,88.60 L466.00,88.60 L466.50,88.60 L467.00,88.60 L467.50,88.60 L468.00,88.60 L468.50,88.60 L469.00,88.60 L469.50,88.60 L470.00,88.60 L470.50,88.60 L471.00,88.60 L471.50,88.60 L472.00,88.60 L472.50,88.60 L473.00,88.60 L473.50,88.60 L474.00,88.60 L474.50,88.60 L475.00,88.60 L475.50,88.60 L476.00,88.60 L476.50,88.60 L477.00,88.60 L477.50,88.60 L478.00,88.60 L478.50,88.60 L479.00,88.60 L479.50,88.60 L480.00,88.60 L480.50,88.60 L481.00,88.60 L481.50,88.60 L482.00,88.60 L482.50,88.60 L483.00,88.60 L483.50,88.60 L484.00,88.60 L484.50,88.60 L485.00,88.60 L485.50,88.60 L486.00,88.60 L486.50,88.60 L487.00,88.60 L487.50,88.60 L488.00,88.60 L488.50,88.60 L489.00,88.60 L489.50,88.60 L490.00,88.60 L490.50,88.60 L491.00,88.60 L491.50,88.60 L492.00,88.60 L492.50,88.60 L493.00,88.60 L493.50,88.60 L494.00,88.60 L494.50,88.60 L495.00,88.60 L495.50,88.60 L496.00,88.60 L496.50,88.60 L497.00,88.60 L497.50,88.60 L498.00,88.60 L498.50,88.60 L499.00,88.60 L499.50,88.60 L500.00,88.60 L500.50,88.60 L501.00,88.60 L501.50,88.60 L502.00,88.60 L502.50,88.60 L503.00,88.60 L503.50,88.60 L504.00,88.60 L504.50,88.60 L505.00,88.60 L505.50,88.60 L506.00,88.60 L506.50,88.60 L507.00,88.60 L507.50,88.60 L508.00,88.60 L508.50,88.60 L509.00,88.60 L509.50,88.60 L510.00,88.60 L510.50,88.60 L511.00,88.60 L511.50,88.60 L511.80,88.60 Z" fill="#eea5a3" stroke="none" stroke-width="0.00"/>
<path d="M424.00,88.60 L424.50,88.60 L425.00,88.60 L425.50,88.59 L426.00,88.59 L426.50,88.58 L427.00,88.56 L427.50,88.54 L428.00,88.51 L428.50,88.46 L429.00,88.39 L429.50,88.30 L430.00,88.16 L430.50,87.97 L431.00,87.72 L431.50,87.39 L432.00,86.96 L432.50,86.42 L433.00,85.75 L433.50,84.93 L434.00,83.97 L434.50,82.85 L435.00,81.58 L435.50,80.18 L436.00,78.68 L436.50,77.11 L437.00,75.51 L437.50,73.96 L438.00,72.49 L438.50,71.19 L439.00,70.10 L439.50,69.28 L440.00,68.77 L440.50,68.60 L441.00,68.67 L441.50,68.88 L442.00,69.22 L442.50,69.68 L443.00,70.26 L443.50,70.95 L444.00,71.73 L444.50,72.59 L445.00,73.50 L445.50,74.47 L446.00,75.46 L446.50,76.47 L447.00,77.48 L447.50,78.47 L448.00,79.44 L448.50,80.38 L449.00,81.27 L449.50,82.11 L450.00,82.89 L450.50,83.61 L451.00,84.27 L451.50,84.87 L452.00,85.41 L452.50,85.89 L453.00,86.32 L453.50,86.69 L454.00,87.01 L454.50,87.29 L455.00,87.52 L455.50,87.72 L456.00,87.89 L456.50,88.03 L457.00,88.14 L457.50,88.24 L458.00,88.32 L458.50,88.38 L459.00,88.43 L459.50,88.47 L460.00,88.50 L460.50,88.52 L461.00,88.54 L461.50,88.56 L462.00,88.57 L462.50,88.58 L463.00,88.58 L463.50,88.59 L464.00,88.59 L464.50,88.59 L465.00,88.60 L465.50,88.60 L466.00,88.60 L466.50,88.60 L467.00,88.60 L467.50,88.60 L468.00,88.60 L468.50,88.60 L469.00,88.60 L469.50,88.60 L470.00,88.60 L470.50,88.60 L471.00,88.60 L471.50,88.60 L472.00,88.60 L472.50,88.60 L473.00,88.60 L473.50,88.60 L474.00,88.60 L474.50,88.60 L475.00,88.60 L475.50,88.60 L476.00,88.60 L476.50,88.60 L477.00,88.60 L477.50,88.60 L478.00,88.60 L478.50,88.60 L479.00,88.60 L479.50,88.60 L480.00,88.60 L480.50,88.60 L481.00,88.60 L481.50,88.60 L482.00,88.60 L482.50,88.60 L483.00,88.60 L483.50,88.60 L484.00,88.60 L484.50,88.60 L485.00,88.60 L485.50,88.60 L486.00,88.60 L486.50,88.60 L487.00,88.60 L487.50,88.60 L488.00,88.60 L488.50,88.60 L489.00,88.60 L489.50,88.60 L490.00,88.60 L490.50,88.60 L491.00,88.60 L491.50,88.60 L492.00,88.60 L492.50,88.60 L493.00,88.60 L493.50,88.60 L494.00,88.60 L494.50,88.60 L495.00,88.60 L495.50,88.60 L496.00,88.60 L496.50,88.60 L497.00,88.60 L497.50,88.60 L498.00,88.60 L498.50,88.60 L499.00,88.60 L499.50,88.60 L500.00,88.60 L500.50,88.60 L501.00,88.60 L501.50,88.60 L502.00,88.60 L502.50,88.60 L503.00,88.60 L503.50,88.60 L504.00,88.60 L504.50,88.60 L505.00,88.60 L505.50,88.60 L506.00,88.60 L506.50,88.60 L507.00,88.60 L507.50,88.60 L508.00,88.60 L508.50,88.60 L509.00,88.60 L509.50,88.60 L510.00,88.60 L510.50,88.60 L511.00,88.60 L511.50,88.60" fill="none" stroke="#d8322e" stroke-width="0.90"/>
<path d="M424.00,88.60 L424.50,88.60 L425.00,88.59 L425.50,88.59 L426.00,88.58 L426.50,88.56 L427.00,88.54 L427.50,88.49 L428.00,88.41 L428.50,88.29 L429.00,88.10 L429.50,87.82 L430.00,87.42 L430.50,86.87 L431.00,86.12 L431.50,85.15 L432.00,83.92 L432.50,82.44 L433.00,80.72 L433.50,78.78 L434.00,76.71 L434.50,74.59 L435.00,72.55 L435.50,70.71 L436.00,69.21 L436.50,68.16 L437.00,67.65 L437.50,67.64 L438.00,67.92 L438.50,68.42 L439.00,69.15 L439.50,70.07 L440.00,71.15 L440.50,72.36 L441.00,73.67 L441.50,75.03 L442.00,76.42 L442.50,77.79 L443.00,79.12 L443.50,80.38 L444.00,81.56 L444.50,82.64 L445.00,83.61 L445.50,84.48 L446.00,85.23 L446.50,85.88 L447.00,86.43 L447.50,86.89 L448.00,87.27 L448.50,87.57 L449.00,87.82 L449.50,88.01 L450.00,88.16 L450.50,88.28 L451.00,88.37 L451.50,88.43 L452.00,88.48 L452.50,88.52 L453.00,88.54 L453.50,88.56 L454.00,88.57 L454.50,88.58 L455.00,88.59 L455.50,88.59 L456.00,88.60 L456.50,88.60 L457.00,88.60 L457.50,88.60 L458.00,88.60 L458.50,88.60 L459.00,88.60 L459.50,88.60 L460.00,88.60 L460.50,88.60 L461.00,88.60 L461.50,88.60 L462.00,88.60 L462.50,88.60 L463.00,88.60 L463.50,88.60 L464.00,88.60 L464.50,88.60 L465.00,88.60 L465.50,88.60 L466.00,88.60 L466.50,88.60 L467.00,88.60 L467.50,88.60 L468.00,88.60 L468.50,88.60 L469.00,88.60 L469.50,88.60 L470.00,88.60 L470.50,88.60 L471.00,88.60 L471.50,88.60 L472.00,88.60 L472.50,88.60 L473.00,88.60 L473.50,88.60 L474.00,88.60 L474.50,88.60 L475.00,88.60 L475.50,88.60 L476.00,88.60 L476.50,88.60 L477.00,88.60 L477.50,88.60 L478.00,88.60 L478.50,88.60 L479.00,88.60 L479.50,88.60 L480.00,88.60 L480.50,88.60 L481.00,88.60 L481.50,88.60 L482.00,88.60 L482.50,88.60 L483.00,88.60 L483.50,88.60 L484.00,88.60 L484.50,88.60 L485.00,88.60 L485.50,88.60 L486.00,88.60 L486.50,88.60 L487.00,88.60 L487.50,88.60 L488.00,88.60 L488.50,88.60 L489.00,88.60 L489.50,88.60 L490.00,88.60 L490.50,88.60 L491.00,88.60 L491.50,88.60 L492.00,88.60 L492.50,88.60 L493.00,88.60 L493.50,88.60 L494.00,88.60 L494.50,88.60 L495.00,88.60 L495.50,88.60 L496.00,88.60 L496.50,88.60 L497.00,88.60 L497.50,88.60 L498.00,88.60 L498.50,88.60 L499.00,88.60 L499.50,88.60 L500.00,88.60 L500.50,88.60 L501.00,88.60 L501.50,88.60 L502.00,88.60 L502.50,88.60 L503.00,88.60 L503.50,88.60 L504.00,88.60 L504.50,88.60 L505.00,88.60 L505.50,88.60 L506.00,88.60 L506.50,88.60 L507.00,88.60 L507.50,88.60 L508.00,88.60 L508.50,88.60 L509.00,88.60 L509.50,88.60 L510.00,88.60 L510.50,88.60 L511.00,88.60 L511.50,88.60" fill="none" stroke="#1a1a1a" stroke-width="0.90"/>
<line x1="423.50" y1="88.60" x2="511.80" y2="88.60" stroke="#d8322e" stroke-width="1.00"/>
<path d="M424.00,116.50 L424.00,116.28 L424.50,116.25 L425.00,116.23 L425.50,116.20 L426.00,116.17 L426.50,116.13 L427.00,116.10 L427.50,116.06 L428.00,116.02 L428.50,115.98 L429.00,115.93 L429.50,115.88 L430.00,115.83 L430.50,115.77 L431.00,115.71 L431.50,115.65 L432.00,115.59 L432.50,115.52 L433.00,115.45 L433.50,115.37 L434.00,115.29 L434.50,115.21 L435.00,115.12 L435.50,115.02 L436.00,114.92 L436.50,114.82 L437.00,114.70 L437.50,114.58 L438.00,114.45 L438.50,114.32 L439.00,114.17 L439.50,114.01 L440.00,113.84 L440.50,113.65 L441.00,113.45 L441.50,113.24 L442.00,113.00 L442.50,112.75 L443.00,112.48 L443.50,112.19 L444.00,111.87 L444.50,111.53 L445.00,111.16 L445.50,110.76 L446.00,110.34 L446.50,109.90 L447.00,109.43 L447.50,108.93 L448.00,108.40 L448.50,107.85 L449.00,107.27 L449.50,106.67 L450.00,106.05 L450.50,105.40 L451.00,104.73 L451.50,104.05 L452.00,103.36 L452.50,102.65 L453.00,101.94 L453.50,101.23 L454.00,100.53 L454.50,99.84 L455.00,99.16 L455.50,98.51 L456.00,97.88 L456.50,97.28 L457.00,96.73 L457.50,96.22 L458.00,95.75 L458.50,95.35 L459.00,95.00 L459.50,94.71 L460.00,94.50 L460.50,94.35 L461.00,94.27 L461.50,94.26 L462.00,94.38 L462.50,94.67 L463.00,95.12 L463.50,95.72 L464.00,96.47 L464.50,97.34 L465.00,98.32 L465.50,99.38 L466.00,100.51 L466.50,101.68 L467.00,102.87 L467.50,104.07 L468.00,105.25 L468.50,106.40 L469.00,107.50 L469.50,108.55 L470.00,109.53 L470.50,110.44 L471.00,111.27 L471.50,112.02 L472.00,112.70 L472.50,113.30 L473.00,113.82 L473.50,114.28 L474.00,114.68 L474.50,115.01 L475.00,115.29 L475.50,115.53 L476.00,115.73 L476.50,115.89 L477.00,116.02 L477.50,116.13 L478.00,116.21 L478.50,116.28 L479.00,116.33 L479.50,116.37 L480.00,116.41 L480.50,116.43 L481.00,116.45 L481.50,116.46 L482.00,116.47 L482.50,116.48 L483.00,116.49 L483.50,116.49 L484.00,116.49 L484.50,116.50 L485.00,116.50 L485.50,116.50 L486.00,116.50 L486.50,116.50 L487.00,116.50 L487.50,116.50 L488.00,116.50 L488.50,116.50 L489.00,116.50 L489.50,116.50 L490.00,116.50 L490.50,116.50 L491.00,116.50 L491.50,116.50 L492.00,116.50 L492.50,116.50 L493.00,116.50 L493.50,116.50 L494.00,116.50 L494.50,116.50 L495.00,116.50 L495.50,116.50 L496.00,116.50 L496.50,116.50 L497.00,116.50 L497.50,116.50 L498.00,116.50 L498.50,116.50 L499.00,116.50 L499.50,116.50 L500.00,116.50 L500.50,116.50 L501.00,116.50 L501.50,116.50 L502.00,116.50 L502.50,116.50 L503.00,116.50 L503.50,116.50 L504.00,116.50 L504.50,116.50 L505.00,116.50 L505.50,116.50 L506.00,116.50 L506.50,116.50 L507.00,116.50 L507.50,116.50 L508.00,116.50 L508.50,116.50 L509.00,116.50 L509.50,116.50 L510.00,116.50 L510.50,116.50 L511.00,116.50 L511.50,116.50 L511.80,116.50 Z" fill="#eea5a3" stroke="none" stroke-width="0.00"/>
<path d="M424.00,116.28 L424.50,116.25 L425.00,116.23 L425.50,116.20 L426.00,116.17 L426.50,116.13 L427.00,116.10 L427.50,116.06 L428.00,116.02 L428.50,115.98 L429.00,115.93 L429.50,115.88 L430.00,115.83 L430.50,115.77 L431.00,115.71 L431.50,115.65 L432.00,115.59 L432.50,115.52 L433.00,115.45 L433.50,115.37 L434.00,115.29 L434.50,115.21 L435.00,115.12 L435.50,115.02 L436.00,114.92 L436.50,114.82 L437.00,114.70 L437.50,114.58 L438.00,114.45 L438.50,114.32 L439.00,114.17 L439.50,114.01 L440.00,113.84 L440.50,113.65 L441.00,113.45 L441.50,113.24 L442.00,113.00 L442.50,112.75 L443.00,112.48 L443.50,112.19 L444.00,111.87 L444.50,111.53 L445.00,111.16 L445.50,110.76 L446.00,110.34 L446.50,109.90 L447.00,109.43 L447.50,108.93 L448.00,108.40 L448.50,107.85 L449.00,107.27 L449.50,106.67 L450.00,106.05 L450.50,105.40 L451.00,104.73 L451.50,104.05 L452.00,103.36 L452.50,102.65 L453.00,101.94 L453.50,101.23 L454.00,100.53 L454.50,99.84 L455.00,99.16 L455.50,98.51 L456.00,97.88 L456.50,97.28 L457.00,96.73 L457.50,96.22 L458.00,95.75 L458.50,95.35 L459.00,95.00 L459.50,94.71 L460.00,94.50 L460.50,94.35 L461.00,94.27 L461.50,94.26 L462.00,94.38 L462.50,94.67 L463.00,95.12 L463.50,95.72 L464.00,96.47 L464.50,97.34 L465.00,98.32 L465.50,99.38 L466.00,100.51 L466.50,101.68 L467.00,102.87 L467.50,104.07 L468.00,105.25 L468.50,106.40 L469.00,107.50 L469.50,108.55 L470.00,109.53 L470.50,110.44 L471.00,111.27 L471.50,112.02 L472.00,112.70 L472.50,113.30 L473.00,113.82 L473.50,114.28 L474.00,114.68 L474.50,115.01 L475.00,115.29 L475.50,115.53 L476.00,115.73 L476.50,115.89 L477.00,116.02 L477.50,116.13 L478.00,116.21 L478.50,116.28 L479.00,116.33 L479.50,116.37 L480.00,116.41 L480.50,116.43 L481.00,116.45 L481.50,116.46 L482.00,116.47 L482.50,116.48 L483.00,116.49 L483.50,116.49 L484.00,116.49 L484.50,116.50 L485.00,116.50 L485.50,116.50 L486.00,116.50 L486.50,116.50 L487.00,116.50 L487.50,116.50 L488.00,116.50 L488.50,116.50 L489.00,116.50 L489.50,116.50 L490.00,116.50 L490.50,116.50 L491.00,116.50 L491.50,116.50 L492.00,116.50 L492.50,116.50 L493.00,116.50 L493.50,116.50 L494.00,116.50 L494.50,116.50 L495.00,116.50 L495.50,116.50 L496.00,116.50 L496.50,116.50 L497.00,116.50 L497.50,116.50 L498.00,116.50 L498.50,116.50 L499.00,116.50 L499.50,116.50 L500.00,116.50 L500.50,116.50 L501.00,116.50 L501.50,116.50 L502.00,116.50 L502.50,116.50 L503.00,116.50 L503.50,116.50 L504.00,116.50 L504.50,116.50 L505.00,116.50 L505.50,116.50 L506.00,116.50 L506.50,116.50 L507.00,116.50 L507.50,116.50 L508.00,116.50 L508.50,116.50 L509.00,116.50 L509.50,116.50 L510.00,116.50 L510.50,116.50 L511.00,116.50 L511.50,116.50" fill="none" stroke="#d8322e" stroke-width="0.90"/>
<path d="M424.00,116.50 L424.50,116.50 L425.00,116.49 L425.50,116.48 L426.00,116.47 L426.50,116.46 L427.00,116.43 L427.50,116.38 L428.00,116.31 L428.50,116.20 L429.00,116.05 L429.50,115.83 L430.00,115.53 L430.50,115.12 L431.00,114.58 L431.50,113.89 L432.00,113.01 L432.50,111.95 L433.00,110.69 L433.50,109.24 L434.00,107.63 L434.50,105.88 L435.00,104.07 L435.50,102.25 L436.00,100.52 L436.50,98.96 L437.00,97.67 L437.50,96.71 L438.00,96.14 L438.50,96.00 L439.00,96.17 L439.50,96.58 L440.00,97.20 L440.50,98.03 L441.00,99.03 L441.50,100.16 L442.00,101.41 L442.50,102.72 L443.00,104.07 L443.50,105.41 L444.00,106.73 L444.50,107.99 L445.00,109.18 L445.50,110.27 L446.00,111.26 L446.50,112.15 L447.00,112.93 L447.50,113.60 L448.00,114.18 L448.50,114.66 L449.00,115.06 L449.50,115.38 L450.00,115.65 L450.50,115.86 L451.00,116.02 L451.50,116.14 L452.00,116.24 L452.50,116.31 L453.00,116.37 L453.50,116.41 L454.00,116.43 L454.50,116.46 L455.00,116.47 L455.50,116.48 L456.00,116.49 L456.50,116.49 L457.00,116.49 L457.50,116.50 L458.00,116.50 L458.50,116.50 L459.00,116.50 L459.50,116.50 L460.00,116.50 L460.50,116.50 L461.00,116.50 L461.50,116.50 L462.00,116.50 L462.50,116.50 L463.00,116.50 L463.50,116.50 L464.00,116.50 L464.50,116.50 L465.00,116.50 L465.50,116.50 L466.00,116.50 L466.50,116.50 L467.00,116.50 L467.50,116.50 L468.00,116.50 L468.50,116.50 L469.00,116.50 L469.50,116.50 L470.00,116.50 L470.50,116.50 L471.00,116.50 L471.50,116.50 L472.00,116.50 L472.50,116.50 L473.00,116.50 L473.50,116.50 L474.00,116.50 L474.50,116.50 L475.00,116.50 L475.50,116.50 L476.00,116.50 L476.50,116.50 L477.00,116.50 L477.50,116.50 L478.00,116.50 L478.50,116.50 L479.00,116.50 L479.50,116.50 L480.00,116.50 L480.50,116.50 L481.00,116.50 L481.50,116.50 L482.00,116.50 L482.50,116.50 L483.00,116.50 L483.50,116.50 L484.00,116.50 L484.50,116.50 L485.00,116.50 L485.50,116.50 L486.00,116.50 L486.50,116.50 L487.00,116.50 L487.50,116.50 L488.00,116.50 L488.50,116.50 L489.00,116.50 L489.50,116.50 L490.00,116.50 L490.50,116.50 L491.00,116.50 L491.50,116.50 L492.00,116.50 L492.50,116.50 L493.00,116.50 L493.50,116.50 L494.00,116.50 L494.50,116.50 L495.00,116.50 L495.50,116.50 L496.00,116.50 L496.50,116.50 L497.00,116.50 L497.50,116.50 L498.00,116.50 L498.50,116.50 L499.00,116.50 L499.50,116.50 L500.00,116.50 L500.50,116.50 L501.00,116.50 L501.50,116.50 L502.00,116.50 L502.50,116.50 L503.00,116.50 L503.50,116.50 L504.00,116.50 L504.50,116.50 L505.00,116.50 L505.50,116.50 L506.00,116.50 L506.50,116.50 L507.00,116.50 L507.50,116.50 L508.00,116.50 L508.50,116.50 L509.00,116.50 L509.50,116.50 L510.00,116.50 L510.50,116.50 L511.00,116.50 L511.50,116.50" fill="none" stroke="#1a1a1a" stroke-width="0.90"/>
<line x1="423.50" y1="116.50" x2="511.80" y2="116.50" stroke="#d8322e" stroke-width="1.00"/>
<path d="M424.00,144.40 L424.00,144.40 L424.50,144.40 L425.00,144.40 L425.50,144.40 L426.00,144.40 L426.50,144.40 L427.00,144.40 L427.50,144.40 L428.00,144.40 L428.50,144.40 L429.00,144.40 L429.50,144.40 L430.00,144.40 L430.50,144.40 L431.00,144.40 L431.50,144.40 L432.00,144.40 L432.50,144.40 L433.00,144.40 L433.50,144.40 L434.00,144.40 L434.50,144.40 L435.00,144.40 L435.50,144.40 L436.00,144.40 L436.50,144.40 L437.00,144.40 L437.50,144.40 L438.00,144.40 L438.50,144.40 L439.00,144.39 L439.50,144.39 L440.00,144.39 L440.50,144.38 L441.00,144.38 L441.50,144.37 L442.00,144.37 L442.50,144.36 L443.00,144.34 L443.50,144.33 L444.00,144.31 L444.50,144.28 L445.00,144.25 L445.50,144.22 L446.00,144.17 L446.50,144.12 L447.00,144.05 L447.50,143.97 L448.00,143.88 L448.50,143.77 L449.00,143.64 L449.50,143.49 L450.00,143.31 L450.50,143.10 L451.00,142.87 L451.50,142.60 L452.00,142.29 L452.50,141.94 L453.00,141.55 L453.50,141.11 L454.00,140.63 L454.50,140.10 L455.00,139.52 L455.50,138.88 L456.00,138.20 L456.50,137.47 L457.00,136.69 L457.50,135.86 L458.00,135.00 L458.50,134.10 L459.00,133.17 L459.50,132.22 L460.00,131.26 L460.50,130.30 L461.00,129.34 L461.50,128.39 L462.00,127.48 L462.50,126.60 L463.00,125.77 L463.50,125.01 L464.00,124.31 L464.50,123.70 L465.00,123.17 L465.50,122.75 L466.00,122.43 L466.50,122.21 L467.00,122.11 L467.50,122.15 L468.00,122.43 L468.50,122.97 L469.00,123.74 L469.50,124.72 L470.00,125.87 L470.50,127.16 L471.00,128.55 L471.50,129.99 L472.00,131.46 L472.50,132.92 L473.00,134.33 L473.50,135.67 L474.00,136.92 L474.50,138.07 L475.00,139.10 L475.50,140.02 L476.00,140.82 L476.50,141.51 L477.00,142.09 L477.50,142.58 L478.00,142.98 L478.50,143.31 L479.00,143.57 L479.50,143.78 L480.00,143.94 L480.50,144.06 L481.00,144.15 L481.50,144.22 L482.00,144.27 L482.50,144.31 L483.00,144.34 L483.50,144.36 L484.00,144.37 L484.50,144.38 L485.00,144.39 L485.50,144.39 L486.00,144.39 L486.50,144.40 L487.00,144.40 L487.50,144.40 L488.00,144.40 L488.50,144.40 L489.00,144.40 L489.50,144.40 L490.00,144.40 L490.50,144.40 L491.00,144.40 L491.50,144.40 L492.00,144.40 L492.50,144.40 L493.00,144.40 L493.50,144.40 L494.00,144.40 L494.50,144.40 L495.00,144.40 L495.50,144.40 L496.00,144.40 L496.50,144.40 L497.00,144.40 L497.50,144.40 L498.00,144.40 L498.50,144.40 L499.00,144.40 L499.50,144.40 L500.00,144.40 L500.50,144.40 L501.00,144.40 L501.50,144.40 L502.00,144.40 L502.50,144.40 L503.00,144.40 L503.50,144.40 L504.00,144.40 L504.50,144.40 L505.00,144.40 L505.50,144.40 L506.00,144.40 L506.50,144.40 L507.00,144.40 L507.50,144.40 L508.00,144.40 L508.50,144.40 L509.00,144.40 L509.50,144.40 L510.00,144.40 L510.50,144.40 L511.00,144.40 L511.50,144.40 L511.80,144.40 Z" fill="#eea5a3" stroke="none" stroke-width="0.00"/>
<path d="M424.00,144.40 L424.50,144.40 L425.00,144.40 L425.50,144.40 L426.00,144.40 L426.50,144.40 L427.00,144.40 L427.50,144.40 L428.00,144.40 L428.50,144.40 L429.00,144.40 L429.50,144.40 L430.00,144.40 L430.50,144.40 L431.00,144.40 L431.50,144.40 L432.00,144.40 L432.50,144.40 L433.00,144.40 L433.50,144.40 L434.00,144.40 L434.50,144.40 L435.00,144.40 L435.50,144.40 L436.00,144.40 L436.50,144.40 L437.00,144.40 L437.50,144.40 L438.00,144.40 L438.50,144.40 L439.00,144.39 L439.50,144.39 L440.00,144.39 L440.50,144.38 L441.00,144.38 L441.50,144.37 L442.00,144.37 L442.50,144.36 L443.00,144.34 L443.50,144.33 L444.00,144.31 L444.50,144.28 L445.00,144.25 L445.50,144.22 L446.00,144.17 L446.50,144.12 L447.00,144.05 L447.50,143.97 L448.00,143.88 L448.50,143.77 L449.00,143.64 L449.50,143.49 L450.00,143.31 L450.50,143.10 L451.00,142.87 L451.50,142.60 L452.00,142.29 L452.50,141.94 L453.00,141.55 L453.50,141.11 L454.00,140.63 L454.50,140.10 L455.00,139.52 L455.50,138.88 L456.00,138.20 L456.50,137.47 L457.00,136.69 L457.50,135.86 L458.00,135.00 L458.50,134.10 L459.00,133.17 L459.50,132.22 L460.00,131.26 L460.50,130.30 L461.00,129.34 L461.50,128.39 L462.00,127.48 L462.50,126.60 L463.00,125.77 L463.50,125.01 L464.00,124.31 L464.50,123.70 L465.00,123.17 L465.50,122.75 L466.00,122.43 L466.50,122.21 L467.00,122.11 L467.50,122.15 L468.00,122.43 L468.50,122.97 L469.00,123.74 L469.50,124.72 L470.00,125.87 L470.50,127.16 L471.00,128.55 L471.50,129.99 L472.00,131.46 L472.50,132.92 L473.00,134.33 L473.50,135.67 L474.00,136.92 L474.50,138.07 L475.00,139.10 L475.50,140.02 L476.00,140.82 L476.50,141.51 L477.00,142.09 L477.50,142.58 L478.00,142.98 L478.50,143.31 L479.00,143.57 L479.50,143.78 L480.00,143.94 L480.50,144.06 L481.00,144.15 L481.50,144.22 L482.00,144.27 L482.50,144.31 L483.00,144.34 L483.50,144.36 L484.00,144.37 L484.50,144.38 L485.00,144.39 L485.50,144.39 L486.00,144.39 L486.50,144.40 L487.00,144.40 L487.50,144.40 L488.00,144.40 L488.50,144.40 L489.00,144.40 L489.50,144.40 L490.00,144.40 L490.50,144.40 L491.00,144.40 L491.50,144.40 L492.00,144.40 L492.50,144.40 L493.00,144.40 L493.50,144.40 L494.00,144.40 L494.50,144.40 L495.00,144.40 L495.50,144.40 L496.00,144.40 L496.50,144.40 L497.00,144.40 L497.50,144.40 L498.00,144.40 L498.50,144.40 L499.00,144.40 L499.50,144.40 L500.00,144.40 L500.50,144.40 L501.00,144.40 L501.50,144.40 L502.00,144.40 L502.50,144.40 L503.00,144.40 L503.50,144.40 L504.00,144.40 L504.50,144.40 L505.00,144.40 L505.50,144.40 L506.00,144.40 L506.50,144.40 L507.00,144.40 L507.50,144.40 L508.00,144.40 L508.50,144.40 L509.00,144.40 L509.50,144.40 L510.00,144.40 L510.50,144.40 L511.00,144.40 L511.50,144.40" fill="none" stroke="#d8322e" stroke-width="0.90"/>
<path d="M424.00,144.40 L424.50,144.40 L425.00,144.39 L425.50,144.39 L426.00,144.38 L426.50,144.36 L427.00,144.34 L427.50,144.30 L428.00,144.24 L428.50,144.14 L429.00,144.00 L429.50,143.80 L430.00,143.51 L430.50,143.11 L431.00,142.58 L431.50,141.89 L432.00,141.01 L432.50,139.92 L433.00,138.62 L433.50,137.11 L434.00,135.41 L434.50,133.58 L435.00,131.66 L435.50,129.75 L436.00,127.93 L436.50,126.30 L437.00,124.97 L437.50,124.01 L438.00,123.49 L438.50,123.42 L439.00,123.64 L439.50,124.10 L440.00,124.79 L440.50,125.67 L441.00,126.72 L441.50,127.91 L442.00,129.20 L442.50,130.56 L443.00,131.94 L443.50,133.32 L444.00,134.65 L444.50,135.93 L445.00,137.13 L445.50,138.23 L446.00,139.23 L446.50,140.11 L447.00,140.89 L447.50,141.56 L448.00,142.13 L448.50,142.60 L449.00,143.00 L449.50,143.32 L450.00,143.57 L450.50,143.78 L451.00,143.94 L451.50,144.06 L452.00,144.15 L452.50,144.22 L453.00,144.27 L453.50,144.31 L454.00,144.34 L454.50,144.36 L455.00,144.37 L455.50,144.38 L456.00,144.39 L456.50,144.39 L457.00,144.39 L457.50,144.40 L458.00,144.40 L458.50,144.40 L459.00,144.40 L459.50,144.40 L460.00,144.40 L460.50,144.40 L461.00,144.40 L461.50,144.40 L462.00,144.40 L462.50,144.40 L463.00,144.40 L463.50,144.40 L464.00,144.40 L464.50,144.40 L465.00,144.40 L465.50,144.40 L466.00,144.40 L466.50,144.40 L467.00,144.40 L467.50,144.40 L468.00,144.40 L468.50,144.40 L469.00,144.40 L469.50,144.40 L470.00,144.40 L470.50,144.40 L471.00,144.40 L471.50,144.40 L472.00,144.40 L472.50,144.40 L473.00,144.40 L473.50,144.40 L474.00,144.40 L474.50,144.40 L475.00,144.40 L475.50,144.40 L476.00,144.40 L476.50,144.40 L477.00,144.40 L477.50,144.40 L478.00,144.40 L478.50,144.40 L479.00,144.40 L479.50,144.40 L480.00,144.40 L480.50,144.40 L481.00,144.40 L481.50,144.40 L482.00,144.40 L482.50,144.40 L483.00,144.40 L483.50,144.40 L484.00,144.40 L484.50,144.40 L485.00,144.40 L485.50,144.40 L486.00,144.40 L486.50,144.40 L487.00,144.40 L487.50,144.40 L488.00,144.40 L488.50,144.40 L489.00,144.40 L489.50,144.40 L490.00,144.40 L490.50,144.40 L491.00,144.40 L491.50,144.40 L492.00,144.40 L492.50,144.40 L493.00,144.40 L493.50,144.40 L494.00,144.40 L494.50,144.40 L495.00,144.40 L495.50,144.40 L496.00,144.40 L496.50,144.40 L497.00,144.40 L497.50,144.40 L498.00,144.40 L498.50,144.40 L499.00,144.40 L499.50,144.40 L500.00,144.40 L500.50,144.40 L501.00,144.40 L501.50,144.40 L502.00,144.40 L502.50,144.40 L503.00,144.40 L503.50,144.40 L504.00,144.40 L504.50,144.40 L505.00,144.40 L505.50,144.40 L506.00,144.40 L506.50,144.40 L507.00,144.40 L507.50,144.40 L508.00,144.40 L508.50,144.40 L509.00,144.40 L509.50,144.40 L510.00,144.40 L510.50,144.40 L511.00,144.40 L511.50,144.40" fill="none" stroke="#1a1a1a" stroke-width="0.90"/>
<line x1="423.50" y1="144.40" x2="511.80" y2="144.40" stroke="#d8322e" stroke-width="1.00"/>
<path d="M424.00,172.40 L424.00,172.40 L424.50,172.40 L425.00,172.40 L425.50,172.40 L426.00,172.40 L426.50,172.40 L427.00,172.40 L427.50,172.40 L428.00,172.40 L428.50,172.40 L429.00,172.40 L429.50,172.40 L430.00,172.40 L430.50,172.40 L431.00,172.40 L431.50,172.40 L432.00,172.40 L432.50,172.40 L433.00,172.40 L433.50,172.40 L434.00,172.40 L434.50,172.40 L435.00,172.40 L435.50,172.40 L436.00,172.40 L436.50,172.40 L437.00,172.40 L437.50,172.40 L438.00,172.40 L438.50,172.40 L439.00,172.40 L439.50,172.39 L440.00,172.39 L440.50,172.39 L441.00,172.39 L441.50,172.38 L442.00,172.38 L442.50,172.37 L443.00,172.37 L443.50,172.36 L444.00,172.34 L444.50,172.33 L445.00,172.31 L445.50,172.28 L446.00,172.25 L446.50,172.22 L447.00,172.17 L447.50,172.12 L448.00,172.05 L448.50,171.97 L449.00,171.88 L449.50,171.77 L450.00,171.63 L450.50,171.48 L451.00,171.30 L451.50,171.09 L452.00,170.85 L452.50,170.58 L453.00,170.27 L453.50,169.92 L454.00,169.53 L454.50,169.09 L455.00,168.60 L455.50,168.06 L456.00,167.47 L456.50,166.83 L457.00,166.14 L457.50,165.40 L458.00,164.62 L458.50,163.79 L459.00,162.91 L459.50,162.01 L460.00,161.07 L460.50,160.11 L461.00,159.14 L461.50,158.17 L462.00,157.20 L462.50,156.25 L463.00,155.33 L463.50,154.44 L464.00,153.61 L464.50,152.83 L465.00,152.13 L465.50,151.51 L466.00,150.98 L466.50,150.55 L467.00,150.23 L467.50,150.01 L468.00,149.91 L468.50,149.95 L469.00,150.24 L469.50,150.78 L470.00,151.56 L470.50,152.54 L471.00,153.70 L471.50,155.00 L472.00,156.40 L472.50,157.86 L473.00,159.35 L473.50,160.81 L474.00,162.24 L474.50,163.59 L475.00,164.85 L475.50,166.01 L476.00,167.06 L476.50,167.98 L477.00,168.79 L477.50,169.49 L478.00,170.07 L478.50,170.57 L479.00,170.97 L479.50,171.30 L480.00,171.56 L480.50,171.77 L481.00,171.93 L481.50,172.06 L482.00,172.15 L482.50,172.22 L483.00,172.27 L483.50,172.31 L484.00,172.34 L484.50,172.36 L485.00,172.37 L485.50,172.38 L486.00,172.39 L486.50,172.39 L487.00,172.39 L487.50,172.40 L488.00,172.40 L488.50,172.40 L489.00,172.40 L489.50,172.40 L490.00,172.40 L490.50,172.40 L491.00,172.40 L491.50,172.40 L492.00,172.40 L492.50,172.40 L493.00,172.40 L493.50,172.40 L494.00,172.40 L494.50,172.40 L495.00,172.40 L495.50,172.40 L496.00,172.40 L496.50,172.40 L497.00,172.40 L497.50,172.40 L498.00,172.40 L498.50,172.40 L499.00,172.40 L499.50,172.40 L500.00,172.40 L500.50,172.40 L501.00,172.40 L501.50,172.40 L502.00,172.40 L502.50,172.40 L503.00,172.40 L503.50,172.40 L504.00,172.40 L504.50,172.40 L505.00,172.40 L505.50,172.40 L506.00,172.40 L506.50,172.40 L507.00,172.40 L507.50,172.40 L508.00,172.40 L508.50,172.40 L509.00,172.40 L509.50,172.40 L510.00,172.40 L510.50,172.40 L511.00,172.40 L511.50,172.40 L511.80,172.40 Z" fill="#eea5a3" stroke="none" stroke-width="0.00"/>
<path d="M424.00,172.40 L424.50,172.40 L425.00,172.40 L425.50,172.40 L426.00,172.40 L426.50,172.40 L427.00,172.40 L427.50,172.40 L428.00,172.40 L428.50,172.40 L429.00,172.40 L429.50,172.40 L430.00,172.40 L430.50,172.40 L431.00,172.40 L431.50,172.40 L432.00,172.40 L432.50,172.40 L433.00,172.40 L433.50,172.40 L434.00,172.40 L434.50,172.40 L435.00,172.40 L435.50,172.40 L436.00,172.40 L436.50,172.40 L437.00,172.40 L437.50,172.40 L438.00,172.40 L438.50,172.40 L439.00,172.40 L439.50,172.39 L440.00,172.39 L440.50,172.39 L441.00,172.39 L441.50,172.38 L442.00,172.38 L442.50,172.37 L443.00,172.37 L443.50,172.36 L444.00,172.34 L444.50,172.33 L445.00,172.31 L445.50,172.28 L446.00,172.25 L446.50,172.22 L447.00,172.17 L447.50,172.12 L448.00,172.05 L448.50,171.97 L449.00,171.88 L449.50,171.77 L450.00,171.63 L450.50,171.48 L451.00,171.30 L451.50,171.09 L452.00,170.85 L452.50,170.58 L453.00,170.27 L453.50,169.92 L454.00,169.53 L454.50,169.09 L455.00,168.60 L455.50,168.06 L456.00,167.47 L456.50,166.83 L457.00,166.14 L457.50,165.40 L458.00,164.62 L458.50,163.79 L459.00,162.91 L459.50,162.01 L460.00,161.07 L460.50,160.11 L461.00,159.14 L461.50,158.17 L462.00,157.20 L462.50,156.25 L463.00,155.33 L463.50,154.44 L464.00,153.61 L464.50,152.83 L465.00,152.13 L465.50,151.51 L466.00,150.98 L466.50,150.55 L467.00,150.23 L467.50,150.01 L468.00,149.91 L468.50,149.95 L469.00,150.24 L469.50,150.78 L470.00,151.56 L470.50,152.54 L471.00,153.70 L471.50,155.00 L472.00,156.40 L472.50,157.86 L473.00,159.35 L473.50,160.81 L474.00,162.24 L474.50,163.59 L475.00,164.85 L475.50,166.01 L476.00,167.06 L476.50,167.98 L477.00,168.79 L477.50,169.49 L478.00,170.07 L478.50,170.57 L479.00,170.97 L479.50,171.30 L480.00,171.56 L480.50,171.77 L481.00,171.93 L481.50,172.06 L482.00,172.15 L482.50,172.22 L483.00,172.27 L483.50,172.31 L484.00,172.34 L484.50,172.36 L485.00,172.37 L485.50,172.38 L486.00,172.39 L486.50,172.39 L487.00,172.39 L487.50,172.40 L488.00,172.40 L488.50,172.40 L489.00,172.40 L489.50,172.40 L490.00,172.40 L490.50,172.40 L491.00,172.40 L491.50,172.40 L492.00,172.40 L492.50,172.40 L493.00,172.40 L493.50,172.40 L494.00,172.40 L494.50,172.40 L495.00,172.40 L495.50,172.40 L496.00,172.40 L496.50,172.40 L497.00,172.40 L497.50,172.40 L498.00,172.40 L498.50,172.40 L499.00,172.40 L499.50,172.40 L500.00,172.40 L500.50,172.40 L501.00,172.40 L501.50,172.40 L502.00,172.40 L502.50,172.40 L503.00,172.40 L503.50,172.40 L504.00,172.40 L504.50,172.40 L505.00,172.40 L505.50,172.40 L506.00,172.40 L506.50,172.40 L507.00,172.40 L507.50,172.40 L508.00,172.40 L508.50,172.40 L509.00,172.40 L509.50,172.40 L510.00,172.40 L510.50,172.40 L511.00,172.40 L511.50,172.40" fill="none" stroke="#d8322e" stroke-width="0.90"/>
<path d="M424.00,172.40 L424.50,172.40 L425.00,172.40 L425.50,172.40 L426.00,172.40 L426.50,172.40 L427.00,172.39 L427.50,172.39 L428.00,172.38 L428.50,172.36 L429.00,172.34 L429.50,172.30 L430.00,172.25 L430.50,172.16 L431.00,172.04 L431.50,171.87 L432.00,171.63 L432.50,171.30 L433.00,170.87 L433.50,170.31 L434.00,169.60 L434.50,168.73 L435.00,167.68 L435.50,166.45 L436.00,165.05 L436.50,163.49 L437.00,161.82 L437.50,160.07 L438.00,158.31 L438.50,156.59 L439.00,154.97 L439.50,153.51 L440.00,152.26 L440.50,151.24 L441.00,150.47 L441.50,150.14 L442.00,150.30 L442.50,150.82 L443.00,151.57 L443.50,152.37 L444.00,153.12 L444.50,153.71 L445.00,154.14 L445.50,154.43 L446.00,154.64 L446.50,154.86 L447.00,155.19 L447.50,155.66 L448.00,156.19 L448.50,156.81 L449.00,157.53 L449.50,158.36 L450.00,159.29 L450.50,160.30 L451.00,161.37 L451.50,162.47 L452.00,163.57 L452.50,164.65 L453.00,165.69 L453.50,166.66 L454.00,167.55 L454.50,168.36 L455.00,169.08 L455.50,169.70 L456.00,170.23 L456.50,170.69 L457.00,171.06 L457.50,171.37 L458.00,171.61 L458.50,171.81 L459.00,171.96 L459.50,172.08 L460.00,172.17 L460.50,172.23 L461.00,172.28 L461.50,172.32 L462.00,172.34 L462.50,172.36 L463.00,172.37 L463.50,172.38 L464.00,172.39 L464.50,172.39 L465.00,172.40 L465.50,172.40 L466.00,172.40 L466.50,172.40 L467.00,172.40 L467.50,172.40 L468.00,172.40 L468.50,172.40 L469.00,172.40 L469.50,172.40 L470.00,172.40 L470.50,172.40 L471.00,172.40 L471.50,172.40 L472.00,172.40 L472.50,172.40 L473.00,172.40 L473.50,172.40 L474.00,172.40 L474.50,172.40 L475.00,172.40 L475.50,172.40 L476.00,172.40 L476.50,172.40 L477.00,172.40 L477.50,172.40 L478.00,172.40 L478.50,172.40 L479.00,172.40 L479.50,172.40 L480.00,172.40 L480.50,172.40 L481.00,172.40 L481.50,172.40 L482.00,172.40 L482.50,172.40 L483.00,172.40 L483.50,172.40 L484.00,172.40 L484.50,172.40 L485.00,172.40 L485.50,172.40 L486.00,172.40 L486.50,172.40 L487.00,172.40 L487.50,172.40 L488.00,172.40 L488.50,172.40 L489.00,172.40 L489.50,172.40 L490.00,172.40 L490.50,172.40 L491.00,172.40 L491.50,172.40 L492.00,172.40 L492.50,172.40 L493.00,172.40 L493.50,172.40 L494.00,172.40 L494.50,172.40 L495.00,172.40 L495.50,172.40 L496.00,172.40 L496.50,172.40 L497.00,172.40 L497.50,172.40 L498.00,172.40 L498.50,172.40 L499.00,172.40 L499.50,172.40 L500.00,172.40 L500.50,172.40 L501.00,172.40 L501.50,172.40 L502.00,172.40 L502.50,172.40 L503.00,172.40 L503.50,172.40 L504.00,172.40 L504.50,172.40 L505.00,172.40 L505.50,172.40 L506.00,172.40 L506.50,172.40 L507.00,172.40 L507.50,172.40 L508.00,172.40 L508.50,172.40 L509.00,172.40 L509.50,172.40 L510.00,172.40 L510.50,172.40 L511.00,172.40 L511.50,172.40" fill="none" stroke="#1a1a1a" stroke-width="0.90"/>
<line x1="423.50" y1="172.40" x2="511.80" y2="172.40" stroke="#d8322e" stroke-width="1.00"/>
<path d="M424,184.30 L424.00,184.30 L424.50,184.30 L425.00,184.30 L425.50,184.30 L426.00,184.30 L426.50,184.29 L427.00,184.29 L427.50,184.27 L428.00,184.25 L428.50,184.20 L429.00,184.12 L429.50,183.98 L430.00,183.76 L430.50,183.41 L431.00,182.88 L431.50,182.13 L432.00,181.11 L432.50,179.76 L433.00,178.08 L433.50,176.10 L434.00,173.87 L434.50,171.51 L435.00,169.20 L435.50,167.11 L436.00,165.45 L436.50,164.37 L437.00,164.00 L437.50,164.19 L438.00,164.77 L438.50,165.69 L439.00,166.90 L439.50,168.35 L440.00,169.96 L440.50,171.65 L441.00,173.35 L441.50,175.01 L442.00,176.56 L442.50,177.98 L443.00,179.24 L443.50,180.32 L444.00,181.23 L444.50,181.98 L445.00,182.58 L445.50,183.05 L446.00,183.41 L446.50,183.68 L447.00,183.87 L447.50,184.01 L448.00,184.11 L448.50,184.18 L449.00,184.22 L449.50,184.25 L450.00,184.27 L450.50,184.28 L451.00,184.29 L451.50,184.29 L452.00,184.30 L452.50,184.30 L453.00,184.30 L453.50,184.30 L454.00,184.30 L454.50,184.30 L455.00,184.30 L455.50,184.30 L456.00,184.30 L456.50,184.30 L457.00,184.30 L457.50,184.30 L458.00,184.30 L458.50,184.30 L459.00,184.30 L459.50,184.30 L460.00,184.30 L460,184.30 Z" fill="#dcdcdc" stroke="#b8b8b8" stroke-width="0.60"/>
<line x1="423.30" y1="39.00" x2="423.30" y2="185.80" stroke="#7a7a7a" stroke-width="1.30"/>
<line x1="422.70" y1="185.10" x2="512.60" y2="185.10" stroke="#8a8a8a" stroke-width="1.40"/>
<line x1="426.30" y1="185.80" x2="426.30" y2="189.00" stroke="#222" stroke-width="0.80"/>
<line x1="428.50" y1="185.80" x2="428.50" y2="189.00" stroke="#222" stroke-width="0.80"/>
<line x1="430.20" y1="185.80" x2="430.20" y2="189.00" stroke="#222" stroke-width="0.80"/>
<line x1="431.50" y1="185.80" x2="431.50" y2="189.00" stroke="#222" stroke-width="0.80"/>
<line x1="432.60" y1="185.80" x2="432.60" y2="189.00" stroke="#222" stroke-width="0.80"/>
<line x1="433.60" y1="185.80" x2="433.60" y2="189.00" stroke="#222" stroke-width="0.80"/>
<line x1="434.50" y1="185.80" x2="434.50" y2="189.00" stroke="#222" stroke-width="0.80"/>
<line x1="435.30" y1="185.80" x2="435.30" y2="189.00" stroke="#222" stroke-width="0.80"/>
<line x1="436.20" y1="185.80" x2="436.20" y2="189.00" stroke="#222" stroke-width="0.80"/>
<line x1="437.20" y1="185.80" x2="437.20" y2="189.00" stroke="#222" stroke-width="0.80"/>
<line x1="438.50" y1="185.80" x2="438.50" y2="189.00" stroke="#222" stroke-width="0.80"/>
<line x1="440.20" y1="185.80" x2="440.20" y2="189.00" stroke="#222" stroke-width="0.80"/>
<line x1="442.20" y1="185.80" x2="442.20" y2="189.00" stroke="#222" stroke-width="0.80"/>
<line x1="463.00" y1="185.80" x2="463.00" y2="189.30" stroke="#666" stroke-width="0.90"/>
<line x1="448.67" y1="185.80" x2="448.67" y2="188.00" stroke="#888" stroke-width="0.70"/>
<line x1="452.28" y1="185.80" x2="452.28" y2="188.00" stroke="#888" stroke-width="0.70"/>
<line x1="454.84" y1="185.80" x2="454.84" y2="188.00" stroke="#888" stroke-width="0.70"/>
<line x1="456.83" y1="185.80" x2="456.83" y2="188.00" stroke="#888" stroke-width="0.70"/>
<line x1="458.45" y1="185.80" x2="458.45" y2="188.00" stroke="#888" stroke-width="0.70"/>
<line x1="459.82" y1="185.80" x2="459.82" y2="188.00" stroke="#888" stroke-width="0.70"/>
<line x1="461.01" y1="185.80" x2="461.01" y2="188.00" stroke="#888" stroke-width="0.70"/>
<line x1="462.06" y1="185.80" x2="462.06" y2="188.00" stroke="#888" stroke-width="0.70"/>
<line x1="483.50" y1="185.80" x2="483.50" y2="189.30" stroke="#666" stroke-width="0.90"/>
<line x1="469.17" y1="185.80" x2="469.17" y2="188.00" stroke="#888" stroke-width="0.70"/>
<line x1="472.78" y1="185.80" x2="472.78" y2="188.00" stroke="#888" stroke-width="0.70"/>
<line x1="475.34" y1="185.80" x2="475.34" y2="188.00" stroke="#888" stroke-width="0.70"/>
<line x1="477.33" y1="185.80" x2="477.33" y2="188.00" stroke="#888" stroke-width="0.70"/>
<line x1="478.95" y1="185.80" x2="478.95" y2="188.00" stroke="#888" stroke-width="0.70"/>
<line x1="480.32" y1="185.80" x2="480.32" y2="188.00" stroke="#888" stroke-width="0.70"/>
<line x1="481.51" y1="185.80" x2="481.51" y2="188.00" stroke="#888" stroke-width="0.70"/>
<line x1="482.56" y1="185.80" x2="482.56" y2="188.00" stroke="#888" stroke-width="0.70"/>
<line x1="504.00" y1="185.80" x2="504.00" y2="189.30" stroke="#666" stroke-width="0.90"/>
<line x1="489.67" y1="185.80" x2="489.67" y2="188.00" stroke="#888" stroke-width="0.70"/>
<line x1="493.28" y1="185.80" x2="493.28" y2="188.00" stroke="#888" stroke-width="0.70"/>
<line x1="495.84" y1="185.80" x2="495.84" y2="188.00" stroke="#888" stroke-width="0.70"/>
<line x1="497.83" y1="185.80" x2="497.83" y2="188.00" stroke="#888" stroke-width="0.70"/>
<line x1="499.45" y1="185.80" x2="499.45" y2="188.00" stroke="#888" stroke-width="0.70"/>
<line x1="500.82" y1="185.80" x2="500.82" y2="188.00" stroke="#888" stroke-width="0.70"/>
<line x1="502.01" y1="185.80" x2="502.01" y2="188.00" stroke="#888" stroke-width="0.70"/>
<line x1="503.06" y1="185.80" x2="503.06" y2="188.00" stroke="#888" stroke-width="0.70"/>
<text x="435.30" y="203.40" font-size="11.00" text-anchor="middle" fill="#111" stroke="#111" stroke-width="0.20">0</text>
<text x="456.00" y="203.40" font-size="11.00" fill="#111" stroke="#111" stroke-width="0.20">10<tspan dy="-3.6" font-size="7.5">3</tspan></text>
<text x="476.40" y="203.40" font-size="11.00" fill="#111" stroke="#111" stroke-width="0.20">10<tspan dy="-3.6" font-size="7.5">4</tspan></text>
<text x="496.40" y="203.40" font-size="11.00" fill="#111" stroke="#111" stroke-width="0.20">10<tspan dy="-3.6" font-size="7.5">5</tspan></text>
<text x="476.00" y="43.90" font-size="11.60" font-weight="bold" fill="#111" stroke="#111" stroke-width="0.20">% PEG</text>
<text x="511.20" y="59.60" font-size="11.40" text-anchor="end" fill="#111" stroke="#111" stroke-width="0.20">5%</text>
<text x="511.20" y="87.50" font-size="11.40" text-anchor="end" fill="#111" stroke="#111" stroke-width="0.20">2%</text>
<text x="511.20" y="115.40" font-size="11.40" text-anchor="end" fill="#111" stroke="#111" stroke-width="0.20">1%</text>
<text x="511.20" y="143.30" font-size="11.40" text-anchor="end" fill="#111" stroke="#111" stroke-width="0.20">0.5%</text>
<text x="511.20" y="171.30" font-size="11.40" text-anchor="end" fill="#111" stroke="#111" stroke-width="0.20">0.2%</text>
<text transform="translate(416.90,171.00) rotate(-90)" font-size="14.00" fill="#111" stroke="#111" stroke-width="0.20"><tspan font-weight="bold"># of Cells</tspan> (% Max)</text>
<text x="470.70" y="224.80" font-size="14.00" font-weight="bold" text-anchor="middle" fill="#111" stroke="#111" stroke-width="0.20">Liposome Binding</text>
<text x="472.40" y="242.20" font-size="14.00" text-anchor="middle" fill="#111" stroke="#111" stroke-width="0.20">(AF647)</text>
<rect x="582.50" y="53.70" width="25.00" height="7.80" fill="#f2a39b" stroke="#5e4a4a" stroke-width="0.80"/>
<ellipse cx="607.30" cy="57.70" rx="2.0" ry="3.9" fill="#444" fill-opacity="0.5" stroke="none"/>
<ellipse cx="606.70" cy="57.70" rx="2.0" ry="3.9" fill="none" stroke="#111" stroke-width="0.55"/>
<ellipse cx="607.10" cy="57.70" rx="2.0" ry="3.9" fill="none" stroke="#111" stroke-width="0.55"/>
<ellipse cx="607.50" cy="57.70" rx="2.0" ry="3.9" fill="none" stroke="#111" stroke-width="0.55"/>
<ellipse cx="607.90" cy="57.70" rx="2.0" ry="3.9" fill="none" stroke="#111" stroke-width="0.55"/>
<rect x="582.50" y="66.40" width="22.90" height="8.40" fill="#fff" stroke="#6a6a6a" stroke-width="0.80"/>
<ellipse cx="605.20" cy="70.40" rx="2.0" ry="3.9" fill="#444" fill-opacity="0.5" stroke="none"/>
<ellipse cx="604.60" cy="70.40" rx="2.0" ry="3.9" fill="none" stroke="#111" stroke-width="0.55"/>
<ellipse cx="605.00" cy="70.40" rx="2.0" ry="3.9" fill="none" stroke="#111" stroke-width="0.55"/>
<ellipse cx="605.40" cy="70.40" rx="2.0" ry="3.9" fill="none" stroke="#111" stroke-width="0.55"/>
<ellipse cx="605.80" cy="70.40" rx="2.0" ry="3.9" fill="none" stroke="#111" stroke-width="0.55"/>
<rect x="582.50" y="80.20" width="29.10" height="7.80" fill="#f2a39b" stroke="#5e4a4a" stroke-width="0.80"/>
<ellipse cx="611.40" cy="84.20" rx="2.0" ry="3.9" fill="#444" fill-opacity="0.5" stroke="none"/>
<ellipse cx="610.80" cy="84.20" rx="2.0" ry="3.9" fill="none" stroke="#111" stroke-width="0.55"/>
<ellipse cx="611.20" cy="84.20" rx="2.0" ry="3.9" fill="none" stroke="#111" stroke-width="0.55"/>
<ellipse cx="611.60" cy="84.20" rx="2.0" ry="3.9" fill="none" stroke="#111" stroke-width="0.55"/>
<ellipse cx="612.00" cy="84.20" rx="2.0" ry="3.9" fill="none" stroke="#111" stroke-width="0.55"/>
<rect x="582.50" y="93.60" width="22.40" height="8.40" fill="#fff" stroke="#6a6a6a" stroke-width="0.80"/>
<ellipse cx="604.70" cy="97.60" rx="2.0" ry="3.9" fill="#444" fill-opacity="0.5" stroke="none"/>
<ellipse cx="604.10" cy="97.60" rx="2.0" ry="3.9" fill="none" stroke="#111" stroke-width="0.55"/>
<ellipse cx="604.50" cy="97.60" rx="2.0" ry="3.9" fill="none" stroke="#111" stroke-width="0.55"/>
<ellipse cx="604.90" cy="97.60" rx="2.0" ry="3.9" fill="none" stroke="#111" stroke-width="0.55"/>
<ellipse cx="605.30" cy="97.60" rx="2.0" ry="3.9" fill="none" stroke="#111" stroke-width="0.55"/>
<rect x="582.50" y="106.70" width="51.90" height="7.80" fill="#f2a39b" stroke="#5e4a4a" stroke-width="0.80"/>
<ellipse cx="634.20" cy="110.70" rx="2.0" ry="3.9" fill="#444" fill-opacity="0.5" stroke="none"/>
<ellipse cx="633.60" cy="110.70" rx="2.0" ry="3.9" fill="none" stroke="#111" stroke-width="0.55"/>
<ellipse cx="634.00" cy="110.70" rx="2.0" ry="3.9" fill="none" stroke="#111" stroke-width="0.55"/>
<ellipse cx="634.40" cy="110.70" rx="2.0" ry="3.9" fill="none" stroke="#111" stroke-width="0.55"/>
<ellipse cx="634.80" cy="110.70" rx="2.0" ry="3.9" fill="none" stroke="#111" stroke-width="0.55"/>
<rect x="582.50" y="119.40" width="22.90" height="8.40" fill="#fff" stroke="#6a6a6a" stroke-width="0.80"/>
<ellipse cx="605.20" cy="123.40" rx="2.0" ry="3.9" fill="#444" fill-opacity="0.5" stroke="none"/>
<ellipse cx="604.60" cy="123.40" rx="2.0" ry="3.9" fill="none" stroke="#111" stroke-width="0.55"/>
<ellipse cx="605.00" cy="123.40" rx="2.0" ry="3.9" fill="none" stroke="#111" stroke-width="0.55"/>
<ellipse cx="605.40" cy="123.40" rx="2.0" ry="3.9" fill="none" stroke="#111" stroke-width="0.55"/>
<ellipse cx="605.80" cy="123.40" rx="2.0" ry="3.9" fill="none" stroke="#111" stroke-width="0.55"/>
<rect x="582.50" y="133.60" width="62.40" height="7.80" fill="#f2a39b" stroke="#5e4a4a" stroke-width="0.80"/>
<ellipse cx="644.70" cy="137.60" rx="2.0" ry="3.9" fill="#444" fill-opacity="0.5" stroke="none"/>
<ellipse cx="644.10" cy="137.60" rx="2.0" ry="3.9" fill="none" stroke="#111" stroke-width="0.55"/>
<ellipse cx="644.50" cy="137.60" rx="2.0" ry="3.9" fill="none" stroke="#111" stroke-width="0.55"/>
<ellipse cx="644.90" cy="137.60" rx="2.0" ry="3.9" fill="none" stroke="#111" stroke-width="0.55"/>
<ellipse cx="645.30" cy="137.60" rx="2.0" ry="3.9" fill="none" stroke="#111" stroke-width="0.55"/>
<rect x="582.50" y="146.40" width="23.80" height="8.40" fill="#fff" stroke="#6a6a6a" stroke-width="0.80"/>
<ellipse cx="606.10" cy="150.40" rx="2.0" ry="3.9" fill="#444" fill-opacity="0.5" stroke="none"/>
<ellipse cx="605.50" cy="150.40" rx="2.0" ry="3.9" fill="none" stroke="#111" stroke-width="0.55"/>
<ellipse cx="605.90" cy="150.40" rx="2.0" ry="3.9" fill="none" stroke="#111" stroke-width="0.55"/>
<ellipse cx="606.30" cy="150.40" rx="2.0" ry="3.9" fill="none" stroke="#111" stroke-width="0.55"/>
<ellipse cx="606.70" cy="150.40" rx="2.0" ry="3.9" fill="none" stroke="#111" stroke-width="0.55"/>
<rect x="582.50" y="159.80" width="63.20" height="7.80" fill="#f2a39b" stroke="#5e4a4a" stroke-width="0.80"/>
<ellipse cx="645.50" cy="163.80" rx="2.0" ry="3.9" fill="#444" fill-opacity="0.5" stroke="none"/>
<ellipse cx="644.90" cy="163.80" rx="2.0" ry="3.9" fill="none" stroke="#111" stroke-width="0.55"/>
<ellipse cx="645.30" cy="163.80" rx="2.0" ry="3.9" fill="none" stroke="#111" stroke-width="0.55"/>
<ellipse cx="645.70" cy="163.80" rx="2.0" ry="3.9" fill="none" stroke="#111" stroke-width="0.55"/>
<ellipse cx="646.10" cy="163.80" rx="2.0" ry="3.9" fill="none" stroke="#111" stroke-width="0.55"/>
<rect x="582.50" y="173.10" width="28.70" height="8.40" fill="#fff" stroke="#6a6a6a" stroke-width="0.80"/>
<ellipse cx="611.00" cy="177.10" rx="2.0" ry="3.9" fill="#444" fill-opacity="0.5" stroke="none"/>
<ellipse cx="610.40" cy="177.10" rx="2.0" ry="3.9" fill="none" stroke="#111" stroke-width="0.55"/>
<ellipse cx="610.80" cy="177.10" rx="2.0" ry="3.9" fill="none" stroke="#111" stroke-width="0.55"/>
<ellipse cx="611.20" cy="177.10" rx="2.0" ry="3.9" fill="none" stroke="#111" stroke-width="0.55"/>
<ellipse cx="611.60" cy="177.10" rx="2.0" ry="3.9" fill="none" stroke="#111" stroke-width="0.55"/>
<line x1="579.20" y1="53.10" x2="579.20" y2="74.80" stroke="#a8a8a8" stroke-width="1.20"/>
<line x1="579.20" y1="79.60" x2="579.20" y2="102.00" stroke="#a8a8a8" stroke-width="1.20"/>
<line x1="579.20" y1="106.10" x2="579.20" y2="127.80" stroke="#a8a8a8" stroke-width="1.20"/>
<line x1="579.20" y1="133.00" x2="579.20" y2="154.80" stroke="#a8a8a8" stroke-width="1.20"/>
<line x1="579.20" y1="159.20" x2="579.20" y2="181.50" stroke="#a8a8a8" stroke-width="1.20"/>
<text transform="translate(577.40,64.50) rotate(-90)" font-size="12.00" text-anchor="middle" fill="#111" stroke="#111" stroke-width="0.20">5</text>
<text transform="translate(577.40,91.40) rotate(-90)" font-size="12.00" text-anchor="middle" fill="#111" stroke="#111" stroke-width="0.20">2</text>
<text transform="translate(577.40,116.40) rotate(-90)" font-size="12.00" text-anchor="middle" fill="#111" stroke="#111" stroke-width="0.20">1</text>
<text transform="translate(577.40,142.30) rotate(-90)" font-size="12.00" text-anchor="middle" fill="#111" stroke="#111" stroke-width="0.20">0.5</text>
<text transform="translate(577.40,170.35) rotate(-90)" font-size="12.00" text-anchor="middle" fill="#111" stroke="#111" stroke-width="0.20">0.2</text>
<line x1="582.50" y1="48.40" x2="582.50" y2="193.30" stroke="#3a3a3a" stroke-width="1.00"/>
<line x1="582.00" y1="186.20" x2="666.80" y2="186.20" stroke="#3a3a3a" stroke-width="1.00"/>
<line x1="582.50" y1="186.20" x2="582.50" y2="193.30" stroke="#3a3a3a" stroke-width="0.90"/>
<line x1="590.93" y1="186.20" x2="590.93" y2="190.20" stroke="#666" stroke-width="0.90"/>
<line x1="595.86" y1="186.20" x2="595.86" y2="190.20" stroke="#666" stroke-width="0.90"/>
<line x1="599.36" y1="186.20" x2="599.36" y2="190.20" stroke="#666" stroke-width="0.90"/>
<line x1="602.07" y1="186.20" x2="602.07" y2="190.20" stroke="#666" stroke-width="0.90"/>
<line x1="604.29" y1="186.20" x2="604.29" y2="190.20" stroke="#666" stroke-width="0.90"/>
<line x1="606.16" y1="186.20" x2="606.16" y2="190.20" stroke="#666" stroke-width="0.90"/>
<line x1="607.79" y1="186.20" x2="607.79" y2="190.20" stroke="#666" stroke-width="0.90"/>
<line x1="609.22" y1="186.20" x2="609.22" y2="190.20" stroke="#666" stroke-width="0.90"/>
<line x1="610.50" y1="186.20" x2="610.50" y2="193.30" stroke="#3a3a3a" stroke-width="0.90"/>
<line x1="618.93" y1="186.20" x2="618.93" y2="190.20" stroke="#666" stroke-width="0.90"/>
<line x1="623.86" y1="186.20" x2="623.86" y2="190.20" stroke="#666" stroke-width="0.90"/>
<line x1="627.36" y1="186.20" x2="627.36" y2="190.20" stroke="#666" stroke-width="0.90"/>
<line x1="630.07" y1="186.20" x2="630.07" y2="190.20" stroke="#666" stroke-width="0.90"/>
<line x1="632.29" y1="186.20" x2="632.29" y2="190.20" stroke="#666" stroke-width="0.90"/>
<line x1="634.16" y1="186.20" x2="634.16" y2="190.20" stroke="#666" stroke-width="0.90"/>
<line x1="635.79" y1="186.20" x2="635.79" y2="190.20" stroke="#666" stroke-width="0.90"/>
<line x1="637.22" y1="186.20" x2="637.22" y2="190.20" stroke="#666" stroke-width="0.90"/>
<line x1="638.50" y1="186.20" x2="638.50" y2="193.30" stroke="#3a3a3a" stroke-width="0.90"/>
<line x1="646.93" y1="186.20" x2="646.93" y2="190.20" stroke="#666" stroke-width="0.90"/>
<line x1="651.86" y1="186.20" x2="651.86" y2="190.20" stroke="#666" stroke-width="0.90"/>
<line x1="655.36" y1="186.20" x2="655.36" y2="190.20" stroke="#666" stroke-width="0.90"/>
<line x1="658.07" y1="186.20" x2="658.07" y2="190.20" stroke="#666" stroke-width="0.90"/>
<line x1="660.29" y1="186.20" x2="660.29" y2="190.20" stroke="#666" stroke-width="0.90"/>
<line x1="662.16" y1="186.20" x2="662.16" y2="190.20" stroke="#666" stroke-width="0.90"/>
<line x1="663.79" y1="186.20" x2="663.79" y2="190.20" stroke="#666" stroke-width="0.90"/>
<line x1="665.22" y1="186.20" x2="665.22" y2="190.20" stroke="#666" stroke-width="0.90"/>
<line x1="666.50" y1="186.20" x2="666.50" y2="193.30" stroke="#3a3a3a" stroke-width="0.90"/>
<text x="574.60" y="205.50" font-size="10.80" fill="#111" stroke="#111" stroke-width="0.20">10<tspan dy="-4.0" font-size="7.5">1</tspan></text>
<text x="602.60" y="205.50" font-size="10.80" fill="#111" stroke="#111" stroke-width="0.20">10<tspan dy="-4.0" font-size="7.5">2</tspan></text>
<text x="630.60" y="205.50" font-size="10.80" fill="#111" stroke="#111" stroke-width="0.20">10<tspan dy="-4.0" font-size="7.5">3</tspan></text>
<text x="658.60" y="205.50" font-size="10.80" fill="#111" stroke="#111" stroke-width="0.20">10<tspan dy="-4.0" font-size="7.5">4</tspan></text>
<line x1="649.60" y1="137.40" x2="649.60" y2="164.20" stroke="#e0302c" stroke-width="0.90"/>
<text transform="translate(657.80,150.60) rotate(-90)" font-size="10.50" text-anchor="middle" fill="#e0302c" stroke="#e0302c" stroke-width="0.20">NS</text>
<line x1="660.50" y1="151.20" x2="660.50" y2="177.40" stroke="#222" stroke-width="0.90"/>
<text transform="translate(670.6,179.0) rotate(-90) scale(0.78,1)" font-size="11" fill="#111"><tspan font-style="italic">P</tspan> = 7x10<tspan dy="-4" font-size="7">-14</tspan></text>
<text transform="translate(556.30,187.60) rotate(-90)" font-size="14.35" font-weight="bold" fill="#111" stroke="#111" stroke-width="0.20">PEG<tspan dy="2.8" font-size="9.5">45</tspan><tspan dy="-2.8">-DSPE</tspan> <tspan font-weight="normal">(mol%)</tspan></text>
<text x="563.40" y="223.80" font-size="14.00" font-weight="bold" fill="#111" stroke="#111" stroke-width="0.20">Liposome Binding</text>
<text x="592.40" y="244.20" font-size="14.00" fill="#111" stroke="#111" stroke-width="0.20">(MFI<tspan font-size="10">AF647</tspan>)</text>
<text x="0.00" y="268.60" font-size="17.00" font-weight="bold" fill="#111" stroke="#111" stroke-width="0.20">c</text>
<line x1="74.90" y1="267.40" x2="74.90" y2="380.60" stroke="#b0b0b0" stroke-width="1.60"/>
<line x1="74.10" y1="373.00" x2="339.80" y2="373.00" stroke="#b0b0b0" stroke-width="1.50"/>
<line x1="67.00" y1="267.10" x2="74.90" y2="267.10" stroke="#555" stroke-width="1.00"/>
<text x="65.80" y="271.00" font-size="11.20" text-anchor="end" fill="#111" stroke="#111" stroke-width="0.20">1.2</text>
<line x1="67.00" y1="300.90" x2="74.90" y2="300.90" stroke="#555" stroke-width="1.00"/>
<text x="65.80" y="304.80" font-size="11.20" text-anchor="end" fill="#111" stroke="#111" stroke-width="0.20">0.8</text>
<line x1="67.00" y1="334.70" x2="74.90" y2="334.70" stroke="#555" stroke-width="1.00"/>
<text x="65.80" y="338.60" font-size="11.20" text-anchor="end" fill="#111" stroke="#111" stroke-width="0.20">0.4</text>
<line x1="67.00" y1="368.50" x2="74.90" y2="368.50" stroke="#555" stroke-width="1.00"/>
<text x="65.80" y="372.40" font-size="11.20" text-anchor="end" fill="#111" stroke="#111" stroke-width="0.20">0</text>
<line x1="70.50" y1="284.00" x2="74.90" y2="284.00" stroke="#555" stroke-width="1.00"/>
<line x1="70.50" y1="317.80" x2="74.90" y2="317.80" stroke="#555" stroke-width="1.00"/>
<line x1="70.50" y1="351.60" x2="74.90" y2="351.60" stroke="#555" stroke-width="1.00"/>
<line x1="74.90" y1="373.70" x2="74.90" y2="380.20" stroke="#555" stroke-width="1.00"/>
<line x1="94.83" y1="373.70" x2="94.83" y2="377.60" stroke="#555" stroke-width="0.90"/>
<line x1="106.49" y1="373.70" x2="106.49" y2="377.60" stroke="#555" stroke-width="0.90"/>
<line x1="114.76" y1="373.70" x2="114.76" y2="377.60" stroke="#555" stroke-width="0.90"/>
<line x1="121.17" y1="373.70" x2="121.17" y2="377.60" stroke="#555" stroke-width="0.90"/>
<line x1="126.41" y1="373.70" x2="126.41" y2="377.60" stroke="#555" stroke-width="0.90"/>
<line x1="130.85" y1="373.70" x2="130.85" y2="377.60" stroke="#555" stroke-width="0.90"/>
<line x1="134.68" y1="373.70" x2="134.68" y2="377.60" stroke="#555" stroke-width="0.90"/>
<line x1="138.07" y1="373.70" x2="138.07" y2="377.60" stroke="#555" stroke-width="0.90"/>
<line x1="141.10" y1="373.70" x2="141.10" y2="380.20" stroke="#555" stroke-width="1.00"/>
<line x1="161.03" y1="373.70" x2="161.03" y2="377.60" stroke="#555" stroke-width="0.90"/>
<line x1="172.69" y1="373.70" x2="172.69" y2="377.60" stroke="#555" stroke-width="0.90"/>
<line x1="180.96" y1="373.70" x2="180.96" y2="377.60" stroke="#555" stroke-width="0.90"/>
<line x1="187.37" y1="373.70" x2="187.37" y2="377.60" stroke="#555" stroke-width="0.90"/>
<line x1="192.61" y1="373.70" x2="192.61" y2="377.60" stroke="#555" stroke-width="0.90"/>
<line x1="197.05" y1="373.70" x2="197.05" y2="377.60" stroke="#555" stroke-width="0.90"/>
<line x1="200.88" y1="373.70" x2="200.88" y2="377.60" stroke="#555" stroke-width="0.90"/>
<line x1="204.27" y1="373.70" x2="204.27" y2="377.60" stroke="#555" stroke-width="0.90"/>
<line x1="207.30" y1="373.70" x2="207.30" y2="380.20" stroke="#555" stroke-width="1.00"/>
<line x1="227.23" y1="373.70" x2="227.23" y2="377.60" stroke="#555" stroke-width="0.90"/>
<line x1="238.89" y1="373.70" x2="238.89" y2="377.60" stroke="#555" stroke-width="0.90"/>
<line x1="247.16" y1="373.70" x2="247.16" y2="377.60" stroke="#555" stroke-width="0.90"/>
<line x1="253.57" y1="373.70" x2="253.57" y2="377.60" stroke="#555" stroke-width="0.90"/>
<line x1="258.81" y1="373.70" x2="258.81" y2="377.60" stroke="#555" stroke-width="0.90"/>
<line x1="263.25" y1="373.70" x2="263.25" y2="377.60" stroke="#555" stroke-width="0.90"/>
<line x1="267.08" y1="373.70" x2="267.08" y2="377.60" stroke="#555" stroke-width="0.90"/>
<line x1="270.47" y1="373.70" x2="270.47" y2="377.60" stroke="#555" stroke-width="0.90"/>
<line x1="273.50" y1="373.70" x2="273.50" y2="380.20" stroke="#555" stroke-width="1.00"/>
<line x1="293.43" y1="373.70" x2="293.43" y2="377.60" stroke="#555" stroke-width="0.90"/>
<line x1="305.09" y1="373.70" x2="305.09" y2="377.60" stroke="#555" stroke-width="0.90"/>
<line x1="313.36" y1="373.70" x2="313.36" y2="377.60" stroke="#555" stroke-width="0.90"/>
<line x1="319.77" y1="373.70" x2="319.77" y2="377.60" stroke="#555" stroke-width="0.90"/>
<line x1="325.01" y1="373.70" x2="325.01" y2="377.60" stroke="#555" stroke-width="0.90"/>
<line x1="329.45" y1="373.70" x2="329.45" y2="377.60" stroke="#555" stroke-width="0.90"/>
<line x1="333.28" y1="373.70" x2="333.28" y2="377.60" stroke="#555" stroke-width="0.90"/>
<line x1="336.67" y1="373.70" x2="336.67" y2="377.60" stroke="#555" stroke-width="0.90"/>
<line x1="339.70" y1="373.70" x2="339.70" y2="380.20" stroke="#555" stroke-width="1.00"/>
<text x="65.70" y="393.10" font-size="11.20" fill="#111" stroke="#111" stroke-width="0.20">10<tspan dy="-4.3" font-size="7.8">-4</tspan></text>
<text x="131.90" y="393.10" font-size="11.20" fill="#111" stroke="#111" stroke-width="0.20">10<tspan dy="-4.3" font-size="7.8">-3</tspan></text>
<text x="198.10" y="393.10" font-size="11.20" fill="#111" stroke="#111" stroke-width="0.20">10<tspan dy="-4.3" font-size="7.8">-2</tspan></text>
<text x="264.30" y="393.10" font-size="11.20" fill="#111" stroke="#111" stroke-width="0.20">10<tspan dy="-4.3" font-size="7.8">-1</tspan></text>
<text x="331.10" y="393.10" font-size="11.20" fill="#111" stroke="#111" stroke-width="0.20">10<tspan dy="-4.3" font-size="7.8">0</tspan></text>
<rect x="77.40" y="267.40" width="38.30" height="38.00" fill="#fff" stroke="#6cbde8" stroke-width="1.20"/>
<text x="96.55" y="303.60" font-size="11.20" text-anchor="middle" fill="#111" stroke="#111" stroke-width="0.20">GM1</text>
<line x1="89.75" y1="286.80" x2="96.15" y2="281.40" stroke="#555" stroke-width="0.50"/>
<line x1="96.15" y1="281.40" x2="102.45" y2="281.40" stroke="#555" stroke-width="0.50"/>
<line x1="102.45" y1="281.40" x2="108.55" y2="281.40" stroke="#555" stroke-width="0.50"/>
<line x1="102.45" y1="281.40" x2="96.15" y2="287.80" stroke="#555" stroke-width="0.50"/>
<circle cx="89.75" cy="286.80" r="2.50" fill="#f5d90a" stroke="#8a7a10" stroke-width="0.35"/>
<rect x="93.65" y="278.90" width="5.00" height="5.00" fill="#f5d90a" stroke="#8a7a10" stroke-width="0.35"/>
<circle cx="102.45" cy="281.40" r="2.50" fill="#f5d90a" stroke="#8a7a10" stroke-width="0.35"/>
<circle cx="108.55" cy="281.40" r="2.50" fill="#2b2a8f" stroke="#1a1a5a" stroke-width="0.35"/>
<path d="M96.15,284.67L99.28,287.80L96.15,290.92L93.03,287.80Z" fill="#9b22a8" stroke="#5a1060" stroke-width="0.35"/>
<rect x="118.10" y="267.40" width="38.30" height="38.00" fill="#fff" stroke="#e4483c" stroke-width="1.20"/>
<text x="137.25" y="303.60" font-size="11.20" text-anchor="middle" fill="#111" stroke="#111" stroke-width="0.20">GM2</text>
<line x1="131.25" y1="281.40" x2="137.55" y2="281.40" stroke="#555" stroke-width="0.50"/>
<line x1="137.55" y1="281.40" x2="143.85" y2="281.40" stroke="#555" stroke-width="0.50"/>
<line x1="137.55" y1="281.40" x2="131.25" y2="287.80" stroke="#555" stroke-width="0.50"/>
<rect x="128.75" y="278.90" width="5.00" height="5.00" fill="#f5d90a" stroke="#8a7a10" stroke-width="0.35"/>
<circle cx="137.55" cy="281.40" r="2.50" fill="#f5d90a" stroke="#8a7a10" stroke-width="0.35"/>
<circle cx="143.85" cy="281.40" r="2.50" fill="#2b2a8f" stroke="#1a1a5a" stroke-width="0.35"/>
<path d="M131.25,284.67L134.38,287.80L131.25,290.92L128.12,287.80Z" fill="#9b22a8" stroke="#5a1060" stroke-width="0.35"/>
<rect x="77.40" y="307.80" width="38.30" height="38.00" fill="#fff" stroke="#f5a130" stroke-width="1.20"/>
<text x="96.55" y="344.00" font-size="11.20" text-anchor="middle" fill="#111" stroke="#111" stroke-width="0.20">GM3</text>
<line x1="89.95" y1="327.60" x2="96.35" y2="321.80" stroke="#555" stroke-width="0.50"/>
<line x1="96.35" y1="321.80" x2="102.65" y2="321.80" stroke="#555" stroke-width="0.50"/>
<path d="M89.95,324.47L93.08,327.60L89.95,330.72L86.83,327.60Z" fill="#9b22a8" stroke="#5a1060" stroke-width="0.35"/>
<circle cx="96.35" cy="321.80" r="2.50" fill="#f5d90a" stroke="#8a7a10" stroke-width="0.35"/>
<circle cx="102.65" cy="321.80" r="2.50" fill="#2b2a8f" stroke="#1a1a5a" stroke-width="0.35"/>
<rect x="118.10" y="307.80" width="38.30" height="38.00" fill="#fff" stroke="#a45ccc" stroke-width="1.20"/>
<text x="137.25" y="344.00" font-size="11.20" text-anchor="middle" fill="#111" stroke="#111" stroke-width="0.20">GD1a</text>
<line x1="124.75" y1="332.70" x2="130.35" y2="327.60" stroke="#555" stroke-width="0.50"/>
<line x1="130.35" y1="327.60" x2="136.45" y2="321.80" stroke="#555" stroke-width="0.50"/>
<line x1="136.45" y1="321.80" x2="142.75" y2="321.80" stroke="#555" stroke-width="0.50"/>
<line x1="142.75" y1="321.80" x2="149.05" y2="321.80" stroke="#555" stroke-width="0.50"/>
<line x1="142.75" y1="321.80" x2="136.45" y2="328.10" stroke="#555" stroke-width="0.50"/>
<path d="M124.75,329.57L127.87,332.70L124.75,335.82L121.62,332.70Z" fill="#9b22a8" stroke="#5a1060" stroke-width="0.35"/>
<circle cx="130.35" cy="327.60" r="2.50" fill="#f5d90a" stroke="#8a7a10" stroke-width="0.35"/>
<rect x="133.95" y="319.30" width="5.00" height="5.00" fill="#f5d90a" stroke="#8a7a10" stroke-width="0.35"/>
<circle cx="142.75" cy="321.80" r="2.50" fill="#f5d90a" stroke="#8a7a10" stroke-width="0.35"/>
<circle cx="149.05" cy="321.80" r="2.50" fill="#2b2a8f" stroke="#1a1a5a" stroke-width="0.35"/>
<path d="M136.45,324.97L139.57,328.10L136.45,331.22L133.32,328.10Z" fill="#9b22a8" stroke="#5a1060" stroke-width="0.35"/>
<text x="273.40" y="286.60" font-size="14.15" font-weight="bold" fill="#111" stroke="#111" stroke-width="0.20">Cell assay</text>
<path d="M224.40,368.60 L255.70,367.20 L270.50,365.30 L290.80,357.70 L310.40,342.00" fill="none" stroke="#f5a623" stroke-width="0.90"/>
<circle cx="224.40" cy="368.60" r="2.30" fill="none" stroke="#f5a623" stroke-width="0.80"/>
<circle cx="255.70" cy="367.20" r="2.30" fill="none" stroke="#f5a623" stroke-width="0.80"/>
<circle cx="270.50" cy="365.30" r="2.30" fill="none" stroke="#f5a623" stroke-width="0.80"/>
<circle cx="290.80" cy="356.70" r="2.30" fill="none" stroke="#f5a623" stroke-width="0.80"/>
<circle cx="290.80" cy="358.20" r="2.30" fill="none" stroke="#f5a623" stroke-width="0.80"/>
<circle cx="310.40" cy="337.80" r="2.30" fill="none" stroke="#f5a623" stroke-width="0.80"/>
<circle cx="310.40" cy="339.80" r="2.30" fill="none" stroke="#f5a623" stroke-width="0.80"/>
<circle cx="310.40" cy="341.80" r="2.30" fill="none" stroke="#f5a623" stroke-width="0.80"/>
<path d="M224.40,367.80 L244.30,358.30 L255.70,346.40 L270.50,346.90 L290.80,353.90 L310.40,362.50" fill="none" stroke="#5b9bd5" stroke-width="0.90"/>
<circle cx="224.40" cy="367.80" r="2.30" fill="none" stroke="#5b9bd5" stroke-width="0.80"/>
<circle cx="244.30" cy="358.30" r="2.30" fill="none" stroke="#5b9bd5" stroke-width="0.80"/>
<circle cx="255.70" cy="345.40" r="2.30" fill="none" stroke="#5b9bd5" stroke-width="0.80"/>
<circle cx="255.70" cy="346.40" r="2.30" fill="none" stroke="#5b9bd5" stroke-width="0.80"/>
<circle cx="255.70" cy="347.40" r="2.30" fill="none" stroke="#5b9bd5" stroke-width="0.80"/>
<circle cx="270.50" cy="345.40" r="2.30" fill="none" stroke="#5b9bd5" stroke-width="0.80"/>
<circle cx="270.50" cy="346.90" r="2.30" fill="none" stroke="#5b9bd5" stroke-width="0.80"/>
<circle cx="270.50" cy="348.40" r="2.30" fill="none" stroke="#5b9bd5" stroke-width="0.80"/>
<circle cx="290.80" cy="352.40" r="2.30" fill="none" stroke="#5b9bd5" stroke-width="0.80"/>
<circle cx="290.80" cy="353.90" r="2.30" fill="none" stroke="#5b9bd5" stroke-width="0.80"/>
<circle cx="290.80" cy="355.40" r="2.30" fill="none" stroke="#5b9bd5" stroke-width="0.80"/>
<circle cx="310.40" cy="361.50" r="2.30" fill="none" stroke="#5b9bd5" stroke-width="0.80"/>
<circle cx="310.40" cy="363.00" r="2.30" fill="none" stroke="#5b9bd5" stroke-width="0.80"/>
<circle cx="310.40" cy="364.30" r="2.30" fill="none" stroke="#5b9bd5" stroke-width="0.80"/>
<path d="M92.27,369.60 L204.50,368.20 L224.40,327.40 L270.50,343.50 L290.80,352.00 L310.40,360.60" fill="none" stroke="#a35ad6" stroke-width="0.90"/>
<circle cx="92.27" cy="369.60" r="2.30" fill="none" stroke="#a35ad6" stroke-width="0.80"/>
<circle cx="204.50" cy="368.20" r="2.30" fill="none" stroke="#a35ad6" stroke-width="0.80"/>
<circle cx="224.40" cy="325.40" r="2.30" fill="none" stroke="#a35ad6" stroke-width="0.80"/>
<circle cx="224.40" cy="326.90" r="2.30" fill="none" stroke="#a35ad6" stroke-width="0.80"/>
<circle cx="224.40" cy="328.40" r="2.30" fill="none" stroke="#a35ad6" stroke-width="0.80"/>
<circle cx="270.50" cy="342.00" r="2.30" fill="none" stroke="#a35ad6" stroke-width="0.80"/>
<circle cx="270.50" cy="343.50" r="2.30" fill="none" stroke="#a35ad6" stroke-width="0.80"/>
<circle cx="290.80" cy="351.00" r="2.30" fill="none" stroke="#a35ad6" stroke-width="0.80"/>
<circle cx="290.80" cy="352.80" r="2.30" fill="none" stroke="#a35ad6" stroke-width="0.80"/>
<circle cx="310.40" cy="359.60" r="2.30" fill="none" stroke="#a35ad6" stroke-width="0.80"/>
<circle cx="310.40" cy="361.60" r="2.30" fill="none" stroke="#a35ad6" stroke-width="0.80"/>
<path d="M158.32,369.60 L204.50,357.70 L224.40,284.70 L255.70,302.10 L270.50,320.40 L310.40,347.00" fill="none" stroke="#e8503a" stroke-width="0.90"/>
<circle cx="158.32" cy="369.60" r="2.30" fill="none" stroke="#e8503a" stroke-width="0.80"/>
<circle cx="204.50" cy="355.70" r="2.30" fill="none" stroke="#e8503a" stroke-width="0.80"/>
<circle cx="204.50" cy="357.70" r="2.30" fill="none" stroke="#e8503a" stroke-width="0.80"/>
<circle cx="204.50" cy="359.70" r="2.30" fill="none" stroke="#e8503a" stroke-width="0.80"/>
<circle cx="224.40" cy="283.10" r="2.30" fill="none" stroke="#e8503a" stroke-width="0.80"/>
<circle cx="224.40" cy="284.10" r="2.30" fill="none" stroke="#e8503a" stroke-width="0.80"/>
<circle cx="224.40" cy="286.30" r="2.30" fill="none" stroke="#e8503a" stroke-width="0.80"/>
<circle cx="255.70" cy="300.60" r="2.30" fill="none" stroke="#e8503a" stroke-width="0.80"/>
<circle cx="255.70" cy="302.10" r="2.30" fill="none" stroke="#e8503a" stroke-width="0.80"/>
<circle cx="255.70" cy="303.30" r="2.30" fill="none" stroke="#e8503a" stroke-width="0.80"/>
<circle cx="270.50" cy="318.40" r="2.30" fill="none" stroke="#e8503a" stroke-width="0.80"/>
<circle cx="270.50" cy="320.40" r="2.30" fill="none" stroke="#e8503a" stroke-width="0.80"/>
<circle cx="270.50" cy="322.40" r="2.30" fill="none" stroke="#e8503a" stroke-width="0.80"/>
<circle cx="310.40" cy="348.50" r="2.30" fill="none" stroke="#e8503a" stroke-width="0.80"/>
<circle cx="310.40" cy="350.00" r="2.30" fill="none" stroke="#e8503a" stroke-width="0.80"/>
<circle cx="310.40" cy="351.50" r="2.30" fill="none" stroke="#e8503a" stroke-width="0.80"/>
<text x="206.40" y="412.80" font-size="14.00" font-weight="bold" text-anchor="middle" fill="#111" stroke="#111" stroke-width="0.20">Ligand Density</text>
<text x="207.00" y="431.50" font-size="14.00" text-anchor="middle" fill="#111" stroke="#111" stroke-width="0.20">(ligands/nm<tspan dy="-5.2" font-size="10.5">2</tspan><tspan dy="5.2">)</tspan></text>
<text transform="translate(28.90,384.40) rotate(-90)" font-size="14.00" font-weight="bold" fill="#111" stroke="#111" stroke-width="0.20">Liposome Binding</text>
<text transform="translate(45.60,323.60) rotate(-90)" font-size="14.00" text-anchor="middle" fill="#111" stroke="#111" stroke-width="0.20">(rel. to Max)</text>
<text x="390.00" y="268.60" font-size="17.00" font-weight="bold" fill="#111" stroke="#111" stroke-width="0.20">d</text>
<line x1="463.20" y1="266.40" x2="463.20" y2="372.00" stroke="#4a4a4a" stroke-width="1.00"/>
<line x1="463.20" y1="372.00" x2="675.00" y2="372.00" stroke="#4a4a4a" stroke-width="1.00"/>
<line x1="455.50" y1="266.40" x2="463.20" y2="266.40" stroke="#4a4a4a" stroke-width="1.00"/>
<text x="454.60" y="270.20" font-size="11.00" text-anchor="end" fill="#111" stroke="#111" stroke-width="0.20">2.0</text>
<line x1="455.50" y1="292.80" x2="463.20" y2="292.80" stroke="#4a4a4a" stroke-width="1.00"/>
<text x="454.60" y="296.60" font-size="11.00" text-anchor="end" fill="#111" stroke="#111" stroke-width="0.20">1.5</text>
<line x1="455.50" y1="319.20" x2="463.20" y2="319.20" stroke="#4a4a4a" stroke-width="1.00"/>
<text x="454.60" y="323.00" font-size="11.00" text-anchor="end" fill="#111" stroke="#111" stroke-width="0.20">1.0</text>
<line x1="455.50" y1="345.60" x2="463.20" y2="345.60" stroke="#4a4a4a" stroke-width="1.00"/>
<text x="454.60" y="349.40" font-size="11.00" text-anchor="end" fill="#111" stroke="#111" stroke-width="0.20">0.5</text>
<line x1="455.50" y1="372.00" x2="463.20" y2="372.00" stroke="#4a4a4a" stroke-width="1.00"/>
<text x="454.60" y="375.80" font-size="11.00" text-anchor="end" fill="#111" stroke="#111" stroke-width="0.20">0</text>
<rect x="480.20" y="311.81" width="32.00" height="60.19" fill="#b9cfe8" stroke="#3a3a3a" stroke-width="0.90"/>
<line x1="496.20" y1="372.00" x2="496.20" y2="379.20" stroke="#4a4a4a" stroke-width="1.00"/>
<rect x="528.70" y="326.06" width="32.00" height="45.94" fill="#f2a69a" stroke="#3a3a3a" stroke-width="0.90"/>
<line x1="544.70" y1="372.00" x2="544.70" y2="379.20" stroke="#4a4a4a" stroke-width="1.00"/>
<rect x="577.30" y="345.60" width="32.00" height="26.40" fill="#fad69a" stroke="#3a3a3a" stroke-width="0.90"/>
<line x1="593.30" y1="372.00" x2="593.30" y2="379.20" stroke="#4a4a4a" stroke-width="1.00"/>
<rect x="626.40" y="303.89" width="32.00" height="68.11" fill="#c5a6e0" stroke="#3a3a3a" stroke-width="0.90"/>
<line x1="642.40" y1="372.00" x2="642.40" y2="379.20" stroke="#4a4a4a" stroke-width="1.00"/>
<line x1="496.20" y1="304.70" x2="496.20" y2="318.50" stroke="#222" stroke-width="0.90"/>
<line x1="488.70" y1="304.70" x2="503.70" y2="304.70" stroke="#222" stroke-width="0.90"/>
<line x1="488.70" y1="318.50" x2="503.70" y2="318.50" stroke="#222" stroke-width="0.90"/>
<circle cx="496.20" cy="303.20" r="2.40" fill="none" stroke="#333" stroke-width="0.80"/>
<circle cx="496.20" cy="309.10" r="2.40" fill="none" stroke="#333" stroke-width="0.80"/>
<circle cx="496.20" cy="313.90" r="2.40" fill="none" stroke="#333" stroke-width="0.80"/>
<circle cx="496.20" cy="319.60" r="2.40" fill="none" stroke="#333" stroke-width="0.80"/>
<line x1="544.70" y1="324.30" x2="544.70" y2="328.30" stroke="#222" stroke-width="0.90"/>
<line x1="537.20" y1="324.30" x2="552.20" y2="324.30" stroke="#222" stroke-width="0.90"/>
<line x1="537.20" y1="328.30" x2="552.20" y2="328.30" stroke="#222" stroke-width="0.90"/>
<circle cx="536.10" cy="324.00" r="2.40" fill="none" stroke="#333" stroke-width="0.80"/>
<circle cx="540.40" cy="324.20" r="2.40" fill="none" stroke="#333" stroke-width="0.80"/>
<circle cx="544.70" cy="324.00" r="2.40" fill="none" stroke="#333" stroke-width="0.80"/>
<circle cx="549.00" cy="324.20" r="2.40" fill="none" stroke="#333" stroke-width="0.80"/>
<circle cx="553.90" cy="324.00" r="2.40" fill="none" stroke="#333" stroke-width="0.80"/>
<circle cx="544.70" cy="330.20" r="2.40" fill="none" stroke="#333" stroke-width="0.80"/>
<line x1="593.30" y1="341.30" x2="593.30" y2="350.50" stroke="#222" stroke-width="0.90"/>
<line x1="585.80" y1="341.30" x2="600.80" y2="341.30" stroke="#222" stroke-width="0.90"/>
<line x1="585.80" y1="350.50" x2="600.80" y2="350.50" stroke="#222" stroke-width="0.90"/>
<circle cx="593.30" cy="340.50" r="2.40" fill="none" stroke="#333" stroke-width="0.80"/>
<circle cx="589.80" cy="345.00" r="2.40" fill="none" stroke="#333" stroke-width="0.80"/>
<circle cx="596.80" cy="345.00" r="2.40" fill="none" stroke="#333" stroke-width="0.80"/>
<circle cx="593.30" cy="351.30" r="2.40" fill="none" stroke="#333" stroke-width="0.80"/>
<line x1="642.40" y1="293.70" x2="642.40" y2="313.50" stroke="#222" stroke-width="0.90"/>
<line x1="634.90" y1="293.70" x2="649.90" y2="293.70" stroke="#222" stroke-width="0.90"/>
<line x1="634.90" y1="313.50" x2="649.90" y2="313.50" stroke="#222" stroke-width="0.90"/>
<circle cx="642.40" cy="292.70" r="2.40" fill="none" stroke="#333" stroke-width="0.80"/>
<circle cx="642.40" cy="298.60" r="2.40" fill="none" stroke="#333" stroke-width="0.80"/>
<circle cx="642.40" cy="308.90" r="2.40" fill="none" stroke="#333" stroke-width="0.80"/>
<circle cx="642.40" cy="314.30" r="2.40" fill="none" stroke="#333" stroke-width="0.80"/>
<line x1="485.90" y1="389.10" x2="490.90" y2="384.00" stroke="#555" stroke-width="0.50"/>
<line x1="490.90" y1="384.00" x2="499.00" y2="384.00" stroke="#555" stroke-width="0.50"/>
<line x1="499.00" y1="384.00" x2="507.30" y2="384.00" stroke="#555" stroke-width="0.50"/>
<line x1="494.20" y1="389.60" x2="499.00" y2="384.00" stroke="#555" stroke-width="0.50"/>
<rect x="488.50" y="381.60" width="4.80" height="4.80" fill="#f5d90a" stroke="#8a7a10" stroke-width="0.35"/>
<circle cx="499.00" cy="384.00" r="2.40" fill="#f5d90a" stroke="#8a7a10" stroke-width="0.35"/>
<circle cx="507.30" cy="384.00" r="2.40" fill="#2b2a8f" stroke="#1a1a5a" stroke-width="0.35"/>
<circle cx="485.90" cy="389.10" r="2.40" fill="#f5d90a" stroke="#8a7a10" stroke-width="0.35"/>
<path d="M494.20,386.60L497.20,389.60L494.20,392.60L491.20,389.60Z" fill="#9b22a8" stroke="#5a1060" stroke-width="0.35"/>
<line x1="536.80" y1="384.00" x2="545.10" y2="384.00" stroke="#555" stroke-width="0.50"/>
<line x1="545.10" y1="384.00" x2="553.40" y2="384.00" stroke="#555" stroke-width="0.50"/>
<line x1="540.40" y1="389.40" x2="545.10" y2="384.00" stroke="#555" stroke-width="0.50"/>
<rect x="534.40" y="381.60" width="4.80" height="4.80" fill="#f5d90a" stroke="#8a7a10" stroke-width="0.35"/>
<circle cx="545.10" cy="384.00" r="2.40" fill="#f5d90a" stroke="#8a7a10" stroke-width="0.35"/>
<circle cx="553.40" cy="384.00" r="2.40" fill="#2b2a8f" stroke="#1a1a5a" stroke-width="0.35"/>
<path d="M540.40,386.40L543.40,389.40L540.40,392.40L537.40,389.40Z" fill="#9b22a8" stroke="#5a1060" stroke-width="0.35"/>
<line x1="591.70" y1="383.80" x2="600.20" y2="383.80" stroke="#555" stroke-width="0.50"/>
<line x1="587.00" y1="389.40" x2="591.70" y2="383.80" stroke="#555" stroke-width="0.50"/>
<circle cx="591.70" cy="383.80" r="2.40" fill="#f5d90a" stroke="#8a7a10" stroke-width="0.35"/>
<circle cx="600.20" cy="383.80" r="2.40" fill="#2b2a8f" stroke="#1a1a5a" stroke-width="0.35"/>
<path d="M587.00,386.40L590.00,389.40L587.00,392.40L584.00,389.40Z" fill="#9b22a8" stroke="#5a1060" stroke-width="0.35"/>
<line x1="626.90" y1="394.30" x2="631.80" y2="389.00" stroke="#555" stroke-width="0.50"/>
<line x1="631.80" y1="389.00" x2="636.80" y2="383.80" stroke="#555" stroke-width="0.50"/>
<line x1="636.80" y1="383.80" x2="644.90" y2="383.80" stroke="#555" stroke-width="0.50"/>
<line x1="644.90" y1="383.80" x2="653.40" y2="383.80" stroke="#555" stroke-width="0.50"/>
<line x1="640.40" y1="389.40" x2="644.90" y2="383.80" stroke="#555" stroke-width="0.50"/>
<path d="M626.90,391.30L629.90,394.30L626.90,397.30L623.90,394.30Z" fill="#9b22a8" stroke="#5a1060" stroke-width="0.35"/>
<circle cx="631.80" cy="389.00" r="2.40" fill="#f5d90a" stroke="#8a7a10" stroke-width="0.35"/>
<rect x="634.40" y="381.40" width="4.80" height="4.80" fill="#f5d90a" stroke="#8a7a10" stroke-width="0.35"/>
<circle cx="644.90" cy="383.80" r="2.40" fill="#f5d90a" stroke="#8a7a10" stroke-width="0.35"/>
<circle cx="653.40" cy="383.80" r="2.40" fill="#2b2a8f" stroke="#1a1a5a" stroke-width="0.35"/>
<path d="M640.40,386.40L643.40,389.40L640.40,392.40L637.40,389.40Z" fill="#9b22a8" stroke="#5a1060" stroke-width="0.35"/>
<text x="496.20" y="410.20" font-size="11.50" text-anchor="middle" fill="#111" stroke="#111" stroke-width="0.20">GM1</text>
<text x="544.70" y="410.20" font-size="11.50" text-anchor="middle" fill="#111" stroke="#111" stroke-width="0.20">GM2</text>
<text x="593.30" y="410.20" font-size="11.50" text-anchor="middle" fill="#111" stroke="#111" stroke-width="0.20">GM3</text>
<text x="642.40" y="410.20" font-size="11.50" text-anchor="middle" fill="#111" stroke="#111" stroke-width="0.20">GD1a</text>
<text x="565.30" y="429.60" font-size="14.00" font-weight="bold" text-anchor="middle" fill="#111" stroke="#111" stroke-width="0.20">Ganglioside Oligosaccharides</text>
<text transform="translate(428.00,347.80) rotate(-90)" font-size="14.00" fill="#111" stroke="#111" stroke-width="0.20"><tspan font-weight="bold" font-style="italic">K</tspan><tspan dy="3" font-size="10" font-weight="bold">d</tspan><tspan dy="-3"> (mM)</tspan></text>
<text x="0.00" y="455.40" font-size="17.00" font-weight="bold" fill="#111" stroke="#111" stroke-width="0.20">e</text>
<line x1="75.30" y1="472.70" x2="75.30" y2="580.80" stroke="#b0b0b0" stroke-width="1.60"/>
<line x1="74.50" y1="577.00" x2="340.50" y2="577.00" stroke="#b0b0b0" stroke-width="1.50"/>
<line x1="67.50" y1="485.80" x2="75.30" y2="485.80" stroke="#555" stroke-width="1.00"/>
<text x="65.30" y="489.70" font-size="11.20" text-anchor="end" fill="#111" stroke="#111" stroke-width="0.20">1.2</text>
<line x1="67.50" y1="515.00" x2="75.30" y2="515.00" stroke="#555" stroke-width="1.00"/>
<text x="65.30" y="518.90" font-size="11.20" text-anchor="end" fill="#111" stroke="#111" stroke-width="0.20">0.8</text>
<line x1="67.50" y1="544.20" x2="75.30" y2="544.20" stroke="#555" stroke-width="1.00"/>
<text x="65.30" y="548.10" font-size="11.20" text-anchor="end" fill="#111" stroke="#111" stroke-width="0.20">0.4</text>
<line x1="67.50" y1="573.40" x2="75.30" y2="573.40" stroke="#555" stroke-width="1.00"/>
<text x="65.30" y="577.30" font-size="11.20" text-anchor="end" fill="#111" stroke="#111" stroke-width="0.20">0</text>
<line x1="71.00" y1="500.40" x2="75.30" y2="500.40" stroke="#555" stroke-width="1.00"/>
<line x1="71.00" y1="529.60" x2="75.30" y2="529.60" stroke="#555" stroke-width="1.00"/>
<line x1="71.00" y1="558.80" x2="75.30" y2="558.80" stroke="#555" stroke-width="1.00"/>
<line x1="90.64" y1="577.70" x2="90.64" y2="581.60" stroke="#555" stroke-width="1.00"/>
<line x1="104.30" y1="577.70" x2="104.30" y2="581.60" stroke="#555" stroke-width="1.00"/>
<line x1="116.13" y1="577.70" x2="116.13" y2="581.60" stroke="#555" stroke-width="1.00"/>
<line x1="126.57" y1="577.70" x2="126.57" y2="581.60" stroke="#555" stroke-width="1.00"/>
<line x1="197.31" y1="577.70" x2="197.31" y2="581.60" stroke="#555" stroke-width="1.00"/>
<line x1="233.23" y1="577.70" x2="233.23" y2="581.60" stroke="#555" stroke-width="1.00"/>
<line x1="258.72" y1="577.70" x2="258.72" y2="581.60" stroke="#555" stroke-width="1.00"/>
<line x1="278.49" y1="577.70" x2="278.49" y2="581.60" stroke="#555" stroke-width="1.00"/>
<line x1="294.64" y1="577.70" x2="294.64" y2="581.60" stroke="#555" stroke-width="1.00"/>
<line x1="308.30" y1="577.70" x2="308.30" y2="581.60" stroke="#555" stroke-width="1.00"/>
<line x1="320.13" y1="577.70" x2="320.13" y2="581.60" stroke="#555" stroke-width="1.00"/>
<line x1="330.57" y1="577.70" x2="330.57" y2="581.60" stroke="#555" stroke-width="1.00"/>
<line x1="135.90" y1="577.70" x2="135.90" y2="584.20" stroke="#555" stroke-width="1.00"/>
<line x1="339.90" y1="577.70" x2="339.90" y2="584.20" stroke="#555" stroke-width="1.00"/>
<text x="126.50" y="596.60" font-size="11.20" fill="#111" stroke="#111" stroke-width="0.20">10<tspan dy="-4.3" font-size="7.8">-2</tspan></text>
<text x="330.50" y="596.60" font-size="11.20" fill="#111" stroke="#111" stroke-width="0.20">10<tspan dy="-4.3" font-size="7.8">-1</tspan></text>
<rect x="76.60" y="472.70" width="37.90" height="37.50" fill="#fff" stroke="#6cbde8" stroke-width="1.20"/>
<text x="95.55" y="508.30" font-size="11.20" text-anchor="middle" fill="#111" stroke="#111" stroke-width="0.20">GM1</text>
<line x1="88.75" y1="491.60" x2="95.15" y2="486.20" stroke="#555" stroke-width="0.50"/>
<line x1="95.15" y1="486.20" x2="101.45" y2="486.20" stroke="#555" stroke-width="0.50"/>
<line x1="101.45" y1="486.20" x2="107.55" y2="486.20" stroke="#555" stroke-width="0.50"/>
<line x1="101.45" y1="486.20" x2="95.15" y2="492.60" stroke="#555" stroke-width="0.50"/>
<circle cx="88.75" cy="491.60" r="2.50" fill="#f5d90a" stroke="#8a7a10" stroke-width="0.35"/>
<rect x="92.65" y="483.70" width="5.00" height="5.00" fill="#f5d90a" stroke="#8a7a10" stroke-width="0.35"/>
<circle cx="101.45" cy="486.20" r="2.50" fill="#f5d90a" stroke="#8a7a10" stroke-width="0.35"/>
<circle cx="107.55" cy="486.20" r="2.50" fill="#2b2a8f" stroke="#1a1a5a" stroke-width="0.35"/>
<path d="M95.15,489.47L98.27,492.60L95.15,495.72L92.02,492.60Z" fill="#9b22a8" stroke="#5a1060" stroke-width="0.35"/>
<rect x="117.60" y="472.70" width="37.90" height="37.50" fill="#fff" stroke="#e4483c" stroke-width="1.20"/>
<text x="136.55" y="508.30" font-size="11.20" text-anchor="middle" fill="#111" stroke="#111" stroke-width="0.20">GM2</text>
<line x1="130.95" y1="486.20" x2="137.25" y2="486.20" stroke="#555" stroke-width="0.50"/>
<line x1="137.25" y1="486.20" x2="143.55" y2="486.20" stroke="#555" stroke-width="0.50"/>
<line x1="137.25" y1="486.20" x2="130.95" y2="492.60" stroke="#555" stroke-width="0.50"/>
<rect x="128.45" y="483.70" width="5.00" height="5.00" fill="#f5d90a" stroke="#8a7a10" stroke-width="0.35"/>
<circle cx="137.25" cy="486.20" r="2.50" fill="#f5d90a" stroke="#8a7a10" stroke-width="0.35"/>
<circle cx="143.55" cy="486.20" r="2.50" fill="#2b2a8f" stroke="#1a1a5a" stroke-width="0.35"/>
<path d="M130.95,489.47L134.07,492.60L130.95,495.72L127.82,492.60Z" fill="#9b22a8" stroke="#5a1060" stroke-width="0.35"/>
<rect x="76.60" y="512.40" width="37.90" height="37.50" fill="#fff" stroke="#f5a130" stroke-width="1.20"/>
<text x="95.55" y="548.00" font-size="11.20" text-anchor="middle" fill="#111" stroke="#111" stroke-width="0.20">GM3</text>
<line x1="89.35" y1="531.70" x2="95.75" y2="525.90" stroke="#555" stroke-width="0.50"/>
<line x1="95.75" y1="525.90" x2="102.05" y2="525.90" stroke="#555" stroke-width="0.50"/>
<path d="M89.35,528.57L92.47,531.70L89.35,534.82L86.22,531.70Z" fill="#9b22a8" stroke="#5a1060" stroke-width="0.35"/>
<circle cx="95.75" cy="525.90" r="2.50" fill="#f5d90a" stroke="#8a7a10" stroke-width="0.35"/>
<circle cx="102.05" cy="525.90" r="2.50" fill="#2b2a8f" stroke="#1a1a5a" stroke-width="0.35"/>
<rect x="117.60" y="512.40" width="37.90" height="37.50" fill="#fff" stroke="#a45ccc" stroke-width="1.20"/>
<text x="136.55" y="548.00" font-size="11.20" text-anchor="middle" fill="#111" stroke="#111" stroke-width="0.20">GD1a</text>
<line x1="124.45" y1="536.80" x2="130.05" y2="531.70" stroke="#555" stroke-width="0.50"/>
<line x1="130.05" y1="531.70" x2="136.15" y2="525.90" stroke="#555" stroke-width="0.50"/>
<line x1="136.15" y1="525.90" x2="142.45" y2="525.90" stroke="#555" stroke-width="0.50"/>
<line x1="142.45" y1="525.90" x2="148.75" y2="525.90" stroke="#555" stroke-width="0.50"/>
<line x1="142.45" y1="525.90" x2="136.15" y2="532.20" stroke="#555" stroke-width="0.50"/>
<path d="M124.45,533.67L127.57,536.80L124.45,539.92L121.32,536.80Z" fill="#9b22a8" stroke="#5a1060" stroke-width="0.35"/>
<circle cx="130.05" cy="531.70" r="2.50" fill="#f5d90a" stroke="#8a7a10" stroke-width="0.35"/>
<rect x="133.65" y="523.40" width="5.00" height="5.00" fill="#f5d90a" stroke="#8a7a10" stroke-width="0.35"/>
<circle cx="142.45" cy="525.90" r="2.50" fill="#f5d90a" stroke="#8a7a10" stroke-width="0.35"/>
<circle cx="148.75" cy="525.90" r="2.50" fill="#2b2a8f" stroke="#1a1a5a" stroke-width="0.35"/>
<path d="M136.15,529.07L139.27,532.20L136.15,535.32L133.02,532.20Z" fill="#9b22a8" stroke="#5a1060" stroke-width="0.35"/>
<text x="308.20" y="468.50" font-size="14.35" font-weight="bold" fill="#111" stroke="#111" stroke-width="0.20">LiGA</text>
<path d="M116.10,565.30 L192.30,564.60 L243.50,567.30 L259.90,564.70 L273.60,565.60 L293.40,565.60" fill="none" stroke="#f5a623" stroke-width="0.90"/>
<path d="M116.10,567.20 L192.30,566.40 L243.50,565.50 L259.90,567.60 L273.60,567.80 L293.40,563.90" fill="none" stroke="#5b9bd5" stroke-width="0.90"/>
<path d="M116.10,568.70 L192.30,568.20 L243.50,545.80 L259.90,555.40 L273.60,561.00 L301.70,553.70" fill="none" stroke="#a35ad6" stroke-width="0.90"/>
<path d="M116.10,566.00 L192.30,563.40 L243.50,501.00 L273.60,511.10 L293.40,520.40" fill="none" stroke="#e8503a" stroke-width="0.90"/>
<circle cx="116.10" cy="559.80" r="2.20" fill="none" stroke="#f5a623" stroke-width="0.80"/>
<circle cx="116.10" cy="566.00" r="2.20" fill="none" stroke="#f5a623" stroke-width="0.80"/>
<circle cx="116.10" cy="569.50" r="2.20" fill="none" stroke="#f5a623" stroke-width="0.80"/>
<circle cx="192.30" cy="560.00" r="2.20" fill="none" stroke="#f5a623" stroke-width="0.80"/>
<circle cx="192.30" cy="565.00" r="2.20" fill="none" stroke="#f5a623" stroke-width="0.80"/>
<circle cx="192.30" cy="570.00" r="2.20" fill="none" stroke="#f5a623" stroke-width="0.80"/>
<circle cx="243.50" cy="568.10" r="2.20" fill="none" stroke="#f5a623" stroke-width="0.80"/>
<circle cx="243.50" cy="569.80" r="2.20" fill="none" stroke="#f5a623" stroke-width="0.80"/>
<circle cx="259.90" cy="561.50" r="2.20" fill="none" stroke="#f5a623" stroke-width="0.80"/>
<circle cx="259.90" cy="562.70" r="2.20" fill="none" stroke="#f5a623" stroke-width="0.80"/>
<circle cx="259.90" cy="564.70" r="2.20" fill="none" stroke="#f5a623" stroke-width="0.80"/>
<circle cx="273.60" cy="562.20" r="2.20" fill="none" stroke="#f5a623" stroke-width="0.80"/>
<circle cx="273.60" cy="564.70" r="2.20" fill="none" stroke="#f5a623" stroke-width="0.80"/>
<circle cx="293.40" cy="566.40" r="2.20" fill="none" stroke="#f5a623" stroke-width="0.80"/>
<circle cx="293.40" cy="568.90" r="2.20" fill="none" stroke="#f5a623" stroke-width="0.80"/>
<circle cx="116.10" cy="564.00" r="2.20" fill="none" stroke="#5b9bd5" stroke-width="0.80"/>
<circle cx="116.10" cy="566.00" r="2.20" fill="none" stroke="#5b9bd5" stroke-width="0.80"/>
<circle cx="116.10" cy="568.00" r="2.20" fill="none" stroke="#5b9bd5" stroke-width="0.80"/>
<circle cx="116.10" cy="570.50" r="2.20" fill="none" stroke="#5b9bd5" stroke-width="0.80"/>
<circle cx="192.30" cy="562.00" r="2.20" fill="none" stroke="#5b9bd5" stroke-width="0.80"/>
<circle cx="192.30" cy="564.00" r="2.20" fill="none" stroke="#5b9bd5" stroke-width="0.80"/>
<circle cx="192.30" cy="566.00" r="2.20" fill="none" stroke="#5b9bd5" stroke-width="0.80"/>
<circle cx="192.30" cy="568.00" r="2.20" fill="none" stroke="#5b9bd5" stroke-width="0.80"/>
<circle cx="192.30" cy="570.00" r="2.20" fill="none" stroke="#5b9bd5" stroke-width="0.80"/>
<circle cx="243.50" cy="564.70" r="2.20" fill="none" stroke="#5b9bd5" stroke-width="0.80"/>
<circle cx="243.50" cy="566.10" r="2.20" fill="none" stroke="#5b9bd5" stroke-width="0.80"/>
<circle cx="259.90" cy="568.10" r="2.20" fill="none" stroke="#5b9bd5" stroke-width="0.80"/>
<circle cx="273.60" cy="565.60" r="2.20" fill="none" stroke="#5b9bd5" stroke-width="0.80"/>
<circle cx="273.60" cy="568.10" r="2.20" fill="none" stroke="#5b9bd5" stroke-width="0.80"/>
<circle cx="293.40" cy="559.10" r="2.20" fill="none" stroke="#5b9bd5" stroke-width="0.80"/>
<circle cx="293.40" cy="562.70" r="2.20" fill="none" stroke="#5b9bd5" stroke-width="0.80"/>
<circle cx="293.40" cy="563.90" r="2.20" fill="none" stroke="#5b9bd5" stroke-width="0.80"/>
<circle cx="116.10" cy="567.00" r="2.20" fill="none" stroke="#a35ad6" stroke-width="0.80"/>
<circle cx="116.10" cy="569.00" r="2.20" fill="none" stroke="#a35ad6" stroke-width="0.80"/>
<circle cx="116.10" cy="571.50" r="2.20" fill="none" stroke="#a35ad6" stroke-width="0.80"/>
<circle cx="192.30" cy="567.00" r="2.20" fill="none" stroke="#a35ad6" stroke-width="0.80"/>
<circle cx="192.30" cy="570.00" r="2.20" fill="none" stroke="#a35ad6" stroke-width="0.80"/>
<circle cx="192.30" cy="573.00" r="2.20" fill="none" stroke="#a35ad6" stroke-width="0.80"/>
<circle cx="243.50" cy="541.00" r="2.20" fill="none" stroke="#a35ad6" stroke-width="0.80"/>
<circle cx="243.50" cy="543.10" r="2.20" fill="none" stroke="#a35ad6" stroke-width="0.80"/>
<circle cx="243.50" cy="544.90" r="2.20" fill="none" stroke="#a35ad6" stroke-width="0.80"/>
<circle cx="243.50" cy="547.00" r="2.20" fill="none" stroke="#a35ad6" stroke-width="0.80"/>
<circle cx="243.50" cy="550.30" r="2.20" fill="none" stroke="#a35ad6" stroke-width="0.80"/>
<circle cx="259.90" cy="552.40" r="2.20" fill="none" stroke="#a35ad6" stroke-width="0.80"/>
<circle cx="259.90" cy="554.60" r="2.20" fill="none" stroke="#a35ad6" stroke-width="0.80"/>
<circle cx="259.90" cy="556.30" r="2.20" fill="none" stroke="#a35ad6" stroke-width="0.80"/>
<circle cx="259.90" cy="558.30" r="2.20" fill="none" stroke="#a35ad6" stroke-width="0.80"/>
<circle cx="273.60" cy="557.10" r="2.20" fill="none" stroke="#a35ad6" stroke-width="0.80"/>
<circle cx="273.60" cy="558.80" r="2.20" fill="none" stroke="#a35ad6" stroke-width="0.80"/>
<circle cx="273.60" cy="573.50" r="2.20" fill="none" stroke="#a35ad6" stroke-width="0.80"/>
<circle cx="301.70" cy="551.70" r="2.20" fill="none" stroke="#a35ad6" stroke-width="0.80"/>
<circle cx="301.70" cy="552.90" r="2.20" fill="none" stroke="#a35ad6" stroke-width="0.80"/>
<circle cx="301.70" cy="560.50" r="2.20" fill="none" stroke="#a35ad6" stroke-width="0.80"/>
<circle cx="116.10" cy="565.00" r="2.20" fill="none" stroke="#e8503a" stroke-width="0.80"/>
<circle cx="116.10" cy="567.50" r="2.20" fill="none" stroke="#e8503a" stroke-width="0.80"/>
<circle cx="116.10" cy="569.50" r="2.20" fill="none" stroke="#e8503a" stroke-width="0.80"/>
<circle cx="192.30" cy="556.00" r="2.20" fill="none" stroke="#e8503a" stroke-width="0.80"/>
<circle cx="192.30" cy="558.50" r="2.20" fill="none" stroke="#e8503a" stroke-width="0.80"/>
<circle cx="192.30" cy="561.00" r="2.20" fill="none" stroke="#e8503a" stroke-width="0.80"/>
<circle cx="192.30" cy="563.50" r="2.20" fill="none" stroke="#e8503a" stroke-width="0.80"/>
<circle cx="192.30" cy="574.50" r="2.20" fill="none" stroke="#e8503a" stroke-width="0.80"/>
<circle cx="243.50" cy="475.40" r="2.20" fill="none" stroke="#e8503a" stroke-width="0.80"/>
<circle cx="243.50" cy="483.20" r="2.20" fill="none" stroke="#e8503a" stroke-width="0.80"/>
<circle cx="243.50" cy="495.00" r="2.20" fill="none" stroke="#e8503a" stroke-width="0.80"/>
<circle cx="243.50" cy="521.60" r="2.20" fill="none" stroke="#e8503a" stroke-width="0.80"/>
<circle cx="243.50" cy="528.40" r="2.20" fill="none" stroke="#e8503a" stroke-width="0.80"/>
<circle cx="273.60" cy="501.30" r="2.20" fill="none" stroke="#e8503a" stroke-width="0.80"/>
<circle cx="273.60" cy="512.30" r="2.20" fill="none" stroke="#e8503a" stroke-width="0.80"/>
<circle cx="273.60" cy="514.00" r="2.20" fill="none" stroke="#e8503a" stroke-width="0.80"/>
<circle cx="273.60" cy="516.80" r="2.20" fill="none" stroke="#e8503a" stroke-width="0.80"/>
<circle cx="293.40" cy="499.60" r="2.20" fill="none" stroke="#e8503a" stroke-width="0.80"/>
<circle cx="293.40" cy="522.40" r="2.20" fill="none" stroke="#e8503a" stroke-width="0.80"/>
<circle cx="293.40" cy="526.20" r="2.20" fill="none" stroke="#e8503a" stroke-width="0.80"/>
<circle cx="293.40" cy="531.20" r="2.20" fill="none" stroke="#e8503a" stroke-width="0.80"/>
<text x="206.60" y="617.40" font-size="14.00" font-weight="bold" text-anchor="middle" fill="#111" stroke="#111" stroke-width="0.20">Ligand Density</text>
<text x="207.00" y="637.30" font-size="14.00" text-anchor="middle" fill="#111" stroke="#111" stroke-width="0.20">(ligands/nm<tspan dy="-5.2" font-size="10.5">2</tspan><tspan dy="5.2">)</tspan></text>
<text transform="translate(27.80,575.60) rotate(-90)" font-size="14.00" font-weight="bold" fill="#111" stroke="#111" stroke-width="0.20">Phage Binding</text>
<text transform="translate(45.30,526.50) rotate(-90)" font-size="14.00" text-anchor="middle" fill="#111" stroke="#111" stroke-width="0.20">(rel. to Max)</text>
<text x="389.80" y="454.60" font-size="17.00" font-weight="bold" fill="#111" stroke="#111" stroke-width="0.20">f</text>
<line x1="463.60" y1="471.30" x2="463.60" y2="576.30" stroke="#4a4a4a" stroke-width="1.00"/>
<line x1="463.60" y1="576.30" x2="675.50" y2="576.30" stroke="#4a4a4a" stroke-width="1.00"/>
<line x1="456.80" y1="576.30" x2="463.60" y2="576.30" stroke="#4a4a4a" stroke-width="1.00"/>
<text x="438.90" y="580.00" font-size="10.80" fill="#111" stroke="#111" stroke-width="0.20">10<tspan dy="-3.8" font-size="7.5">1</tspan></text>
<line x1="459.60" y1="565.79" x2="463.60" y2="565.79" stroke="#4a4a4a" stroke-width="0.80"/>
<line x1="459.60" y1="559.65" x2="463.60" y2="559.65" stroke="#4a4a4a" stroke-width="0.80"/>
<line x1="459.60" y1="555.29" x2="463.60" y2="555.29" stroke="#4a4a4a" stroke-width="0.80"/>
<line x1="459.60" y1="551.91" x2="463.60" y2="551.91" stroke="#4a4a4a" stroke-width="0.80"/>
<line x1="459.60" y1="549.14" x2="463.60" y2="549.14" stroke="#4a4a4a" stroke-width="0.80"/>
<line x1="459.60" y1="546.81" x2="463.60" y2="546.81" stroke="#4a4a4a" stroke-width="0.80"/>
<line x1="459.60" y1="544.78" x2="463.60" y2="544.78" stroke="#4a4a4a" stroke-width="0.80"/>
<line x1="459.60" y1="543.00" x2="463.60" y2="543.00" stroke="#4a4a4a" stroke-width="0.80"/>
<line x1="456.80" y1="541.40" x2="463.60" y2="541.40" stroke="#4a4a4a" stroke-width="1.00"/>
<text x="438.90" y="545.10" font-size="10.80" fill="#111" stroke="#111" stroke-width="0.20">10<tspan dy="-3.8" font-size="7.5">2</tspan></text>
<line x1="459.60" y1="530.89" x2="463.60" y2="530.89" stroke="#4a4a4a" stroke-width="0.80"/>
<line x1="459.60" y1="524.75" x2="463.60" y2="524.75" stroke="#4a4a4a" stroke-width="0.80"/>
<line x1="459.60" y1="520.39" x2="463.60" y2="520.39" stroke="#4a4a4a" stroke-width="0.80"/>
<line x1="459.60" y1="517.01" x2="463.60" y2="517.01" stroke="#4a4a4a" stroke-width="0.80"/>
<line x1="459.60" y1="514.24" x2="463.60" y2="514.24" stroke="#4a4a4a" stroke-width="0.80"/>
<line x1="459.60" y1="511.91" x2="463.60" y2="511.91" stroke="#4a4a4a" stroke-width="0.80"/>
<line x1="459.60" y1="509.88" x2="463.60" y2="509.88" stroke="#4a4a4a" stroke-width="0.80"/>
<line x1="459.60" y1="508.10" x2="463.60" y2="508.10" stroke="#4a4a4a" stroke-width="0.80"/>
<line x1="456.80" y1="506.50" x2="463.60" y2="506.50" stroke="#4a4a4a" stroke-width="1.00"/>
<text x="438.90" y="510.20" font-size="10.80" fill="#111" stroke="#111" stroke-width="0.20">10<tspan dy="-3.8" font-size="7.5">3</tspan></text>
<line x1="459.60" y1="495.99" x2="463.60" y2="495.99" stroke="#4a4a4a" stroke-width="0.80"/>
<line x1="459.60" y1="489.85" x2="463.60" y2="489.85" stroke="#4a4a4a" stroke-width="0.80"/>
<line x1="459.60" y1="485.49" x2="463.60" y2="485.49" stroke="#4a4a4a" stroke-width="0.80"/>
<line x1="459.60" y1="482.11" x2="463.60" y2="482.11" stroke="#4a4a4a" stroke-width="0.80"/>
<line x1="459.60" y1="479.34" x2="463.60" y2="479.34" stroke="#4a4a4a" stroke-width="0.80"/>
<line x1="459.60" y1="477.01" x2="463.60" y2="477.01" stroke="#4a4a4a" stroke-width="0.80"/>
<line x1="459.60" y1="474.98" x2="463.60" y2="474.98" stroke="#4a4a4a" stroke-width="0.80"/>
<line x1="459.60" y1="473.20" x2="463.60" y2="473.20" stroke="#4a4a4a" stroke-width="0.80"/>
<line x1="456.80" y1="471.60" x2="463.60" y2="471.60" stroke="#4a4a4a" stroke-width="1.00"/>
<text x="438.90" y="475.30" font-size="10.80" fill="#111" stroke="#111" stroke-width="0.20">10<tspan dy="-3.8" font-size="7.5">4</tspan></text>
<rect x="480.55" y="507.88" width="31.60" height="68.42" fill="#9dd0d3" stroke="#3a3a3a" stroke-width="0.90"/>
<line x1="496.35" y1="576.30" x2="496.35" y2="583.00" stroke="#4a4a4a" stroke-width="1.00"/>
<line x1="487.35" y1="507.88" x2="505.35" y2="507.88" stroke="#333" stroke-width="0.80"/>
<circle cx="487.55" cy="507.88" r="2.20" fill="#fff" stroke="#333" stroke-width="0.80" fill-opacity="0"/>
<circle cx="496.35" cy="507.88" r="2.20" fill="#fff" stroke="#333" stroke-width="0.80" fill-opacity="0"/>
<circle cx="504.95" cy="507.88" r="2.20" fill="#fff" stroke="#333" stroke-width="0.80" fill-opacity="0"/>
<rect x="529.00" y="524.40" width="31.60" height="51.90" fill="#a3a1d1" stroke="#3a3a3a" stroke-width="0.90"/>
<line x1="544.80" y1="576.30" x2="544.80" y2="583.00" stroke="#4a4a4a" stroke-width="1.00"/>
<line x1="535.80" y1="524.40" x2="553.80" y2="524.40" stroke="#333" stroke-width="0.80"/>
<circle cx="536.00" cy="524.40" r="2.20" fill="#fff" stroke="#333" stroke-width="0.80" fill-opacity="0"/>
<circle cx="544.80" cy="524.40" r="2.20" fill="#fff" stroke="#333" stroke-width="0.80" fill-opacity="0"/>
<circle cx="553.40" cy="524.40" r="2.20" fill="#fff" stroke="#333" stroke-width="0.80" fill-opacity="0"/>
<rect x="577.50" y="523.49" width="31.60" height="52.81" fill="#98d0b3" stroke="#3a3a3a" stroke-width="0.90"/>
<line x1="593.30" y1="576.30" x2="593.30" y2="583.00" stroke="#4a4a4a" stroke-width="1.00"/>
<line x1="584.30" y1="523.49" x2="602.30" y2="523.49" stroke="#333" stroke-width="0.80"/>
<circle cx="584.50" cy="523.49" r="2.20" fill="#fff" stroke="#333" stroke-width="0.80" fill-opacity="0"/>
<circle cx="593.30" cy="523.49" r="2.20" fill="#fff" stroke="#333" stroke-width="0.80" fill-opacity="0"/>
<circle cx="601.90" cy="523.49" r="2.20" fill="#fff" stroke="#333" stroke-width="0.80" fill-opacity="0"/>
<rect x="626.00" y="546.81" width="31.60" height="29.49" fill="#b4d79e" stroke="#3a3a3a" stroke-width="0.90"/>
<line x1="641.80" y1="576.30" x2="641.80" y2="583.00" stroke="#4a4a4a" stroke-width="1.00"/>
<line x1="632.80" y1="546.81" x2="650.80" y2="546.81" stroke="#333" stroke-width="0.80"/>
<circle cx="633.00" cy="546.81" r="2.20" fill="#fff" stroke="#333" stroke-width="0.80" fill-opacity="0"/>
<circle cx="641.80" cy="546.81" r="2.20" fill="#fff" stroke="#333" stroke-width="0.80" fill-opacity="0"/>
<circle cx="650.40" cy="546.81" r="2.20" fill="#fff" stroke="#333" stroke-width="0.80" fill-opacity="0"/>
<line x1="496.50" y1="485.70" x2="642.50" y2="485.70" stroke="#bdbdbd" stroke-width="1.10"/>
<line x1="496.50" y1="499.50" x2="545.00" y2="499.50" stroke="#bdbdbd" stroke-width="1.10"/>
<line x1="545.20" y1="517.20" x2="593.70" y2="517.20" stroke="#bdbdbd" stroke-width="1.10"/>
<text x="547.60" y="483.40" font-size="10.40" fill="#111" textLength="44.6" lengthAdjust="spacingAndGlyphs" stroke="#111" stroke-width="0.20"><tspan font-style="italic">P</tspan> = 0.0007</text>
<text x="498.60" y="498.30" font-size="10.40" fill="#111" textLength="44.6" lengthAdjust="spacingAndGlyphs" stroke="#111" stroke-width="0.20"><tspan font-style="italic">P</tspan> = 0.0001</text>
<text x="569.80" y="516.00" font-size="10.00" text-anchor="middle" fill="#111" stroke="#111" stroke-width="0.20">NS</text>
<text transform="translate(410.00,584.80) rotate(-90)" font-size="14.00" font-weight="bold" fill="#111" stroke="#111" stroke-width="0.20">Liposome Binding</text>
<text transform="translate(427.00,525.00) rotate(-90)" font-size="14.00" text-anchor="middle" fill="#111" stroke="#111" stroke-width="0.20">(MFI<tspan dy="3" font-size="10">AF647</tspan><tspan dy="-3">)</tspan></text>
<text x="413.00" y="597.30" font-size="12.00" font-weight="bold" fill="#111" stroke="#111" stroke-width="0.20">DSPC</text>
<text x="413.00" y="613.20" font-size="12.00" font-weight="bold" fill="#111" stroke="#111" stroke-width="0.20">GM1</text>
<text x="413.00" y="626.90" font-size="12.00" font-weight="bold" fill="#111" stroke="#111" stroke-width="0.20">GA1</text>
<text x="497.80" y="598.00" font-size="12.00" text-anchor="middle" fill="#111" stroke="#111" stroke-width="0.20">58.5</text>
<text x="544.60" y="598.00" font-size="12.00" text-anchor="middle" fill="#111" stroke="#111" stroke-width="0.20">41.5</text>
<text x="593.90" y="598.00" font-size="12.00" text-anchor="middle" fill="#111" stroke="#111" stroke-width="0.20">38.5</text>
<text x="642.30" y="598.00" font-size="12.00" text-anchor="middle" fill="#111" stroke="#111" stroke-width="0.20">41.5</text>
<text x="495.40" y="613.80" font-size="12.00" text-anchor="middle" fill="#111" stroke="#111" stroke-width="0.20">3</text>
<text x="543.90" y="613.80" font-size="12.00" text-anchor="middle" fill="#111" stroke="#111" stroke-width="0.20">20</text>
<text x="591.80" y="613.80" font-size="12.00" text-anchor="middle" fill="#111" stroke="#111" stroke-width="0.20">3</text>
<text x="640.50" y="613.80" font-size="12.00" text-anchor="middle" fill="#111" stroke="#111" stroke-width="0.20">0</text>
<text x="495.40" y="627.60" font-size="12.00" text-anchor="middle" fill="#111" stroke="#111" stroke-width="0.20">0</text>
<text x="543.90" y="627.60" font-size="12.00" text-anchor="middle" fill="#111" stroke="#111" stroke-width="0.20">0</text>
<text x="591.80" y="627.60" font-size="12.00" text-anchor="middle" fill="#111" stroke="#111" stroke-width="0.20">20</text>
<text x="640.50" y="627.60" font-size="12.00" text-anchor="middle" fill="#111" stroke="#111" stroke-width="0.20">20</text>
<path d="M454.0,591.0 C457.5,591.3 461,591.6 465.0,592.6" fill="none" stroke="#555" stroke-width="0.80"/>
<path d="M454.0,595.0 C457.5,594.8 461,594.6 465.0,593.9" fill="none" stroke="#555" stroke-width="0.80"/>
<circle cx="468.0" cy="593.3" r="3.2" fill="url(#gbead)" stroke="#2a7a2a" stroke-width="0.6"/>
<line x1="453.50" y1="611.80" x2="459.90" y2="606.40" stroke="#555" stroke-width="0.50"/>
<line x1="459.90" y1="606.40" x2="466.20" y2="606.40" stroke="#555" stroke-width="0.50"/>
<line x1="466.20" y1="606.40" x2="472.30" y2="606.40" stroke="#555" stroke-width="0.50"/>
<line x1="466.20" y1="606.40" x2="459.90" y2="612.80" stroke="#555" stroke-width="0.50"/>
<circle cx="453.50" cy="611.80" r="2.50" fill="#f5d90a" stroke="#8a7a10" stroke-width="0.35"/>
<rect x="457.40" y="603.90" width="5.00" height="5.00" fill="#f5d90a" stroke="#8a7a10" stroke-width="0.35"/>
<circle cx="466.20" cy="606.40" r="2.50" fill="#f5d90a" stroke="#8a7a10" stroke-width="0.35"/>
<circle cx="472.30" cy="606.40" r="2.50" fill="#2b2a8f" stroke="#1a1a5a" stroke-width="0.35"/>
<path d="M459.90,609.67L463.02,612.80L459.90,615.92L456.77,612.80Z" fill="#9b22a8" stroke="#5a1060" stroke-width="0.35"/>
<line x1="453.50" y1="627.40" x2="459.90" y2="622.00" stroke="#555" stroke-width="0.50"/>
<line x1="459.90" y1="622.00" x2="466.20" y2="622.00" stroke="#555" stroke-width="0.50"/>
<line x1="466.20" y1="622.00" x2="472.30" y2="622.00" stroke="#555" stroke-width="0.50"/>
<circle cx="453.50" cy="627.40" r="2.50" fill="#f5d90a" stroke="#8a7a10" stroke-width="0.35"/>
<rect x="457.40" y="619.50" width="5.00" height="5.00" fill="#f5d90a" stroke="#8a7a10" stroke-width="0.35"/>
<circle cx="466.20" cy="622.00" r="2.50" fill="#f5d90a" stroke="#8a7a10" stroke-width="0.35"/>
<circle cx="472.30" cy="622.00" r="2.50" fill="#2b2a8f" stroke="#1a1a5a" stroke-width="0.35"/>
<text x="467.00" y="647.30" font-size="14.00" fill="#111" stroke="#111" stroke-width="0.20"><tspan font-weight="bold">Liposome Composition</tspan> (mol%)</text>
</svg></body></html>
